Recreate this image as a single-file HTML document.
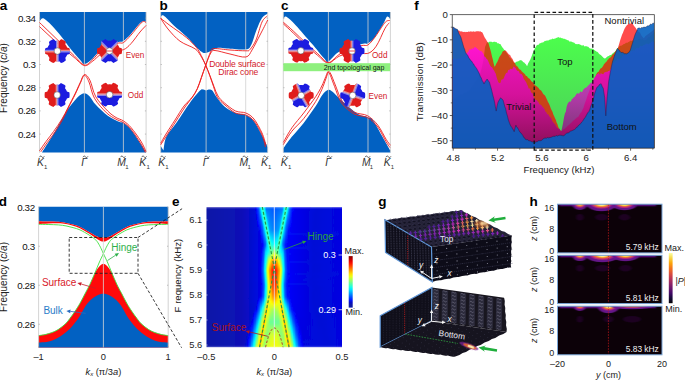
<!DOCTYPE html><html><head><meta charset="utf-8"><style>html,body{margin:0;padding:0;background:#fff;width:685px;height:380px;overflow:hidden}svg{display:block}</style></head><body><svg width="685" height="380" viewBox="0 0 685 380">
<rect width="685" height="380" fill="#fff"/>
<defs><filter id="gsoft" x="-0.15" y="-0.15" width="1.3" height="1.3"><feGaussianBlur stdDeviation="0.5"/></filter></defs>
<path d="M39.50,12.00 L39.50,21.50 C40.10,20.97 41.05,17.65 43.10,18.30 C45.15,18.95 48.77,22.38 51.80,25.40 C54.83,28.42 58.15,32.47 61.30,36.40 C64.45,40.33 67.55,45.05 70.70,49.00 C73.85,52.95 77.92,57.60 80.20,60.10 C82.48,62.60 82.32,64.28 84.40,64.00 C86.48,63.72 89.87,60.93 92.70,58.40 C95.53,55.87 98.52,51.12 101.40,48.80 C104.28,46.48 107.12,45.65 110.00,44.50 C112.88,43.35 116.47,42.48 118.70,41.90 C120.93,41.32 121.37,42.32 123.40,41.00 C125.43,39.68 128.20,36.90 130.90,34.00 C133.60,31.10 137.43,25.77 139.60,23.60 C141.77,21.43 142.82,21.23 143.90,21.00 C144.98,20.77 145.73,22.00 146.10,22.20 L146.10,22.20 L146.10,12.00 Z" fill="#0261c2"/>
<path d="M39.50,152.60 L42.00,152.60 C44.17,149.10 51.00,138.37 55.00,131.60 C59.00,124.83 62.92,116.93 66.00,112.00 C69.08,107.07 71.25,104.73 73.50,102.00 C75.75,99.27 77.68,97.07 79.50,95.60 C81.32,94.13 82.73,93.10 84.40,93.20 C86.07,93.30 87.60,94.27 89.50,96.20 C91.40,98.13 92.77,101.55 95.80,104.80 C98.83,108.05 103.75,112.83 107.70,115.70 C111.65,118.57 116.88,120.82 119.50,122.00 C122.12,123.18 121.43,121.48 123.40,122.80 C125.37,124.12 128.40,126.37 131.30,129.90 C134.20,133.43 138.33,140.27 140.80,144.00 C143.27,147.73 145.22,150.92 146.10,152.30 L146.10,152.30 L146.10,152.60 Z" fill="#0261c2"/>
<line x1="84.40" y1="12.00" x2="84.40" y2="152.60" stroke="#d0d0d0" stroke-width="0.8"/>
<line x1="123.40" y1="12.00" x2="123.40" y2="152.60" stroke="#d0d0d0" stroke-width="0.8"/>
<line x1="39.50" y1="12.00" x2="39.50" y2="152.60" stroke="#c8c8c8" stroke-width="0.8"/>
<line x1="146.10" y1="12.00" x2="146.10" y2="152.60" stroke="#c8c8c8" stroke-width="0.8"/>
<line x1="39.50" y1="18.10" x2="40.70" y2="18.10" stroke="#999" stroke-width="0.6"/>
<line x1="144.90" y1="18.10" x2="146.10" y2="18.10" stroke="#999" stroke-width="0.6"/>
<line x1="39.50" y1="41.30" x2="40.70" y2="41.30" stroke="#999" stroke-width="0.6"/>
<line x1="144.90" y1="41.30" x2="146.10" y2="41.30" stroke="#999" stroke-width="0.6"/>
<line x1="39.50" y1="64.50" x2="40.70" y2="64.50" stroke="#999" stroke-width="0.6"/>
<line x1="144.90" y1="64.50" x2="146.10" y2="64.50" stroke="#999" stroke-width="0.6"/>
<line x1="39.50" y1="87.70" x2="40.70" y2="87.70" stroke="#999" stroke-width="0.6"/>
<line x1="144.90" y1="87.70" x2="146.10" y2="87.70" stroke="#999" stroke-width="0.6"/>
<line x1="39.50" y1="110.90" x2="40.70" y2="110.90" stroke="#999" stroke-width="0.6"/>
<line x1="144.90" y1="110.90" x2="146.10" y2="110.90" stroke="#999" stroke-width="0.6"/>
<line x1="39.50" y1="134.10" x2="40.70" y2="134.10" stroke="#999" stroke-width="0.6"/>
<line x1="144.90" y1="134.10" x2="146.10" y2="134.10" stroke="#999" stroke-width="0.6"/>
<path d="M39.50,22.50 C41.25,24.18 46.25,28.98 50.00,32.60 C53.75,36.22 58.00,40.38 62.00,44.20 C66.00,48.02 70.27,52.03 74.00,55.50 C77.73,58.97 81.28,64.33 84.40,65.00 C87.52,65.67 89.87,62.00 92.70,59.50 C95.53,57.00 98.52,52.33 101.40,50.00 C104.28,47.67 107.12,46.67 110.00,45.50 C112.88,44.33 116.47,43.48 118.70,43.00 C120.93,42.52 121.37,43.90 123.40,42.60 C125.43,41.30 128.20,38.20 130.90,35.20 C133.60,32.20 137.50,26.90 139.60,24.60 C141.70,22.30 142.42,21.70 143.50,21.40 C144.58,21.10 145.67,22.57 146.10,22.80" fill="none" stroke="#ee1c1c" stroke-width="0.90"/>
<path d="M39.50,26.60 C41.25,28.23 46.25,32.95 50.00,36.40 C53.75,39.85 58.00,43.82 62.00,47.30 C66.00,50.78 70.27,54.25 74.00,57.30 C77.73,60.35 81.28,64.95 84.40,65.60 C87.52,66.25 89.87,63.13 92.70,61.20 C95.53,59.27 98.02,55.70 101.40,54.00 C104.78,52.30 109.33,51.72 113.00,51.00 C116.67,50.28 120.40,50.93 123.40,49.70 C126.40,48.47 128.23,46.55 131.00,43.60 C133.77,40.65 137.48,35.03 140.00,32.00 C142.52,28.97 145.08,26.50 146.10,25.40" fill="none" stroke="#ee1c1c" stroke-width="0.90"/>
<path d="M39.50,150.80 C40.58,149.25 43.67,144.70 46.00,141.50 C48.33,138.30 50.83,135.35 53.50,131.60 C56.17,127.85 59.58,123.02 62.00,119.00 C64.42,114.98 65.82,111.73 68.00,107.50 C70.18,103.27 73.10,97.68 75.10,93.60 C77.10,89.52 78.45,86.17 80.00,83.00 C81.55,79.83 82.75,75.07 84.40,74.60 C86.05,74.13 88.00,76.50 89.90,80.20 C91.80,83.90 92.83,91.67 95.80,96.80 C98.77,101.93 104.33,107.55 107.70,111.00 C111.07,114.45 113.38,115.85 116.00,117.50 C118.62,119.15 120.90,119.23 123.40,120.90 C125.90,122.57 128.10,124.15 131.00,127.50 C133.90,130.85 138.28,136.98 140.80,141.00 C143.32,145.02 145.22,149.83 146.10,151.60" fill="none" stroke="#ee1c1c" stroke-width="0.90"/>
<path d="M40.80,151.80 C41.87,150.27 44.93,145.75 47.20,142.60 C49.47,139.45 51.85,136.70 54.40,132.90 C56.95,129.10 60.18,123.95 62.50,119.80 C64.82,115.65 66.17,112.28 68.30,108.00 C70.43,103.72 73.32,98.20 75.30,94.10 C77.28,90.00 78.68,86.52 80.20,83.40 C81.72,80.28 82.93,75.63 84.40,75.40 C85.87,75.17 87.32,78.18 89.00,82.00 C90.68,85.82 91.58,93.17 94.50,98.30 C97.42,103.43 102.92,109.32 106.50,112.80 C110.08,116.28 113.18,117.57 116.00,119.20 C118.82,120.83 120.90,120.92 123.40,122.60 C125.90,124.28 128.18,125.93 131.00,129.30 C133.82,132.67 137.92,138.95 140.30,142.80 C142.68,146.65 144.47,150.80 145.30,152.40" fill="none" stroke="#ee1c1c" stroke-width="0.90"/>
<path d="M160.70,12.00 L160.70,17.50 C161.17,17.18 161.32,14.28 163.50,15.60 C165.68,16.92 169.98,21.93 173.80,25.40 C177.62,28.87 182.45,32.58 186.40,36.40 C190.35,40.22 194.87,45.67 197.50,48.30 C200.13,50.93 200.77,51.42 202.20,52.20 C203.63,52.98 204.52,53.27 206.10,53.00 C207.68,52.73 209.72,51.47 211.70,50.60 C213.68,49.73 215.45,48.15 218.00,47.80 C220.55,47.45 222.37,48.23 227.00,48.50 C231.63,48.77 241.75,50.03 245.80,49.40 C249.85,48.77 249.52,47.93 251.30,44.70 C253.08,41.47 254.72,34.45 256.50,30.00 C258.28,25.55 260.13,20.75 262.00,18.00 C263.87,15.25 266.75,14.25 267.70,13.50 L267.70,12.00 Z" fill="#0261c2"/>
<path d="M160.70,152.60 L160.70,146.00 L163.50,150.50 C163.98,148.22 164.15,141.55 166.40,136.80 C168.65,132.05 173.13,127.60 177.00,122.00 C180.87,116.40 185.77,108.45 189.60,103.20 C193.43,97.95 197.68,92.78 200.00,90.50 C202.32,88.22 202.48,89.50 203.50,89.50 C204.52,89.50 205.23,90.50 206.10,90.50 C206.97,90.50 207.67,89.50 208.70,89.50 C209.73,89.50 211.00,89.25 212.30,90.50 C213.60,91.75 214.47,94.32 216.50,97.00 C218.53,99.68 221.33,103.93 224.50,106.60 C227.67,109.27 231.95,111.62 235.50,113.00 C239.05,114.38 242.72,113.50 245.80,114.90 C248.88,116.30 251.40,118.17 254.00,121.40 C256.60,124.63 259.12,130.00 261.40,134.30 C263.68,138.60 266.65,145.05 267.70,147.20 L267.70,152.60 Z" fill="#0261c2"/>
<line x1="206.10" y1="12.00" x2="206.10" y2="152.60" stroke="#d0d0d0" stroke-width="0.8"/>
<line x1="245.70" y1="12.00" x2="245.70" y2="152.60" stroke="#d0d0d0" stroke-width="0.8"/>
<line x1="160.70" y1="12.00" x2="160.70" y2="152.60" stroke="#c8c8c8" stroke-width="0.8"/>
<line x1="267.70" y1="12.00" x2="267.70" y2="152.60" stroke="#c8c8c8" stroke-width="0.8"/>
<line x1="160.70" y1="18.10" x2="161.90" y2="18.10" stroke="#999" stroke-width="0.6"/>
<line x1="266.50" y1="18.10" x2="267.70" y2="18.10" stroke="#999" stroke-width="0.6"/>
<line x1="160.70" y1="41.30" x2="161.90" y2="41.30" stroke="#999" stroke-width="0.6"/>
<line x1="266.50" y1="41.30" x2="267.70" y2="41.30" stroke="#999" stroke-width="0.6"/>
<line x1="160.70" y1="64.50" x2="161.90" y2="64.50" stroke="#999" stroke-width="0.6"/>
<line x1="266.50" y1="64.50" x2="267.70" y2="64.50" stroke="#999" stroke-width="0.6"/>
<line x1="160.70" y1="87.70" x2="161.90" y2="87.70" stroke="#999" stroke-width="0.6"/>
<line x1="266.50" y1="87.70" x2="267.70" y2="87.70" stroke="#999" stroke-width="0.6"/>
<line x1="160.70" y1="110.90" x2="161.90" y2="110.90" stroke="#999" stroke-width="0.6"/>
<line x1="266.50" y1="110.90" x2="267.70" y2="110.90" stroke="#999" stroke-width="0.6"/>
<line x1="160.70" y1="134.10" x2="161.90" y2="134.10" stroke="#999" stroke-width="0.6"/>
<line x1="266.50" y1="134.10" x2="267.70" y2="134.10" stroke="#999" stroke-width="0.6"/>
<path d="M160.70,18.30 C162.25,19.50 165.72,22.30 170.00,25.50 C174.28,28.70 181.98,33.83 186.40,37.50 C190.82,41.17 194.03,44.50 196.50,47.50 C198.97,50.50 199.67,52.55 201.20,55.50 C202.73,58.45 204.23,61.82 205.70,65.20 C207.17,68.58 208.62,72.25 210.00,75.80 C211.38,79.35 212.67,83.13 214.00,86.50 C215.33,89.87 216.25,93.25 218.00,96.00 C219.75,98.75 221.58,100.50 224.50,103.00 C227.42,105.50 231.95,109.33 235.50,111.00 C239.05,112.67 242.72,111.67 245.80,113.00 C248.88,114.33 251.30,115.67 254.00,119.00 C256.70,122.33 260.00,128.67 262.00,133.00 C264.00,137.33 265.33,143.00 266.00,145.00" fill="none" stroke="#ee1c1c" stroke-width="0.90"/>
<path d="M160.70,18.30 C161.92,20.08 164.78,25.18 168.00,29.00 C171.22,32.82 175.50,37.90 180.00,41.20 C184.50,44.50 191.58,46.42 195.00,48.80 C198.42,51.18 198.72,52.77 200.50,55.50 C202.28,58.23 204.15,61.82 205.70,65.20 C207.25,68.58 208.48,72.20 209.80,75.80 C211.12,79.40 212.32,83.18 213.60,86.80 C214.88,90.42 215.60,94.47 217.50,97.50 C219.40,100.53 222.00,102.42 225.00,105.00 C228.00,107.58 232.03,111.33 235.50,113.00 C238.97,114.67 242.72,113.67 245.80,115.00 C248.88,116.33 251.30,117.67 254.00,121.00 C256.70,124.33 260.08,130.67 262.00,135.00 C263.92,139.33 264.92,145.00 265.50,147.00" fill="none" stroke="#ee1c1c" stroke-width="0.90"/>
<path d="M267.20,16.00 C266.33,17.00 263.87,18.00 262.00,22.00 C260.13,26.00 258.00,35.42 256.00,40.00 C254.00,44.58 251.70,47.70 250.00,49.50 C248.30,51.30 249.13,50.72 245.80,50.80 C242.47,50.88 235.30,50.37 230.00,50.00 C224.70,49.63 217.25,48.27 214.00,48.60 C210.75,48.93 211.88,49.23 210.50,52.00 C209.12,54.77 207.20,60.95 205.70,65.20 C204.20,69.45 202.87,73.62 201.50,77.50 C200.13,81.38 199.00,85.25 197.50,88.50 C196.00,91.75 194.75,94.08 192.50,97.00 C190.25,99.92 186.92,102.17 184.00,106.00 C181.08,109.83 178.00,115.33 175.00,120.00 C172.00,124.67 168.38,130.13 166.00,134.00 C163.62,137.87 161.58,141.67 160.70,143.20" fill="none" stroke="#ee1c1c" stroke-width="0.90"/>
<path d="M267.70,20.00 C266.42,22.50 262.62,30.00 260.00,35.00 C257.38,40.00 254.37,46.33 252.00,50.00 C249.63,53.67 249.47,56.33 245.80,57.00 C242.13,57.67 235.13,55.08 230.00,54.00 C224.87,52.92 218.20,50.67 215.00,50.50 C211.80,50.33 212.35,50.55 210.80,53.00 C209.25,55.45 207.28,61.12 205.70,65.20 C204.12,69.28 202.72,73.57 201.30,77.50 C199.88,81.43 198.75,85.47 197.20,88.80 C195.65,92.13 194.03,94.47 192.00,97.50 C189.97,100.53 187.67,103.08 185.00,107.00 C182.33,110.92 179.00,116.33 176.00,121.00 C173.00,125.67 169.55,131.03 167.00,135.00 C164.45,138.97 161.75,143.17 160.70,144.80" fill="none" stroke="#ee1c1c" stroke-width="0.90"/>
<path d="M283.30,12.00 L283.30,19.00 C283.82,18.62 284.30,15.63 286.40,16.70 C288.50,17.77 291.68,20.93 295.90,25.40 C300.12,29.87 306.97,37.98 311.70,43.50 C316.43,49.02 321.55,55.47 324.30,58.50 C327.05,61.53 325.87,62.73 328.20,61.70 C330.53,60.67 334.37,54.75 338.30,52.30 C342.23,49.85 347.47,48.45 351.80,47.00 C356.13,45.55 361.63,44.20 364.30,43.60 C366.97,43.00 366.07,44.42 367.80,43.40 C369.53,42.38 372.10,40.80 374.70,37.50 C377.30,34.20 381.37,27.07 383.40,23.60 C385.43,20.13 385.82,17.57 386.90,16.70 C387.98,15.83 389.40,18.12 389.90,18.40 L390.40,18.40 L390.40,12.00 Z" fill="#0261c2"/>
<path d="M283.30,152.60 L283.30,148.50 C284.68,146.60 288.20,141.37 291.60,137.10 C295.00,132.83 299.70,128.03 303.70,122.90 C307.70,117.77 312.50,110.95 315.60,106.30 C318.70,101.65 320.20,97.75 322.30,95.00 C324.40,92.25 326.43,90.30 328.20,89.80 C329.97,89.30 330.93,90.45 332.90,92.00 C334.87,93.55 337.23,96.53 340.00,99.10 C342.77,101.67 346.35,104.83 349.50,107.40 C352.65,109.97 355.90,112.92 358.90,114.50 C361.90,116.08 365.13,115.92 367.50,116.90 C369.87,117.88 370.58,117.05 373.10,120.40 C375.62,123.75 379.80,132.07 382.60,137.00 C385.40,141.93 388.68,147.83 389.90,150.00 L390.40,150.00 L390.40,152.60 Z" fill="#0261c2"/>
<line x1="328.40" y1="12.00" x2="328.40" y2="152.60" stroke="#d0d0d0" stroke-width="0.8"/>
<line x1="368.00" y1="12.00" x2="368.00" y2="152.60" stroke="#d0d0d0" stroke-width="0.8"/>
<line x1="283.30" y1="12.00" x2="283.30" y2="152.60" stroke="#c8c8c8" stroke-width="0.8"/>
<line x1="390.40" y1="12.00" x2="390.40" y2="152.60" stroke="#c8c8c8" stroke-width="0.8"/>
<line x1="283.30" y1="18.10" x2="284.50" y2="18.10" stroke="#999" stroke-width="0.6"/>
<line x1="389.20" y1="18.10" x2="390.40" y2="18.10" stroke="#999" stroke-width="0.6"/>
<line x1="283.30" y1="41.30" x2="284.50" y2="41.30" stroke="#999" stroke-width="0.6"/>
<line x1="389.20" y1="41.30" x2="390.40" y2="41.30" stroke="#999" stroke-width="0.6"/>
<line x1="283.30" y1="64.50" x2="284.50" y2="64.50" stroke="#999" stroke-width="0.6"/>
<line x1="389.20" y1="64.50" x2="390.40" y2="64.50" stroke="#999" stroke-width="0.6"/>
<line x1="283.30" y1="87.70" x2="284.50" y2="87.70" stroke="#999" stroke-width="0.6"/>
<line x1="389.20" y1="87.70" x2="390.40" y2="87.70" stroke="#999" stroke-width="0.6"/>
<line x1="283.30" y1="110.90" x2="284.50" y2="110.90" stroke="#999" stroke-width="0.6"/>
<line x1="389.20" y1="110.90" x2="390.40" y2="110.90" stroke="#999" stroke-width="0.6"/>
<line x1="283.30" y1="134.10" x2="284.50" y2="134.10" stroke="#999" stroke-width="0.6"/>
<line x1="389.20" y1="134.10" x2="390.40" y2="134.10" stroke="#999" stroke-width="0.6"/>
<path d="M283.30,22.20 C285.05,23.75 290.05,28.03 293.80,31.50 C297.55,34.97 301.80,39.28 305.80,43.00 C309.80,46.72 314.07,50.55 317.80,53.80 C321.53,57.05 324.87,62.22 328.20,62.50 C331.53,62.78 334.53,57.75 337.80,55.50 C341.07,53.25 343.80,50.67 347.80,49.00 C351.80,47.33 358.47,46.17 361.80,45.50 C365.13,44.83 365.65,46.33 367.80,45.00 C369.95,43.67 372.10,40.92 374.70,37.50 C377.30,34.08 381.38,27.25 383.40,24.50 C385.42,21.75 385.72,21.67 386.80,21.00 C387.88,20.33 389.38,20.58 389.90,20.50" fill="none" stroke="#ee1c1c" stroke-width="0.90"/>
<path d="M283.30,23.80 C285.05,25.42 290.05,29.97 293.80,33.50 C297.55,37.03 301.80,41.33 305.80,45.00 C309.80,48.67 314.07,52.50 317.80,55.50 C321.53,58.50 324.55,62.92 328.20,63.00 C331.85,63.08 335.27,57.83 339.70,56.00 C344.13,54.17 350.17,52.42 354.80,52.00 C359.43,51.58 363.93,54.47 367.50,53.50 C371.07,52.53 373.32,50.32 376.20,46.20 C379.08,42.08 382.63,32.70 384.80,28.80 C386.97,24.90 388.47,23.80 389.20,22.80" fill="none" stroke="#ee1c1c" stroke-width="0.90"/>
<path d="M283.30,142.40 C284.73,139.97 288.50,132.70 291.90,127.80 C295.30,122.90 299.75,118.17 303.70,113.00 C307.65,107.83 312.58,101.30 315.60,96.80 C318.62,92.30 320.10,89.38 321.80,86.00 C323.50,82.62 324.73,78.95 325.80,76.50 C326.87,74.05 327.37,71.72 328.20,71.30 C329.03,70.88 329.62,71.72 330.80,74.00 C331.98,76.28 333.37,80.42 335.30,85.00 C337.23,89.58 339.25,96.98 342.40,101.50 C345.55,106.02 350.02,109.73 354.20,112.10 C358.38,114.47 363.57,113.53 367.50,115.70 C371.43,117.87 374.70,121.17 377.80,125.10 C380.90,129.03 384.00,135.93 386.10,139.30 C388.20,142.67 389.68,144.30 390.40,145.30" fill="none" stroke="#ee1c1c" stroke-width="0.90"/>
<path d="M283.30,144.60 C284.73,142.37 288.50,135.53 291.90,131.20 C295.30,126.87 299.75,123.53 303.70,118.60 C307.65,113.67 312.58,106.45 315.60,101.60 C318.62,96.75 320.10,93.27 321.80,89.50 C323.50,85.73 324.73,81.82 325.80,79.00 C326.87,76.18 327.43,73.18 328.20,72.60 C328.97,72.02 329.33,73.17 330.40,75.50 C331.47,77.83 332.73,82.02 334.60,86.60 C336.47,91.18 338.33,98.43 341.60,103.00 C344.87,107.57 349.88,111.57 354.20,114.00 C358.52,116.43 363.57,115.43 367.50,117.60 C371.43,119.77 374.75,123.07 377.80,127.00 C380.85,130.93 383.78,137.78 385.80,141.20 C387.82,144.62 389.22,146.45 389.90,147.50" fill="none" stroke="#ee1c1c" stroke-width="0.90"/>
<rect x="283.30" y="63.2" width="106.8" height="8.0" fill="#8ef07e"/>
<text x="354.0" y="69.7" font-family="Liberation Sans, sans-serif" font-size="7.0" fill="#111" text-anchor="middle">2nd topological gap</text>
<clipPath id="g574_511"><path d="M69.90,51.10 L69.89,51.65 L69.85,52.19 L69.79,52.73 L69.71,53.27 L69.60,53.81 L68.73,54.14 L67.82,54.38 L67.15,54.65 L66.99,55.07 L66.80,55.48 L66.60,55.89 L66.39,56.29 L66.15,56.67 L65.90,57.05 L65.63,57.42 L65.35,57.77 L65.45,58.48 L65.69,59.39 L65.84,60.32 L65.43,60.68 L65.01,61.02 L64.57,61.34 L64.12,61.64 L63.65,61.93 L63.17,62.19 L62.68,62.43 L62.18,62.65 L61.68,62.85 L61.16,63.02 L60.44,62.43 L59.76,61.76 L59.20,61.32 L58.75,61.39 L58.30,61.44 L57.85,61.47 L57.40,61.48 L56.95,61.47 L56.50,61.44 L56.05,61.39 L55.60,61.32 L55.04,61.76 L54.36,62.43 L53.64,63.02 L53.12,62.85 L52.62,62.65 L52.12,62.43 L51.63,62.19 L51.15,61.93 L50.68,61.64 L50.23,61.34 L49.79,61.02 L49.37,60.68 L48.96,60.32 L49.11,59.39 L49.35,58.48 L49.45,57.77 L49.17,57.42 L48.90,57.05 L48.65,56.67 L48.41,56.29 L48.20,55.89 L48.00,55.48 L47.81,55.07 L47.65,54.65 L46.98,54.38 L46.07,54.14 L45.20,53.81 L45.09,53.27 L45.01,52.73 L44.95,52.19 L44.91,51.65 L44.90,51.10 L44.91,50.55 L44.95,50.01 L45.01,49.47 L45.09,48.93 L45.20,48.39 L46.07,48.06 L46.98,47.82 L47.65,47.55 L47.81,47.13 L48.00,46.72 L48.20,46.31 L48.41,45.91 L48.65,45.53 L48.90,45.15 L49.17,44.78 L49.45,44.43 L49.35,43.72 L49.11,42.81 L48.96,41.88 L49.37,41.52 L49.79,41.18 L50.23,40.86 L50.68,40.56 L51.15,40.27 L51.63,40.01 L52.12,39.77 L52.62,39.55 L53.12,39.35 L53.64,39.18 L54.36,39.77 L55.04,40.44 L55.60,40.88 L56.05,40.81 L56.50,40.76 L56.95,40.73 L57.40,40.73 L57.85,40.73 L58.30,40.76 L58.75,40.81 L59.20,40.88 L59.76,40.44 L60.44,39.77 L61.16,39.18 L61.68,39.35 L62.18,39.55 L62.68,39.77 L63.17,40.01 L63.65,40.27 L64.12,40.56 L64.57,40.86 L65.01,41.18 L65.43,41.52 L65.84,41.88 L65.69,42.81 L65.45,43.72 L65.35,44.43 L65.63,44.78 L65.90,45.15 L66.15,45.53 L66.39,45.91 L66.60,46.31 L66.80,46.72 L66.99,47.13 L67.15,47.55 L67.82,47.82 L68.73,48.06 L69.60,48.39 L69.71,48.93 L69.79,49.47 L69.85,50.01 L69.89,50.55 Z"/></clipPath>
<g filter="url(#gsoft)"><g clip-path="url(#g574_511)">
<path d="M57.40,51.10 L37.40,51.10 A20.00,20.00 0 0 1 57.40,31.10 Z" fill="#1c1ce0"/>
<path d="M57.40,51.10 L57.40,31.10 A20.00,20.00 0 0 1 77.40,51.10 Z" fill="#e01e1e"/>
<path d="M57.40,51.10 L57.40,71.10 A20.00,20.00 0 0 1 37.40,51.10 Z" fill="#e01e1e"/>
<path d="M57.40,51.10 L77.40,51.10 A20.00,20.00 0 0 1 57.40,71.10 Z" fill="#1c1ce0"/>
<line x1="57.40" y1="51.10" x2="73.65" y2="51.10" stroke="#f4eef4" stroke-width="2.8" stroke-opacity="0.5"/>
<line x1="57.40" y1="51.10" x2="57.40" y2="67.35" stroke="#f4eef4" stroke-width="2.8" stroke-opacity="0.5"/>
<line x1="57.40" y1="51.10" x2="41.15" y2="51.10" stroke="#f4eef4" stroke-width="2.8" stroke-opacity="0.5"/>
<line x1="57.40" y1="51.10" x2="57.40" y2="34.85" stroke="#f4eef4" stroke-width="2.8" stroke-opacity="0.5"/>
</g></g>
<circle cx="57.40" cy="51.10" r="3.25" fill="#fff" stroke="#444" stroke-width="0.5"/>
<clipPath id="g1095_510"><path d="M122.00,51.00 L121.99,51.55 L121.95,52.09 L121.89,52.63 L121.81,53.17 L121.70,53.71 L120.83,54.04 L119.92,54.28 L119.25,54.55 L119.09,54.97 L118.90,55.38 L118.70,55.79 L118.49,56.19 L118.25,56.57 L118.00,56.95 L117.73,57.32 L117.45,57.67 L117.55,58.38 L117.79,59.29 L117.94,60.22 L117.53,60.58 L117.11,60.92 L116.67,61.24 L116.22,61.54 L115.75,61.83 L115.27,62.09 L114.78,62.33 L114.28,62.55 L113.78,62.75 L113.26,62.92 L112.54,62.33 L111.86,61.66 L111.30,61.22 L110.85,61.29 L110.40,61.34 L109.95,61.37 L109.50,61.38 L109.05,61.37 L108.60,61.34 L108.15,61.29 L107.70,61.22 L107.14,61.66 L106.46,62.33 L105.74,62.92 L105.22,62.75 L104.72,62.55 L104.22,62.33 L103.73,62.09 L103.25,61.83 L102.78,61.54 L102.33,61.24 L101.89,60.92 L101.47,60.58 L101.06,60.22 L101.21,59.29 L101.45,58.38 L101.55,57.67 L101.27,57.32 L101.00,56.95 L100.75,56.57 L100.51,56.19 L100.30,55.79 L100.10,55.38 L99.91,54.97 L99.75,54.55 L99.08,54.28 L98.17,54.04 L97.30,53.71 L97.19,53.17 L97.11,52.63 L97.05,52.09 L97.01,51.55 L97.00,51.00 L97.01,50.45 L97.05,49.91 L97.11,49.37 L97.19,48.83 L97.30,48.29 L98.17,47.96 L99.08,47.72 L99.75,47.45 L99.91,47.03 L100.10,46.62 L100.30,46.21 L100.51,45.81 L100.75,45.43 L101.00,45.05 L101.27,44.68 L101.55,44.33 L101.45,43.62 L101.21,42.71 L101.06,41.78 L101.47,41.42 L101.89,41.08 L102.33,40.76 L102.78,40.46 L103.25,40.17 L103.73,39.91 L104.22,39.67 L104.72,39.45 L105.22,39.25 L105.74,39.08 L106.46,39.67 L107.14,40.34 L107.70,40.78 L108.15,40.71 L108.60,40.66 L109.05,40.63 L109.50,40.62 L109.95,40.63 L110.40,40.66 L110.85,40.71 L111.30,40.78 L111.86,40.34 L112.54,39.67 L113.26,39.08 L113.78,39.25 L114.28,39.45 L114.78,39.67 L115.27,39.91 L115.75,40.17 L116.22,40.46 L116.67,40.76 L117.11,41.08 L117.53,41.42 L117.94,41.78 L117.79,42.71 L117.55,43.62 L117.45,44.33 L117.73,44.68 L118.00,45.05 L118.25,45.43 L118.49,45.81 L118.70,46.21 L118.90,46.62 L119.09,47.03 L119.25,47.45 L119.92,47.72 L120.83,47.96 L121.70,48.29 L121.81,48.83 L121.89,49.37 L121.95,49.91 L121.99,50.45 Z"/></clipPath>
<g filter="url(#gsoft)"><g clip-path="url(#g1095_510)">
<path d="M109.50,51.00 L123.64,36.86 A20.00,20.00 0 0 1 123.64,65.14 Z" fill="#e01e1e"/>
<path d="M109.50,51.00 L95.36,65.14 A20.00,20.00 0 0 1 95.36,36.86 Z" fill="#e01e1e"/>
<path d="M109.50,51.00 L123.64,65.14 A20.00,20.00 0 0 1 95.36,65.14 Z" fill="#1c1ce0"/>
<path d="M109.50,51.00 L95.36,36.86 A20.00,20.00 0 0 1 123.64,36.86 Z" fill="#1c1ce0"/>
<line x1="109.50" y1="51.00" x2="120.99" y2="62.49" stroke="#f4eef4" stroke-width="2.8" stroke-opacity="0.5"/>
<line x1="109.50" y1="51.00" x2="98.01" y2="62.49" stroke="#f4eef4" stroke-width="2.8" stroke-opacity="0.5"/>
<line x1="109.50" y1="51.00" x2="98.01" y2="39.51" stroke="#f4eef4" stroke-width="2.8" stroke-opacity="0.5"/>
<line x1="109.50" y1="51.00" x2="120.99" y2="39.51" stroke="#f4eef4" stroke-width="2.8" stroke-opacity="0.5"/>
</g></g>
<circle cx="109.50" cy="51.00" r="3.25" fill="#fff" stroke="#444" stroke-width="0.5"/>
<line x1="106.50" y1="51.00" x2="112.50" y2="51.00" stroke="#e02020" stroke-width="0.8"/>
<clipPath id="g571_950"><path d="M69.60,95.00 L69.59,95.55 L69.55,96.09 L69.49,96.63 L69.41,97.17 L69.30,97.71 L68.43,98.04 L67.52,98.28 L66.85,98.55 L66.69,98.97 L66.50,99.38 L66.30,99.79 L66.09,100.19 L65.85,100.57 L65.60,100.95 L65.33,101.32 L65.05,101.67 L65.15,102.38 L65.39,103.29 L65.54,104.22 L65.13,104.58 L64.71,104.92 L64.27,105.24 L63.82,105.54 L63.35,105.83 L62.87,106.09 L62.38,106.33 L61.88,106.55 L61.38,106.75 L60.86,106.92 L60.14,106.33 L59.46,105.66 L58.90,105.22 L58.45,105.29 L58.00,105.34 L57.55,105.37 L57.10,105.38 L56.65,105.37 L56.20,105.34 L55.75,105.29 L55.30,105.22 L54.74,105.66 L54.06,106.33 L53.34,106.92 L52.82,106.75 L52.32,106.55 L51.82,106.33 L51.33,106.09 L50.85,105.83 L50.38,105.54 L49.93,105.24 L49.49,104.92 L49.07,104.58 L48.66,104.22 L48.81,103.29 L49.05,102.38 L49.15,101.67 L48.87,101.32 L48.60,100.95 L48.35,100.57 L48.11,100.19 L47.90,99.79 L47.70,99.38 L47.51,98.97 L47.35,98.55 L46.68,98.28 L45.77,98.04 L44.90,97.71 L44.79,97.17 L44.71,96.63 L44.65,96.09 L44.61,95.55 L44.60,95.00 L44.61,94.45 L44.65,93.91 L44.71,93.37 L44.79,92.83 L44.90,92.29 L45.77,91.96 L46.68,91.72 L47.35,91.45 L47.51,91.03 L47.70,90.62 L47.90,90.21 L48.11,89.81 L48.35,89.43 L48.60,89.05 L48.87,88.68 L49.15,88.33 L49.05,87.62 L48.81,86.71 L48.66,85.78 L49.07,85.42 L49.49,85.08 L49.93,84.76 L50.38,84.46 L50.85,84.17 L51.33,83.91 L51.82,83.67 L52.32,83.45 L52.82,83.25 L53.34,83.08 L54.06,83.67 L54.74,84.34 L55.30,84.78 L55.75,84.71 L56.20,84.66 L56.65,84.63 L57.10,84.62 L57.55,84.63 L58.00,84.66 L58.45,84.71 L58.90,84.78 L59.46,84.34 L60.14,83.67 L60.86,83.08 L61.38,83.25 L61.88,83.45 L62.38,83.67 L62.87,83.91 L63.35,84.17 L63.82,84.46 L64.27,84.76 L64.71,85.08 L65.13,85.42 L65.54,85.78 L65.39,86.71 L65.15,87.62 L65.05,88.33 L65.33,88.68 L65.60,89.05 L65.85,89.43 L66.09,89.81 L66.30,90.21 L66.50,90.62 L66.69,91.03 L66.85,91.45 L67.52,91.72 L68.43,91.96 L69.30,92.29 L69.41,92.83 L69.49,93.37 L69.55,93.91 L69.59,94.45 Z"/></clipPath>
<g filter="url(#gsoft)"><g clip-path="url(#g571_950)">
<path d="M57.10,95.00 L57.10,115.00 A20.00,20.00 0 0 1 57.10,75.00 Z" fill="#e01e1e"/>
<path d="M57.10,95.00 L57.10,75.00 A20.00,20.00 0 0 1 57.10,115.00 Z" fill="#1c1ce0"/>
<line x1="57.10" y1="95.00" x2="57.10" y2="111.25" stroke="#f4eef4" stroke-width="2.8" stroke-opacity="0.5"/>
<line x1="57.10" y1="95.00" x2="57.10" y2="78.75" stroke="#f4eef4" stroke-width="2.8" stroke-opacity="0.5"/>
</g></g>
<circle cx="57.10" cy="95.00" r="3.25" fill="#fff" stroke="#444" stroke-width="0.5"/>
<clipPath id="g1096_947"><path d="M122.10,94.70 L122.09,95.25 L122.05,95.79 L121.99,96.33 L121.91,96.87 L121.80,97.41 L120.93,97.74 L120.02,97.98 L119.35,98.25 L119.19,98.67 L119.00,99.08 L118.80,99.49 L118.59,99.89 L118.35,100.27 L118.10,100.65 L117.83,101.02 L117.55,101.37 L117.65,102.08 L117.89,102.99 L118.04,103.92 L117.63,104.28 L117.21,104.62 L116.77,104.94 L116.32,105.24 L115.85,105.53 L115.37,105.79 L114.88,106.03 L114.38,106.25 L113.88,106.45 L113.36,106.62 L112.64,106.03 L111.96,105.36 L111.40,104.92 L110.95,104.99 L110.50,105.04 L110.05,105.07 L109.60,105.08 L109.15,105.07 L108.70,105.04 L108.25,104.99 L107.80,104.92 L107.24,105.36 L106.56,106.03 L105.84,106.62 L105.32,106.45 L104.82,106.25 L104.32,106.03 L103.83,105.79 L103.35,105.53 L102.88,105.24 L102.43,104.94 L101.99,104.62 L101.57,104.28 L101.16,103.92 L101.31,102.99 L101.55,102.08 L101.65,101.37 L101.37,101.02 L101.10,100.65 L100.85,100.27 L100.61,99.89 L100.40,99.49 L100.20,99.08 L100.01,98.67 L99.85,98.25 L99.18,97.98 L98.27,97.74 L97.40,97.41 L97.29,96.87 L97.21,96.33 L97.15,95.79 L97.11,95.25 L97.10,94.70 L97.11,94.15 L97.15,93.61 L97.21,93.07 L97.29,92.53 L97.40,91.99 L98.27,91.66 L99.18,91.42 L99.85,91.15 L100.01,90.73 L100.20,90.32 L100.40,89.91 L100.61,89.51 L100.85,89.13 L101.10,88.75 L101.37,88.38 L101.65,88.03 L101.55,87.32 L101.31,86.41 L101.16,85.48 L101.57,85.12 L101.99,84.78 L102.43,84.46 L102.88,84.16 L103.35,83.87 L103.83,83.61 L104.32,83.37 L104.82,83.15 L105.32,82.95 L105.84,82.78 L106.56,83.37 L107.24,84.04 L107.80,84.48 L108.25,84.41 L108.70,84.36 L109.15,84.33 L109.60,84.33 L110.05,84.33 L110.50,84.36 L110.95,84.41 L111.40,84.48 L111.96,84.04 L112.64,83.37 L113.36,82.78 L113.88,82.95 L114.38,83.15 L114.88,83.37 L115.37,83.61 L115.85,83.87 L116.32,84.16 L116.77,84.46 L117.21,84.78 L117.63,85.12 L118.04,85.48 L117.89,86.41 L117.65,87.32 L117.55,88.03 L117.83,88.38 L118.10,88.75 L118.35,89.13 L118.59,89.51 L118.80,89.91 L119.00,90.32 L119.19,90.73 L119.35,91.15 L120.02,91.42 L120.93,91.66 L121.80,91.99 L121.91,92.53 L121.99,93.07 L122.05,93.61 L122.09,94.15 Z"/></clipPath>
<g filter="url(#gsoft)"><g clip-path="url(#g1096_947)">
<path d="M109.60,94.70 L89.60,94.70 A20.00,20.00 0 0 1 129.60,94.70 Z" fill="#e01e1e"/>
<path d="M109.60,94.70 L129.60,94.70 A20.00,20.00 0 0 1 89.60,94.70 Z" fill="#1c1ce0"/>
<line x1="109.60" y1="94.70" x2="125.85" y2="94.70" stroke="#f4eef4" stroke-width="2.8" stroke-opacity="0.5"/>
<line x1="109.60" y1="94.70" x2="93.35" y2="94.70" stroke="#f4eef4" stroke-width="2.8" stroke-opacity="0.5"/>
</g></g>
<circle cx="109.60" cy="94.70" r="3.25" fill="#fff" stroke="#444" stroke-width="0.5"/>
<clipPath id="g3008_508"><path d="M313.30,50.80 L313.29,51.35 L313.25,51.89 L313.19,52.43 L313.11,52.97 L313.00,53.51 L312.13,53.84 L311.22,54.08 L310.55,54.35 L310.39,54.77 L310.20,55.18 L310.00,55.59 L309.79,55.99 L309.55,56.37 L309.30,56.75 L309.03,57.12 L308.75,57.47 L308.85,58.18 L309.09,59.09 L309.24,60.02 L308.83,60.38 L308.41,60.72 L307.97,61.04 L307.52,61.34 L307.05,61.63 L306.57,61.89 L306.08,62.13 L305.58,62.35 L305.08,62.55 L304.56,62.72 L303.84,62.13 L303.16,61.46 L302.60,61.02 L302.15,61.09 L301.70,61.14 L301.25,61.17 L300.80,61.17 L300.35,61.17 L299.90,61.14 L299.45,61.09 L299.00,61.02 L298.44,61.46 L297.76,62.13 L297.04,62.72 L296.52,62.55 L296.02,62.35 L295.52,62.13 L295.03,61.89 L294.55,61.63 L294.08,61.34 L293.63,61.04 L293.19,60.72 L292.77,60.38 L292.36,60.02 L292.51,59.09 L292.75,58.18 L292.85,57.47 L292.57,57.12 L292.30,56.75 L292.05,56.37 L291.81,55.99 L291.60,55.59 L291.40,55.18 L291.21,54.77 L291.05,54.35 L290.38,54.08 L289.47,53.84 L288.60,53.51 L288.49,52.97 L288.41,52.43 L288.35,51.89 L288.31,51.35 L288.30,50.80 L288.31,50.25 L288.35,49.71 L288.41,49.17 L288.49,48.63 L288.60,48.09 L289.47,47.76 L290.38,47.52 L291.05,47.25 L291.21,46.83 L291.40,46.42 L291.60,46.01 L291.81,45.61 L292.05,45.23 L292.30,44.85 L292.57,44.48 L292.85,44.13 L292.75,43.42 L292.51,42.51 L292.36,41.58 L292.77,41.22 L293.19,40.88 L293.63,40.56 L294.08,40.26 L294.55,39.97 L295.03,39.71 L295.52,39.47 L296.02,39.25 L296.52,39.05 L297.04,38.88 L297.76,39.47 L298.44,40.14 L299.00,40.58 L299.45,40.51 L299.90,40.46 L300.35,40.43 L300.80,40.42 L301.25,40.43 L301.70,40.46 L302.15,40.51 L302.60,40.58 L303.16,40.14 L303.84,39.47 L304.56,38.88 L305.08,39.05 L305.58,39.25 L306.08,39.47 L306.57,39.71 L307.05,39.97 L307.52,40.26 L307.97,40.56 L308.41,40.88 L308.83,41.22 L309.24,41.58 L309.09,42.51 L308.85,43.42 L308.75,44.13 L309.03,44.48 L309.30,44.85 L309.55,45.23 L309.79,45.61 L310.00,46.01 L310.20,46.42 L310.39,46.83 L310.55,47.25 L311.22,47.52 L312.13,47.76 L313.00,48.09 L313.11,48.63 L313.19,49.17 L313.25,49.71 L313.29,50.25 Z"/></clipPath>
<g filter="url(#gsoft)"><g clip-path="url(#g3008_508)">
<path d="M300.80,50.80 L280.80,50.80 A20.00,20.00 0 0 1 320.80,50.80 Z" fill="#1c1ce0"/>
<path d="M300.80,50.80 L320.80,50.80 A20.00,20.00 0 0 1 280.80,50.80 Z" fill="#e01e1e"/>
<line x1="300.80" y1="50.80" x2="317.05" y2="50.80" stroke="#f4eef4" stroke-width="2.8" stroke-opacity="0.5"/>
<line x1="300.80" y1="50.80" x2="284.55" y2="50.80" stroke="#f4eef4" stroke-width="2.8" stroke-opacity="0.5"/>
</g></g>
<circle cx="300.80" cy="50.80" r="3.25" fill="#fff" stroke="#444" stroke-width="0.5"/>
<clipPath id="g3520_510"><path d="M364.50,51.00 L364.49,51.55 L364.45,52.09 L364.39,52.63 L364.31,53.17 L364.20,53.71 L363.33,54.04 L362.42,54.28 L361.75,54.55 L361.59,54.97 L361.40,55.38 L361.20,55.79 L360.99,56.19 L360.75,56.57 L360.50,56.95 L360.23,57.32 L359.95,57.67 L360.05,58.38 L360.29,59.29 L360.44,60.22 L360.03,60.58 L359.61,60.92 L359.17,61.24 L358.72,61.54 L358.25,61.83 L357.77,62.09 L357.28,62.33 L356.78,62.55 L356.28,62.75 L355.76,62.92 L355.04,62.33 L354.36,61.66 L353.80,61.22 L353.35,61.29 L352.90,61.34 L352.45,61.37 L352.00,61.38 L351.55,61.37 L351.10,61.34 L350.65,61.29 L350.20,61.22 L349.64,61.66 L348.96,62.33 L348.24,62.92 L347.72,62.75 L347.22,62.55 L346.72,62.33 L346.23,62.09 L345.75,61.83 L345.28,61.54 L344.83,61.24 L344.39,60.92 L343.97,60.58 L343.56,60.22 L343.71,59.29 L343.95,58.38 L344.05,57.67 L343.77,57.32 L343.50,56.95 L343.25,56.57 L343.01,56.19 L342.80,55.79 L342.60,55.38 L342.41,54.97 L342.25,54.55 L341.58,54.28 L340.67,54.04 L339.80,53.71 L339.69,53.17 L339.61,52.63 L339.55,52.09 L339.51,51.55 L339.50,51.00 L339.51,50.45 L339.55,49.91 L339.61,49.37 L339.69,48.83 L339.80,48.29 L340.67,47.96 L341.58,47.72 L342.25,47.45 L342.41,47.03 L342.60,46.62 L342.80,46.21 L343.01,45.81 L343.25,45.43 L343.50,45.05 L343.77,44.68 L344.05,44.33 L343.95,43.62 L343.71,42.71 L343.56,41.78 L343.97,41.42 L344.39,41.08 L344.83,40.76 L345.28,40.46 L345.75,40.17 L346.23,39.91 L346.72,39.67 L347.22,39.45 L347.72,39.25 L348.24,39.08 L348.96,39.67 L349.64,40.34 L350.20,40.78 L350.65,40.71 L351.10,40.66 L351.55,40.63 L352.00,40.62 L352.45,40.63 L352.90,40.66 L353.35,40.71 L353.80,40.78 L354.36,40.34 L355.04,39.67 L355.76,39.08 L356.28,39.25 L356.78,39.45 L357.28,39.67 L357.77,39.91 L358.25,40.17 L358.72,40.46 L359.17,40.76 L359.61,41.08 L360.03,41.42 L360.44,41.78 L360.29,42.71 L360.05,43.62 L359.95,44.33 L360.23,44.68 L360.50,45.05 L360.75,45.43 L360.99,45.81 L361.20,46.21 L361.40,46.62 L361.59,47.03 L361.75,47.45 L362.42,47.72 L363.33,47.96 L364.20,48.29 L364.31,48.83 L364.39,49.37 L364.45,49.91 L364.49,50.45 Z"/></clipPath>
<g filter="url(#gsoft)"><g clip-path="url(#g3520_510)">
<path d="M352.00,51.00 L352.00,71.00 A20.00,20.00 0 0 1 352.00,31.00 Z" fill="#e01e1e"/>
<path d="M352.00,51.00 L352.00,31.00 A20.00,20.00 0 0 1 352.00,71.00 Z" fill="#1c1ce0"/>
<line x1="352.00" y1="51.00" x2="352.00" y2="67.25" stroke="#f4eef4" stroke-width="2.8" stroke-opacity="0.5"/>
<line x1="352.00" y1="51.00" x2="352.00" y2="34.75" stroke="#f4eef4" stroke-width="2.8" stroke-opacity="0.5"/>
</g></g>
<circle cx="352.00" cy="51.00" r="3.25" fill="#fff" stroke="#444" stroke-width="0.5"/>
<line x1="349.00" y1="51.00" x2="355.00" y2="51.00" stroke="#e02020" stroke-width="0.8"/>
<clipPath id="g3012_954"><path d="M313.70,95.40 L313.69,95.95 L313.65,96.49 L313.59,97.03 L313.51,97.57 L313.40,98.11 L312.53,98.44 L311.62,98.68 L310.95,98.95 L310.79,99.37 L310.60,99.78 L310.40,100.19 L310.19,100.59 L309.95,100.97 L309.70,101.35 L309.43,101.72 L309.15,102.07 L309.25,102.78 L309.49,103.69 L309.64,104.62 L309.23,104.98 L308.81,105.32 L308.37,105.64 L307.92,105.94 L307.45,106.23 L306.97,106.49 L306.48,106.73 L305.98,106.95 L305.48,107.15 L304.96,107.32 L304.24,106.73 L303.56,106.06 L303.00,105.62 L302.55,105.69 L302.10,105.74 L301.65,105.77 L301.20,105.78 L300.75,105.77 L300.30,105.74 L299.85,105.69 L299.40,105.62 L298.84,106.06 L298.16,106.73 L297.44,107.32 L296.92,107.15 L296.42,106.95 L295.92,106.73 L295.43,106.49 L294.95,106.23 L294.48,105.94 L294.03,105.64 L293.59,105.32 L293.17,104.98 L292.76,104.62 L292.91,103.69 L293.15,102.78 L293.25,102.07 L292.97,101.72 L292.70,101.35 L292.45,100.97 L292.21,100.59 L292.00,100.19 L291.80,99.78 L291.61,99.37 L291.45,98.95 L290.78,98.68 L289.87,98.44 L289.00,98.11 L288.89,97.57 L288.81,97.03 L288.75,96.49 L288.71,95.95 L288.70,95.40 L288.71,94.85 L288.75,94.31 L288.81,93.77 L288.89,93.23 L289.00,92.69 L289.87,92.36 L290.78,92.12 L291.45,91.85 L291.61,91.43 L291.80,91.02 L292.00,90.61 L292.21,90.21 L292.45,89.83 L292.70,89.45 L292.97,89.08 L293.25,88.73 L293.15,88.02 L292.91,87.11 L292.76,86.18 L293.17,85.82 L293.59,85.48 L294.03,85.16 L294.48,84.86 L294.95,84.57 L295.43,84.31 L295.92,84.07 L296.42,83.85 L296.92,83.65 L297.44,83.48 L298.16,84.07 L298.84,84.74 L299.40,85.18 L299.85,85.11 L300.30,85.06 L300.75,85.03 L301.20,85.03 L301.65,85.03 L302.10,85.06 L302.55,85.11 L303.00,85.18 L303.56,84.74 L304.24,84.07 L304.96,83.48 L305.48,83.65 L305.98,83.85 L306.48,84.07 L306.97,84.31 L307.45,84.57 L307.92,84.86 L308.37,85.16 L308.81,85.48 L309.23,85.82 L309.64,86.18 L309.49,87.11 L309.25,88.02 L309.15,88.73 L309.43,89.08 L309.70,89.45 L309.95,89.83 L310.19,90.21 L310.40,90.61 L310.60,91.02 L310.79,91.43 L310.95,91.85 L311.62,92.12 L312.53,92.36 L313.40,92.69 L313.51,93.23 L313.59,93.77 L313.65,94.31 L313.69,94.85 Z"/></clipPath>
<g filter="url(#gsoft)"><g clip-path="url(#g3012_954)">
<path d="M301.20,95.40 L283.88,105.40 A20.00,20.00 0 0 1 294.36,76.61 Z" fill="#e01e1e"/>
<path d="M301.20,95.40 L294.36,76.61 A20.00,20.00 0 0 1 318.52,85.40 Z" fill="#1c1ce0"/>
<path d="M301.20,95.40 L318.52,85.40 A20.00,20.00 0 0 1 311.20,112.72 Z" fill="#e01e1e"/>
<path d="M301.20,95.40 L311.20,112.72 A20.00,20.00 0 0 1 283.88,105.40 Z" fill="#1c1ce0"/>
<line x1="301.20" y1="95.40" x2="309.32" y2="109.47" stroke="#f4eef4" stroke-width="2.8" stroke-opacity="0.5"/>
<line x1="301.20" y1="95.40" x2="287.13" y2="103.53" stroke="#f4eef4" stroke-width="2.8" stroke-opacity="0.5"/>
<line x1="301.20" y1="95.40" x2="295.64" y2="80.13" stroke="#f4eef4" stroke-width="2.8" stroke-opacity="0.5"/>
<line x1="301.20" y1="95.40" x2="315.27" y2="87.28" stroke="#f4eef4" stroke-width="2.8" stroke-opacity="0.5"/>
</g></g>
<circle cx="301.20" cy="95.40" r="3.25" fill="#fff" stroke="#444" stroke-width="0.5"/>
<clipPath id="g3527_954"><path d="M365.20,95.40 L365.19,95.95 L365.15,96.49 L365.09,97.03 L365.01,97.57 L364.90,98.11 L364.03,98.44 L363.12,98.68 L362.45,98.95 L362.29,99.37 L362.10,99.78 L361.90,100.19 L361.69,100.59 L361.45,100.97 L361.20,101.35 L360.93,101.72 L360.65,102.07 L360.75,102.78 L360.99,103.69 L361.14,104.62 L360.73,104.98 L360.31,105.32 L359.87,105.64 L359.42,105.94 L358.95,106.23 L358.47,106.49 L357.98,106.73 L357.48,106.95 L356.98,107.15 L356.46,107.32 L355.74,106.73 L355.06,106.06 L354.50,105.62 L354.05,105.69 L353.60,105.74 L353.15,105.77 L352.70,105.78 L352.25,105.77 L351.80,105.74 L351.35,105.69 L350.90,105.62 L350.34,106.06 L349.66,106.73 L348.94,107.32 L348.42,107.15 L347.92,106.95 L347.42,106.73 L346.93,106.49 L346.45,106.23 L345.98,105.94 L345.53,105.64 L345.09,105.32 L344.67,104.98 L344.26,104.62 L344.41,103.69 L344.65,102.78 L344.75,102.07 L344.47,101.72 L344.20,101.35 L343.95,100.97 L343.71,100.59 L343.50,100.19 L343.30,99.78 L343.11,99.37 L342.95,98.95 L342.28,98.68 L341.37,98.44 L340.50,98.11 L340.39,97.57 L340.31,97.03 L340.25,96.49 L340.21,95.95 L340.20,95.40 L340.21,94.85 L340.25,94.31 L340.31,93.77 L340.39,93.23 L340.50,92.69 L341.37,92.36 L342.28,92.12 L342.95,91.85 L343.11,91.43 L343.30,91.02 L343.50,90.61 L343.71,90.21 L343.95,89.83 L344.20,89.45 L344.47,89.08 L344.75,88.73 L344.65,88.02 L344.41,87.11 L344.26,86.18 L344.67,85.82 L345.09,85.48 L345.53,85.16 L345.98,84.86 L346.45,84.57 L346.93,84.31 L347.42,84.07 L347.92,83.85 L348.42,83.65 L348.94,83.48 L349.66,84.07 L350.34,84.74 L350.90,85.18 L351.35,85.11 L351.80,85.06 L352.25,85.03 L352.70,85.03 L353.15,85.03 L353.60,85.06 L354.05,85.11 L354.50,85.18 L355.06,84.74 L355.74,84.07 L356.46,83.48 L356.98,83.65 L357.48,83.85 L357.98,84.07 L358.47,84.31 L358.95,84.57 L359.42,84.86 L359.87,85.16 L360.31,85.48 L360.73,85.82 L361.14,86.18 L360.99,87.11 L360.75,88.02 L360.65,88.73 L360.93,89.08 L361.20,89.45 L361.45,89.83 L361.69,90.21 L361.90,90.61 L362.10,91.02 L362.29,91.43 L362.45,91.85 L363.12,92.12 L364.03,92.36 L364.90,92.69 L365.01,93.23 L365.09,93.77 L365.15,94.31 L365.19,94.85 Z"/></clipPath>
<g filter="url(#gsoft)"><g clip-path="url(#g3527_954)">
<path d="M352.70,95.40 L333.91,88.56 A20.00,20.00 0 0 1 359.54,76.61 Z" fill="#e01e1e"/>
<path d="M352.70,95.40 L359.54,76.61 A20.00,20.00 0 0 1 371.49,102.24 Z" fill="#1c1ce0"/>
<path d="M352.70,95.40 L371.49,102.24 A20.00,20.00 0 0 1 345.86,114.19 Z" fill="#e01e1e"/>
<path d="M352.70,95.40 L345.86,114.19 A20.00,20.00 0 0 1 333.91,88.56 Z" fill="#1c1ce0"/>
<line x1="352.70" y1="95.40" x2="367.97" y2="100.96" stroke="#f4eef4" stroke-width="2.8" stroke-opacity="0.5"/>
<line x1="352.70" y1="95.40" x2="347.14" y2="110.67" stroke="#f4eef4" stroke-width="2.8" stroke-opacity="0.5"/>
<line x1="352.70" y1="95.40" x2="337.43" y2="89.84" stroke="#f4eef4" stroke-width="2.8" stroke-opacity="0.5"/>
<line x1="352.70" y1="95.40" x2="358.26" y2="80.13" stroke="#f4eef4" stroke-width="2.8" stroke-opacity="0.5"/>
</g></g>
<circle cx="352.70" cy="95.40" r="3.25" fill="#fff" stroke="#444" stroke-width="0.5"/>
<text x="125.70" y="57.60" font-family="Liberation Sans, sans-serif" font-size="8.20" fill="#d3202a" text-anchor="start" >Even</text>
<text x="127.80" y="98.00" font-family="Liberation Sans, sans-serif" font-size="8.20" fill="#d3202a" text-anchor="start" >Odd</text>
<text x="372.00" y="57.60" font-family="Liberation Sans, sans-serif" font-size="8.20" fill="#d3202a" text-anchor="start" >Odd</text>
<text x="368.60" y="99.10" font-family="Liberation Sans, sans-serif" font-size="8.20" fill="#d3202a" text-anchor="start" >Even</text>
<text x="237.20" y="66.80" font-family="Liberation Sans, sans-serif" font-size="8.60" fill="#d3202a" text-anchor="middle" letter-spacing="-0.12">Double surface</text>
<text x="238.30" y="74.60" font-family="Liberation Sans, sans-serif" font-size="8.60" fill="#d3202a" text-anchor="middle" letter-spacing="-0.12">Dirac cone</text>
<text x="35.60" y="21.60" font-family="Liberation Sans, sans-serif" font-size="9.80" fill="#111" text-anchor="end" letter-spacing="-0.35">0.34</text>
<text x="35.60" y="44.80" font-family="Liberation Sans, sans-serif" font-size="9.80" fill="#111" text-anchor="end" letter-spacing="-0.35">0.32</text>
<text x="35.60" y="68.00" font-family="Liberation Sans, sans-serif" font-size="9.80" fill="#111" text-anchor="end" letter-spacing="-0.35">0.3</text>
<text x="35.60" y="91.20" font-family="Liberation Sans, sans-serif" font-size="9.80" fill="#111" text-anchor="end" letter-spacing="-0.35">0.28</text>
<text x="35.60" y="114.40" font-family="Liberation Sans, sans-serif" font-size="9.80" fill="#111" text-anchor="end" letter-spacing="-0.35">0.26</text>
<text x="35.60" y="137.60" font-family="Liberation Sans, sans-serif" font-size="9.80" fill="#111" text-anchor="end" letter-spacing="-0.35">0.24</text>
<text transform="translate(7.3,78.1) rotate(-90)" font-family="Liberation Sans, sans-serif" font-size="10" fill="#222" text-anchor="middle">Frequency (<tspan font-style="italic">c</tspan>/<tspan font-style="italic">a</tspan>)</text>
<text x="40.50" y="165.60" font-family="Liberation Sans, sans-serif" font-size="10.3" font-style="italic" fill="#333" text-anchor="middle">K</text>
<path d="M39.30,157.20 c0.8,-1.4 1.7,-1.4 2.5,-0.4 s1.7,1.0 2.5,-0.4" fill="none" stroke="#333" stroke-width="0.8"/>
<text x="44.10" y="168.80" font-family="Liberation Sans, sans-serif" font-size="6" fill="#333">1</text>
<text x="84.10" y="165.60" font-family="Liberation Sans, sans-serif" font-size="10.3" font-style="italic" fill="#333" text-anchor="middle">Γ</text>
<path d="M82.90,157.20 c0.8,-1.4 1.7,-1.4 2.5,-0.4 s1.7,1.0 2.5,-0.4" fill="none" stroke="#333" stroke-width="0.8"/>
<text x="121.60" y="165.60" font-family="Liberation Sans, sans-serif" font-size="10.3" font-style="italic" fill="#333" text-anchor="middle">M</text>
<path d="M120.40,157.20 c0.8,-1.4 1.7,-1.4 2.5,-0.4 s1.7,1.0 2.5,-0.4" fill="none" stroke="#333" stroke-width="0.8"/>
<text x="125.20" y="168.80" font-family="Liberation Sans, sans-serif" font-size="6" fill="#333">1</text>
<text x="142.80" y="165.60" font-family="Liberation Sans, sans-serif" font-size="10.3" font-style="italic" fill="#333" text-anchor="middle">K</text>
<path d="M141.60,157.20 c0.8,-1.4 1.7,-1.4 2.5,-0.4 s1.7,1.0 2.5,-0.4" fill="none" stroke="#333" stroke-width="0.8"/>
<text x="146.40" y="168.80" font-family="Liberation Sans, sans-serif" font-size="6" fill="#333">1</text>
<text x="161.70" y="165.60" font-family="Liberation Sans, sans-serif" font-size="10.3" font-style="italic" fill="#333" text-anchor="middle">K</text>
<path d="M160.50,157.20 c0.8,-1.4 1.7,-1.4 2.5,-0.4 s1.7,1.0 2.5,-0.4" fill="none" stroke="#333" stroke-width="0.8"/>
<text x="165.30" y="168.80" font-family="Liberation Sans, sans-serif" font-size="6" fill="#333">1</text>
<text x="205.80" y="165.60" font-family="Liberation Sans, sans-serif" font-size="10.3" font-style="italic" fill="#333" text-anchor="middle">Γ</text>
<path d="M204.60,157.20 c0.8,-1.4 1.7,-1.4 2.5,-0.4 s1.7,1.0 2.5,-0.4" fill="none" stroke="#333" stroke-width="0.8"/>
<text x="243.90" y="165.60" font-family="Liberation Sans, sans-serif" font-size="10.3" font-style="italic" fill="#333" text-anchor="middle">M</text>
<path d="M242.70,157.20 c0.8,-1.4 1.7,-1.4 2.5,-0.4 s1.7,1.0 2.5,-0.4" fill="none" stroke="#333" stroke-width="0.8"/>
<text x="247.50" y="168.80" font-family="Liberation Sans, sans-serif" font-size="6" fill="#333">1</text>
<text x="264.40" y="165.60" font-family="Liberation Sans, sans-serif" font-size="10.3" font-style="italic" fill="#333" text-anchor="middle">K</text>
<path d="M263.20,157.20 c0.8,-1.4 1.7,-1.4 2.5,-0.4 s1.7,1.0 2.5,-0.4" fill="none" stroke="#333" stroke-width="0.8"/>
<text x="268.00" y="168.80" font-family="Liberation Sans, sans-serif" font-size="6" fill="#333">1</text>
<text x="284.30" y="165.60" font-family="Liberation Sans, sans-serif" font-size="10.3" font-style="italic" fill="#333" text-anchor="middle">K</text>
<path d="M283.10,157.20 c0.8,-1.4 1.7,-1.4 2.5,-0.4 s1.7,1.0 2.5,-0.4" fill="none" stroke="#333" stroke-width="0.8"/>
<text x="287.90" y="168.80" font-family="Liberation Sans, sans-serif" font-size="6" fill="#333">1</text>
<text x="328.10" y="165.60" font-family="Liberation Sans, sans-serif" font-size="10.3" font-style="italic" fill="#333" text-anchor="middle">Γ</text>
<path d="M326.90,157.20 c0.8,-1.4 1.7,-1.4 2.5,-0.4 s1.7,1.0 2.5,-0.4" fill="none" stroke="#333" stroke-width="0.8"/>
<text x="366.20" y="165.60" font-family="Liberation Sans, sans-serif" font-size="10.3" font-style="italic" fill="#333" text-anchor="middle">M</text>
<path d="M365.00,157.20 c0.8,-1.4 1.7,-1.4 2.5,-0.4 s1.7,1.0 2.5,-0.4" fill="none" stroke="#333" stroke-width="0.8"/>
<text x="369.80" y="168.80" font-family="Liberation Sans, sans-serif" font-size="6" fill="#333">1</text>
<text x="387.10" y="165.60" font-family="Liberation Sans, sans-serif" font-size="10.3" font-style="italic" fill="#333" text-anchor="middle">K</text>
<path d="M385.90,157.20 c0.8,-1.4 1.7,-1.4 2.5,-0.4 s1.7,1.0 2.5,-0.4" fill="none" stroke="#333" stroke-width="0.8"/>
<text x="390.70" y="168.80" font-family="Liberation Sans, sans-serif" font-size="6" fill="#333">1</text>
<text x="-0.20" y="9.70" font-family="Liberation Sans, sans-serif" font-size="13.5" font-weight="bold" fill="#000">a</text>
<text x="159.60" y="9.70" font-family="Liberation Sans, sans-serif" font-size="13.5" font-weight="bold" fill="#000">b</text>
<text x="281.00" y="9.70" font-family="Liberation Sans, sans-serif" font-size="13.5" font-weight="bold" fill="#000">c</text>
<text x="414.20" y="9.70" font-family="Liberation Sans, sans-serif" font-size="13.5" font-weight="bold" fill="#000">f</text>
<text x="-1.20" y="206.40" font-family="Liberation Sans, sans-serif" font-size="13.5" font-weight="bold" fill="#000">d</text>
<text x="172.00" y="206.20" font-family="Liberation Sans, sans-serif" font-size="13.5" font-weight="bold" fill="#000">e</text>
<text x="378.20" y="206.40" font-family="Liberation Sans, sans-serif" font-size="13.5" font-weight="bold" fill="#000">g</text>
<text x="529.40" y="206.20" font-family="Liberation Sans, sans-serif" font-size="13.5" font-weight="bold" fill="#000">h</text>
<path d="M38.60,206.80 L38.60,221.20 C40.20,221.25 44.90,221.40 48.20,221.50 C51.50,221.60 55.43,221.57 58.40,221.80 C61.37,222.03 63.57,222.43 66.00,222.90 C68.43,223.37 70.67,223.92 73.00,224.60 C75.33,225.28 77.32,225.78 80.00,227.00 C82.68,228.22 86.23,230.32 89.10,231.90 C91.97,233.48 95.25,235.58 97.20,236.50 C99.15,237.42 99.77,237.22 100.80,237.40 C101.83,237.58 102.53,237.60 103.40,237.60 C104.27,237.60 104.97,237.58 106.00,237.40 C107.03,237.22 107.65,237.42 109.60,236.50 C111.55,235.58 114.83,233.48 117.70,231.90 C120.57,230.32 124.12,228.22 126.80,227.00 C129.48,225.78 131.47,225.28 133.80,224.60 C136.13,223.92 138.37,223.37 140.80,222.90 C143.23,222.43 145.43,222.03 148.40,221.80 C151.37,221.57 155.30,221.60 158.60,221.50 C161.90,221.40 166.60,221.25 168.20,221.20 L168.20,206.80 Z" fill="#0261c2"/>
<path d="M38.60,221.20 C40.20,221.25 44.90,221.40 48.20,221.50 C51.50,221.60 55.43,221.57 58.40,221.80 C61.37,222.03 63.57,222.43 66.00,222.90 C68.43,223.37 70.67,223.92 73.00,224.60 C75.33,225.28 77.32,225.78 80.00,227.00 C82.68,228.22 86.23,230.32 89.10,231.90 C91.97,233.48 95.25,235.58 97.20,236.50 C99.15,237.42 99.77,237.22 100.80,237.40 C101.83,237.58 102.53,237.60 103.40,237.60 C104.27,237.60 104.97,237.58 106.00,237.40 C107.03,237.22 107.65,237.42 109.60,236.50 C111.55,235.58 114.83,233.48 117.70,231.90 C120.57,230.32 124.12,228.22 126.80,227.00 C129.48,225.78 131.47,225.28 133.80,224.60 C136.13,223.92 138.37,223.37 140.80,222.90 C143.23,222.43 145.43,222.03 148.40,221.80 C151.37,221.57 155.30,221.60 158.60,221.50 C161.90,221.40 166.60,221.25 168.20,221.20 L168.20,224.10 C166.60,224.00 161.90,223.65 158.60,223.50 C155.30,223.35 151.37,223.12 148.40,223.20 C145.43,223.28 143.23,223.58 140.80,224.00 C138.37,224.42 136.13,225.00 133.80,225.70 C131.47,226.40 129.48,226.88 126.80,228.20 C124.12,229.52 120.57,231.78 117.70,233.60 C114.83,235.42 111.50,237.88 109.60,239.10 C107.70,240.32 107.33,240.48 106.30,240.90 C105.27,241.32 104.37,241.60 103.40,241.60 C102.43,241.60 101.53,241.32 100.50,240.90 C99.47,240.48 99.10,240.32 97.20,239.10 C95.30,237.88 91.97,235.42 89.10,233.60 C86.23,231.78 82.68,229.52 80.00,228.20 C77.32,226.88 75.33,226.40 73.00,225.70 C70.67,225.00 68.43,224.42 66.00,224.00 C63.57,223.58 61.37,223.28 58.40,223.20 C55.43,223.12 51.50,223.35 48.20,223.50 C44.90,223.65 40.20,224.00 38.60,224.10 Z" fill="#ff0a0a"/>
<path d="M38.60,347.50 L38.60,335.60 C39.67,335.43 42.80,335.10 45.00,334.60 C47.20,334.10 49.62,333.43 51.80,332.60 C53.98,331.77 55.82,331.07 58.10,329.60 C60.38,328.13 63.52,325.68 65.50,323.80 C67.48,321.92 68.42,320.38 70.00,318.30 C71.58,316.22 73.33,313.80 75.00,311.30 C76.67,308.80 78.20,306.47 80.00,303.30 C81.80,300.13 84.13,295.48 85.80,292.30 C87.47,289.12 88.47,287.42 90.00,284.20 C91.53,280.98 93.42,275.98 95.00,273.00 C96.58,270.02 98.10,267.83 99.50,266.30 C100.90,264.77 102.10,263.80 103.40,263.80 C104.70,263.80 105.90,264.77 107.30,266.30 C108.70,267.83 110.22,270.02 111.80,273.00 C113.38,275.98 115.27,280.98 116.80,284.20 C118.33,287.42 119.33,289.12 121.00,292.30 C122.67,295.48 125.00,300.13 126.80,303.30 C128.60,306.47 130.13,308.80 131.80,311.30 C133.47,313.80 135.22,316.22 136.80,318.30 C138.38,320.38 139.32,321.92 141.30,323.80 C143.28,325.68 146.42,328.13 148.70,329.60 C150.98,331.07 152.82,331.77 155.00,332.60 C157.18,333.43 159.60,334.10 161.80,334.60 C164.00,335.10 167.13,335.43 168.20,335.60 L168.20,347.50 Z" fill="#ff0a0a"/>
<path d="M38.60,347.50 L38.60,342.60 C39.92,342.52 44.10,342.48 46.50,342.10 C48.90,341.72 51.08,341.02 53.00,340.30 C54.92,339.58 56.33,338.77 58.00,337.80 C59.67,336.83 61.40,335.67 63.00,334.50 C64.60,333.33 65.97,332.32 67.60,330.80 C69.23,329.28 71.03,327.43 72.80,325.40 C74.57,323.37 76.63,320.87 78.20,318.60 C79.77,316.33 80.90,314.03 82.20,311.80 C83.50,309.57 84.50,307.27 86.00,305.20 C87.50,303.13 89.37,301.03 91.20,299.40 C93.03,297.77 94.97,296.33 97.00,295.40 C99.03,294.47 101.27,293.80 103.40,293.80 C105.53,293.80 107.77,294.47 109.80,295.40 C111.83,296.33 113.77,297.77 115.60,299.40 C117.43,301.03 119.30,303.13 120.80,305.20 C122.30,307.27 123.30,309.57 124.60,311.80 C125.90,314.03 127.03,316.33 128.60,318.60 C130.17,320.87 132.23,323.37 134.00,325.40 C135.77,327.43 137.57,329.28 139.20,330.80 C140.83,332.32 142.20,333.33 143.80,334.50 C145.40,335.67 147.13,336.83 148.80,337.80 C150.47,338.77 151.88,339.58 153.80,340.30 C155.72,341.02 157.90,341.72 160.30,342.10 C162.70,342.48 166.88,342.52 168.20,342.60 L168.20,347.50 Z" fill="#0261c2"/>
<path d="M38.60,224.30 C40.20,224.33 44.90,224.40 48.20,224.50 C51.50,224.60 55.43,224.67 58.40,224.90 C61.37,225.13 63.57,225.45 66.00,225.90 C68.43,226.35 70.67,226.93 73.00,227.60 C75.33,228.27 77.32,228.67 80.00,229.90 C82.68,231.13 86.68,233.50 89.10,235.00 C91.52,236.50 93.15,237.80 94.50,238.90 C95.85,240.00 96.20,240.20 97.20,241.60 C98.20,243.00 99.47,245.30 100.50,247.30 C101.53,249.30 102.18,250.98 103.40,253.60 C104.62,256.22 106.40,259.80 107.80,263.00 C109.20,266.20 110.30,269.27 111.80,272.80 C113.30,276.33 115.27,280.95 116.80,284.20 C118.33,287.45 119.33,289.12 121.00,292.30 C122.67,295.48 125.00,300.13 126.80,303.30 C128.60,306.47 130.13,308.80 131.80,311.30 C133.47,313.80 135.22,316.22 136.80,318.30 C138.38,320.38 139.32,321.92 141.30,323.80 C143.28,325.68 146.42,328.13 148.70,329.60 C150.98,331.07 152.82,331.77 155.00,332.60 C157.18,333.43 159.60,334.10 161.80,334.60 C164.00,335.10 167.13,335.43 168.20,335.60" fill="none" stroke="#3ce03c" stroke-width="0.9"/>
<path d="M168.20,224.30 C166.60,224.33 161.90,224.40 158.60,224.50 C155.30,224.60 151.37,224.67 148.40,224.90 C145.43,225.13 143.23,225.45 140.80,225.90 C138.37,226.35 136.13,226.93 133.80,227.60 C131.47,228.27 129.48,228.67 126.80,229.90 C124.12,231.13 120.12,233.50 117.70,235.00 C115.28,236.50 113.65,237.80 112.30,238.90 C110.95,240.00 110.60,240.20 109.60,241.60 C108.60,243.00 107.33,245.30 106.30,247.30 C105.27,249.30 104.62,250.98 103.40,253.60 C102.18,256.22 100.40,259.80 99.00,263.00 C97.60,266.20 96.50,269.27 95.00,272.80 C93.50,276.33 91.53,280.95 90.00,284.20 C88.47,287.45 87.47,289.12 85.80,292.30 C84.13,295.48 81.80,300.13 80.00,303.30 C78.20,306.47 76.67,308.80 75.00,311.30 C73.33,313.80 71.58,316.22 70.00,318.30 C68.42,320.38 67.48,321.92 65.50,323.80 C63.52,325.68 60.38,328.13 58.10,329.60 C55.82,331.07 53.98,331.77 51.80,332.60 C49.62,333.43 47.20,334.10 45.00,334.60 C42.80,335.10 39.67,335.43 38.60,335.60" fill="none" stroke="#3ce03c" stroke-width="0.9"/>
<line x1="103.40" y1="206.80" x2="103.40" y2="347.50" stroke="#d8d8d8" stroke-width="0.8"/>
<line x1="38.60" y1="206.80" x2="38.60" y2="347.50" stroke="#c8c8c8" stroke-width="0.8"/>
<line x1="168.20" y1="206.80" x2="168.20" y2="347.50" stroke="#c8c8c8" stroke-width="0.8"/>
<line x1="38.60" y1="207.25" x2="39.80" y2="207.25" stroke="#999" stroke-width="0.6"/>
<line x1="167.00" y1="207.25" x2="168.20" y2="207.25" stroke="#999" stroke-width="0.6"/>
<text x="34.80" y="210.75" font-family="Liberation Sans, sans-serif" font-size="9.80" fill="#111" text-anchor="end" letter-spacing="-0.35">0.32</text>
<line x1="38.60" y1="246.25" x2="39.80" y2="246.25" stroke="#999" stroke-width="0.6"/>
<line x1="167.00" y1="246.25" x2="168.20" y2="246.25" stroke="#999" stroke-width="0.6"/>
<text x="34.80" y="249.75" font-family="Liberation Sans, sans-serif" font-size="9.80" fill="#111" text-anchor="end" letter-spacing="-0.35">0.3</text>
<line x1="38.60" y1="285.25" x2="39.80" y2="285.25" stroke="#999" stroke-width="0.6"/>
<line x1="167.00" y1="285.25" x2="168.20" y2="285.25" stroke="#999" stroke-width="0.6"/>
<text x="34.80" y="288.75" font-family="Liberation Sans, sans-serif" font-size="9.80" fill="#111" text-anchor="end" letter-spacing="-0.35">0.28</text>
<line x1="38.60" y1="324.25" x2="39.80" y2="324.25" stroke="#999" stroke-width="0.6"/>
<line x1="167.00" y1="324.25" x2="168.20" y2="324.25" stroke="#999" stroke-width="0.6"/>
<text x="34.80" y="327.75" font-family="Liberation Sans, sans-serif" font-size="9.80" fill="#111" text-anchor="end" letter-spacing="-0.35">0.26</text>
<line x1="38.60" y1="347.50" x2="38.60" y2="346.30" stroke="#999" stroke-width="0.6"/>
<text x="38.60" y="359.50" font-family="Liberation Sans, sans-serif" font-size="9.30" fill="#222" text-anchor="middle" >–1</text>
<line x1="103.40" y1="347.50" x2="103.40" y2="346.30" stroke="#999" stroke-width="0.6"/>
<text x="103.40" y="359.50" font-family="Liberation Sans, sans-serif" font-size="9.30" fill="#222" text-anchor="middle" >0</text>
<line x1="168.20" y1="347.50" x2="168.20" y2="346.30" stroke="#999" stroke-width="0.6"/>
<text x="168.20" y="359.50" font-family="Liberation Sans, sans-serif" font-size="9.30" fill="#222" text-anchor="middle" >1</text>
<text x="103.4" y="374.5" font-family="Liberation Sans, sans-serif" font-size="9.3" fill="#222" text-anchor="middle"><tspan font-style="italic">k</tspan><tspan font-style="italic" font-size="6" dy="1.8">x</tspan><tspan dy="-1.8"> (π/3</tspan><tspan font-style="italic">a</tspan>)</text>
<text transform="translate(7.3,277) rotate(-90)" font-family="Liberation Sans, sans-serif" font-size="10" fill="#222" text-anchor="middle">Frequency (<tspan font-style="italic">c</tspan>/<tspan font-style="italic">a</tspan>)</text>
<rect x="69.2" y="237.5" width="68.8" height="35.8" fill="none" stroke="#222" stroke-width="0.9" stroke-dasharray="3,2"/>
<line x1="138" y1="237.5" x2="182.1" y2="208.7" stroke="#222" stroke-width="0.9" stroke-dasharray="3,2"/>
<line x1="138" y1="273.3" x2="181.6" y2="347.7" stroke="#222" stroke-width="0.9" stroke-dasharray="3,2"/>
<text x="111.30" y="250.50" font-family="Liberation Sans, sans-serif" font-size="10.00" fill="#2db04a" text-anchor="start" >Hinge</text>
<line x1="107.50" y1="260.50" x2="115.65" y2="255.19" stroke="#2db04a" stroke-width="0.80"/>
<path d="M119.00,253.00 L116.63,256.69 L114.67,253.68 Z" fill="#2db04a"/>
<text x="41.90" y="285.80" font-family="Liberation Sans, sans-serif" font-size="10.00" fill="#d8202a" text-anchor="start" >Surface</text>
<line x1="95.90" y1="288.40" x2="81.23" y2="284.04" stroke="#c81e28" stroke-width="0.80"/>
<path d="M77.40,282.90 L81.75,282.31 L80.72,285.77 Z" fill="#c81e28"/>
<text x="43.40" y="313.70" font-family="Liberation Sans, sans-serif" font-size="10.00" fill="#2a7cc8" text-anchor="start" >Bulk</text>
<line x1="85.70" y1="313.30" x2="70.37" y2="311.39" stroke="#2a6cc0" stroke-width="0.80"/>
<path d="M66.40,310.90 L70.59,309.61 L70.15,313.18 Z" fill="#2a6cc0"/>
<defs><linearGradient id="h0" gradientUnits="objectBoundingBox" x1="0" y1="0" x2="1" y2="0"><stop offset="0.0000" stop-color="#0d18a7"/><stop offset="0.2616" stop-color="#0910b7"/><stop offset="0.3537" stop-color="#0408d7"/><stop offset="0.3648" stop-color="#0204ec"/><stop offset="0.3685" stop-color="#0103fc"/><stop offset="0.3795" stop-color="#0041ff"/><stop offset="0.3832" stop-color="#004aff"/><stop offset="0.3869" stop-color="#0061ff"/><stop offset="0.4016" stop-color="#00feff"/><stop offset="0.4090" stop-color="#2effd1"/><stop offset="0.4164" stop-color="#37ffc8"/><stop offset="0.4237" stop-color="#15ffea"/><stop offset="0.4274" stop-color="#00f7ff"/><stop offset="0.4385" stop-color="#0082ff"/><stop offset="0.4422" stop-color="#006aff"/><stop offset="0.5085" stop-color="#0055ff"/><stop offset="0.5601" stop-color="#006fff"/><stop offset="0.5637" stop-color="#0082ff"/><stop offset="0.5748" stop-color="#00f7ff"/><stop offset="0.5822" stop-color="#2bffd4"/><stop offset="0.5895" stop-color="#38ffc7"/><stop offset="0.5969" stop-color="#1bffe4"/><stop offset="0.6006" stop-color="#00feff"/><stop offset="0.6153" stop-color="#0062ff"/><stop offset="0.6264" stop-color="#0038ff"/><stop offset="0.6338" stop-color="#000fff"/><stop offset="0.6448" stop-color="#0103fb"/><stop offset="0.6595" stop-color="#0204ec"/><stop offset="0.8143" stop-color="#0508d6"/><stop offset="0.9985" stop-color="#0306e2"/></linearGradient><linearGradient id="h1" gradientUnits="objectBoundingBox" x1="0" y1="0" x2="1" y2="0"><stop offset="0.0000" stop-color="#0d18a7"/><stop offset="0.2616" stop-color="#0910b7"/><stop offset="0.3537" stop-color="#0509d3"/><stop offset="0.3648" stop-color="#0305e5"/><stop offset="0.3685" stop-color="#0102f5"/><stop offset="0.3758" stop-color="#0027ff"/><stop offset="0.3869" stop-color="#0051ff"/><stop offset="0.3979" stop-color="#00bcff"/><stop offset="0.4053" stop-color="#06fff9"/><stop offset="0.4127" stop-color="#32ffcd"/><stop offset="0.4200" stop-color="#36ffc9"/><stop offset="0.4274" stop-color="#10ffef"/><stop offset="0.4311" stop-color="#00f0ff"/><stop offset="0.4422" stop-color="#0078ff"/><stop offset="0.5011" stop-color="#0058ff"/><stop offset="0.5601" stop-color="#007aff"/><stop offset="0.5711" stop-color="#00f0ff"/><stop offset="0.5748" stop-color="#10ffef"/><stop offset="0.5822" stop-color="#36ffc9"/><stop offset="0.5895" stop-color="#32ffcd"/><stop offset="0.5969" stop-color="#06fff9"/><stop offset="0.6043" stop-color="#00bcff"/><stop offset="0.6153" stop-color="#0059ff"/><stop offset="0.6264" stop-color="#0032ff"/><stop offset="0.6338" stop-color="#000bff"/><stop offset="0.6595" stop-color="#0204ec"/><stop offset="0.8143" stop-color="#0508d6"/><stop offset="0.9985" stop-color="#0306e2"/></linearGradient><linearGradient id="h2" gradientUnits="objectBoundingBox" x1="0" y1="0" x2="1" y2="0"><stop offset="0.0000" stop-color="#0d18a7"/><stop offset="0.2616" stop-color="#0910b7"/><stop offset="0.3574" stop-color="#0508d5"/><stop offset="0.3648" stop-color="#0407de"/><stop offset="0.3721" stop-color="#000cff"/><stop offset="0.3795" stop-color="#0032ff"/><stop offset="0.3869" stop-color="#0048ff"/><stop offset="0.3979" stop-color="#009cff"/><stop offset="0.4053" stop-color="#00ebff"/><stop offset="0.4090" stop-color="#0dfff2"/><stop offset="0.4164" stop-color="#35ffca"/><stop offset="0.4237" stop-color="#35ffca"/><stop offset="0.4311" stop-color="#0bfff4"/><stop offset="0.4348" stop-color="#00e9ff"/><stop offset="0.4422" stop-color="#0099ff"/><stop offset="0.4458" stop-color="#0083ff"/><stop offset="0.4937" stop-color="#005cff"/><stop offset="0.5380" stop-color="#0071ff"/><stop offset="0.5564" stop-color="#0087ff"/><stop offset="0.5601" stop-color="#0099ff"/><stop offset="0.5674" stop-color="#00e9ff"/><stop offset="0.5711" stop-color="#0bfff4"/><stop offset="0.5785" stop-color="#35ffca"/><stop offset="0.5859" stop-color="#35ffca"/><stop offset="0.5932" stop-color="#0dfff2"/><stop offset="0.5969" stop-color="#00ebff"/><stop offset="0.6043" stop-color="#009cff"/><stop offset="0.6153" stop-color="#0051ff"/><stop offset="0.6264" stop-color="#002bff"/><stop offset="0.6338" stop-color="#0007ff"/><stop offset="0.6559" stop-color="#0204ed"/><stop offset="0.8106" stop-color="#0508d6"/><stop offset="0.9985" stop-color="#0306e2"/></linearGradient><linearGradient id="h3" gradientUnits="objectBoundingBox" x1="0" y1="0" x2="1" y2="0"><stop offset="0.0000" stop-color="#0d18a7"/><stop offset="0.2616" stop-color="#0910b7"/><stop offset="0.3648" stop-color="#0408d7"/><stop offset="0.3721" stop-color="#0006ff"/><stop offset="0.3795" stop-color="#002aff"/><stop offset="0.3869" stop-color="#003fff"/><stop offset="0.3943" stop-color="#0071ff"/><stop offset="0.3979" stop-color="#007fff"/><stop offset="0.4090" stop-color="#00f3ff"/><stop offset="0.4164" stop-color="#2affd5"/><stop offset="0.4237" stop-color="#3bffc4"/><stop offset="0.4311" stop-color="#20ffdf"/><stop offset="0.4348" stop-color="#05fffa"/><stop offset="0.4422" stop-color="#00b9ff"/><stop offset="0.4458" stop-color="#008fff"/><stop offset="0.4753" stop-color="#006cff"/><stop offset="0.5085" stop-color="#0061ff"/><stop offset="0.5416" stop-color="#007eff"/><stop offset="0.5564" stop-color="#0093ff"/><stop offset="0.5674" stop-color="#05fffa"/><stop offset="0.5748" stop-color="#33ffcc"/><stop offset="0.5822" stop-color="#38ffc7"/><stop offset="0.5895" stop-color="#13ffec"/><stop offset="0.5932" stop-color="#00f3ff"/><stop offset="0.6006" stop-color="#00a4ff"/><stop offset="0.6043" stop-color="#0086ff"/><stop offset="0.6116" stop-color="#0061ff"/><stop offset="0.6153" stop-color="#0048ff"/><stop offset="0.6264" stop-color="#0024ff"/><stop offset="0.6338" stop-color="#0004fd"/><stop offset="0.6411" stop-color="#0203f1"/><stop offset="0.7996" stop-color="#0408d6"/><stop offset="0.9985" stop-color="#0306e2"/></linearGradient><linearGradient id="h4" gradientUnits="objectBoundingBox" x1="0" y1="0" x2="1" y2="0"><stop offset="0.0000" stop-color="#0d18a7"/><stop offset="0.2616" stop-color="#0910b7"/><stop offset="0.3685" stop-color="#0407dd"/><stop offset="0.3721" stop-color="#0103fa"/><stop offset="0.3869" stop-color="#0036ff"/><stop offset="0.3943" stop-color="#0063ff"/><stop offset="0.4016" stop-color="#0082ff"/><stop offset="0.4127" stop-color="#00faff"/><stop offset="0.4200" stop-color="#2fffd0"/><stop offset="0.4274" stop-color="#3bffc4"/><stop offset="0.4348" stop-color="#1cffe3"/><stop offset="0.4385" stop-color="#00fdff"/><stop offset="0.4458" stop-color="#00b0ff"/><stop offset="0.4495" stop-color="#0099ff"/><stop offset="0.4716" stop-color="#0073ff"/><stop offset="0.5048" stop-color="#0063ff"/><stop offset="0.5380" stop-color="#007eff"/><stop offset="0.5527" stop-color="#009cff"/><stop offset="0.5564" stop-color="#00b0ff"/><stop offset="0.5637" stop-color="#00fdff"/><stop offset="0.5711" stop-color="#30ffcf"/><stop offset="0.5785" stop-color="#3affc5"/><stop offset="0.5859" stop-color="#19ffe6"/><stop offset="0.5895" stop-color="#00faff"/><stop offset="0.6006" stop-color="#0082ff"/><stop offset="0.6080" stop-color="#006bff"/><stop offset="0.6153" stop-color="#003fff"/><stop offset="0.6301" stop-color="#000dff"/><stop offset="0.6374" stop-color="#0203f2"/><stop offset="0.7996" stop-color="#0408d6"/><stop offset="0.9985" stop-color="#0306e2"/></linearGradient><linearGradient id="h5" gradientUnits="objectBoundingBox" x1="0" y1="0" x2="1" y2="0"><stop offset="0.0000" stop-color="#0d18a7"/><stop offset="0.2616" stop-color="#0910b7"/><stop offset="0.3685" stop-color="#0408d8"/><stop offset="0.3721" stop-color="#0203f0"/><stop offset="0.3758" stop-color="#000cff"/><stop offset="0.3869" stop-color="#002dff"/><stop offset="0.3979" stop-color="#0061ff"/><stop offset="0.4016" stop-color="#006aff"/><stop offset="0.4164" stop-color="#03fffc"/><stop offset="0.4237" stop-color="#33ffcc"/><stop offset="0.4311" stop-color="#3affc5"/><stop offset="0.4385" stop-color="#16ffe9"/><stop offset="0.4422" stop-color="#00f6ff"/><stop offset="0.4495" stop-color="#00a7ff"/><stop offset="0.4716" stop-color="#0078ff"/><stop offset="0.5048" stop-color="#0066ff"/><stop offset="0.5380" stop-color="#0085ff"/><stop offset="0.5527" stop-color="#00a8ff"/><stop offset="0.5601" stop-color="#00f6ff"/><stop offset="0.5674" stop-color="#2dffd2"/><stop offset="0.5748" stop-color="#3cffc3"/><stop offset="0.5822" stop-color="#1fffe0"/><stop offset="0.5859" stop-color="#03fffc"/><stop offset="0.5969" stop-color="#008bff"/><stop offset="0.6006" stop-color="#0072ff"/><stop offset="0.6116" stop-color="#004aff"/><stop offset="0.6190" stop-color="#002cff"/><stop offset="0.6301" stop-color="#0008ff"/><stop offset="0.6374" stop-color="#0203f2"/><stop offset="0.7996" stop-color="#0408d6"/><stop offset="0.9985" stop-color="#0306e2"/></linearGradient><linearGradient id="h6" gradientUnits="objectBoundingBox" x1="0" y1="0" x2="1" y2="0"><stop offset="0.0000" stop-color="#0d18a7"/><stop offset="0.2616" stop-color="#0910b7"/><stop offset="0.3685" stop-color="#0408d8"/><stop offset="0.3721" stop-color="#0305e5"/><stop offset="0.3758" stop-color="#0005ff"/><stop offset="0.3906" stop-color="#0035ff"/><stop offset="0.4053" stop-color="#006bff"/><stop offset="0.4164" stop-color="#00e6ff"/><stop offset="0.4200" stop-color="#0afff5"/><stop offset="0.4274" stop-color="#37ffc8"/><stop offset="0.4348" stop-color="#39ffc6"/><stop offset="0.4422" stop-color="#11ffee"/><stop offset="0.4458" stop-color="#00efff"/><stop offset="0.4532" stop-color="#00a8ff"/><stop offset="0.4679" stop-color="#0081ff"/><stop offset="0.5048" stop-color="#006aff"/><stop offset="0.5380" stop-color="#008bff"/><stop offset="0.5490" stop-color="#00abff"/><stop offset="0.5564" stop-color="#00efff"/><stop offset="0.5601" stop-color="#11ffee"/><stop offset="0.5674" stop-color="#39ffc6"/><stop offset="0.5748" stop-color="#37ffc8"/><stop offset="0.5822" stop-color="#0afff5"/><stop offset="0.5859" stop-color="#00e6ff"/><stop offset="0.5969" stop-color="#0072ff"/><stop offset="0.6190" stop-color="#0024ff"/><stop offset="0.6301" stop-color="#0004fc"/><stop offset="0.6448" stop-color="#0203f0"/><stop offset="0.8032" stop-color="#0408d6"/><stop offset="0.9985" stop-color="#0306e2"/></linearGradient><linearGradient id="h7" gradientUnits="objectBoundingBox" x1="0" y1="0" x2="1" y2="0"><stop offset="0.0000" stop-color="#0d18a7"/><stop offset="0.2616" stop-color="#0910b7"/><stop offset="0.3721" stop-color="#0407db"/><stop offset="0.3758" stop-color="#0102f5"/><stop offset="0.3832" stop-color="#0012ff"/><stop offset="0.4053" stop-color="#005fff"/><stop offset="0.4090" stop-color="#0071ff"/><stop offset="0.4200" stop-color="#00eeff"/><stop offset="0.4237" stop-color="#11ffee"/><stop offset="0.4311" stop-color="#3affc5"/><stop offset="0.4385" stop-color="#38ffc7"/><stop offset="0.4458" stop-color="#0bfff4"/><stop offset="0.4495" stop-color="#00e7ff"/><stop offset="0.4532" stop-color="#00bfff"/><stop offset="0.4606" stop-color="#009aff"/><stop offset="0.4716" stop-color="#0083ff"/><stop offset="0.5048" stop-color="#006eff"/><stop offset="0.5380" stop-color="#0091ff"/><stop offset="0.5490" stop-color="#00bfff"/><stop offset="0.5527" stop-color="#00e7ff"/><stop offset="0.5564" stop-color="#0bfff4"/><stop offset="0.5637" stop-color="#38ffc7"/><stop offset="0.5711" stop-color="#3affc5"/><stop offset="0.5785" stop-color="#11ffee"/><stop offset="0.5822" stop-color="#00eeff"/><stop offset="0.5932" stop-color="#0073ff"/><stop offset="0.6190" stop-color="#001cff"/><stop offset="0.6264" stop-color="#000aff"/><stop offset="0.6338" stop-color="#0103f3"/><stop offset="0.7959" stop-color="#0408d6"/><stop offset="0.9985" stop-color="#0306e2"/></linearGradient><linearGradient id="h8" gradientUnits="objectBoundingBox" x1="0" y1="0" x2="1" y2="0"><stop offset="0.0000" stop-color="#0d18a7"/><stop offset="0.2616" stop-color="#0910b7"/><stop offset="0.3721" stop-color="#0407da"/><stop offset="0.3795" stop-color="#0103fb"/><stop offset="0.4016" stop-color="#0042ff"/><stop offset="0.4127" stop-color="#007aff"/><stop offset="0.4237" stop-color="#00f6ff"/><stop offset="0.4311" stop-color="#2fffd0"/><stop offset="0.4385" stop-color="#3fffc0"/><stop offset="0.4458" stop-color="#22ffdd"/><stop offset="0.4495" stop-color="#04fffb"/><stop offset="0.4569" stop-color="#00b5ff"/><stop offset="0.4679" stop-color="#008cff"/><stop offset="0.5011" stop-color="#0070ff"/><stop offset="0.5380" stop-color="#0098ff"/><stop offset="0.5453" stop-color="#00b5ff"/><stop offset="0.5527" stop-color="#04fffb"/><stop offset="0.5601" stop-color="#36ffc9"/><stop offset="0.5674" stop-color="#3dffc2"/><stop offset="0.5748" stop-color="#18ffe7"/><stop offset="0.5785" stop-color="#00f6ff"/><stop offset="0.5895" stop-color="#007aff"/><stop offset="0.6080" stop-color="#0032ff"/><stop offset="0.6264" stop-color="#0004fd"/><stop offset="0.6411" stop-color="#0203f1"/><stop offset="0.7996" stop-color="#0408d6"/><stop offset="0.9985" stop-color="#0306e2"/></linearGradient><linearGradient id="h9" gradientUnits="objectBoundingBox" x1="0" y1="0" x2="1" y2="0"><stop offset="0.0000" stop-color="#0d18a7"/><stop offset="0.2616" stop-color="#0910b7"/><stop offset="0.3758" stop-color="#0407dc"/><stop offset="0.3832" stop-color="#0103fb"/><stop offset="0.3979" stop-color="#0024ff"/><stop offset="0.4090" stop-color="#0059ff"/><stop offset="0.4127" stop-color="#0061ff"/><stop offset="0.4200" stop-color="#00aeff"/><stop offset="0.4274" stop-color="#00feff"/><stop offset="0.4348" stop-color="#34ffcb"/><stop offset="0.4422" stop-color="#3fffc0"/><stop offset="0.4495" stop-color="#1dffe2"/><stop offset="0.4532" stop-color="#00fcff"/><stop offset="0.4606" stop-color="#00acff"/><stop offset="0.4679" stop-color="#0091ff"/><stop offset="0.5011" stop-color="#0074ff"/><stop offset="0.5343" stop-color="#0093ff"/><stop offset="0.5416" stop-color="#00acff"/><stop offset="0.5490" stop-color="#00fcff"/><stop offset="0.5564" stop-color="#33ffcc"/><stop offset="0.5637" stop-color="#3fffc0"/><stop offset="0.5711" stop-color="#1effe1"/><stop offset="0.5748" stop-color="#00feff"/><stop offset="0.5859" stop-color="#0082ff"/><stop offset="0.5895" stop-color="#0067ff"/><stop offset="0.5969" stop-color="#0050ff"/><stop offset="0.6080" stop-color="#0024ff"/><stop offset="0.6227" stop-color="#0006ff"/><stop offset="0.6338" stop-color="#0103f3"/><stop offset="0.7959" stop-color="#0408d6"/><stop offset="0.9985" stop-color="#0306e2"/></linearGradient><linearGradient id="h10" gradientUnits="objectBoundingBox" x1="0" y1="0" x2="1" y2="0"><stop offset="0.0000" stop-color="#0d18a7"/><stop offset="0.2616" stop-color="#0910b7"/><stop offset="0.3795" stop-color="#0407dd"/><stop offset="0.3906" stop-color="#0007ff"/><stop offset="0.3979" stop-color="#0015ff"/><stop offset="0.4090" stop-color="#0050ff"/><stop offset="0.4164" stop-color="#0066ff"/><stop offset="0.4274" stop-color="#00e1ff"/><stop offset="0.4311" stop-color="#07fff8"/><stop offset="0.4385" stop-color="#38ffc7"/><stop offset="0.4458" stop-color="#3effc1"/><stop offset="0.4532" stop-color="#17ffe8"/><stop offset="0.4569" stop-color="#00f5ff"/><stop offset="0.4643" stop-color="#00a2ff"/><stop offset="0.4790" stop-color="#008eff"/><stop offset="0.5011" stop-color="#0077ff"/><stop offset="0.5343" stop-color="#0099ff"/><stop offset="0.5380" stop-color="#00a4ff"/><stop offset="0.5453" stop-color="#00f5ff"/><stop offset="0.5527" stop-color="#30ffcf"/><stop offset="0.5601" stop-color="#41ffbe"/><stop offset="0.5674" stop-color="#24ffdb"/><stop offset="0.5711" stop-color="#07fff8"/><stop offset="0.5785" stop-color="#00b7ff"/><stop offset="0.5859" stop-color="#006dff"/><stop offset="0.5969" stop-color="#0045ff"/><stop offset="0.6043" stop-color="#001eff"/><stop offset="0.6190" stop-color="#0005ff"/><stop offset="0.6338" stop-color="#0103f3"/><stop offset="0.7959" stop-color="#0408d6"/><stop offset="0.9985" stop-color="#0306e2"/></linearGradient><linearGradient id="h11" gradientUnits="objectBoundingBox" x1="0" y1="0" x2="1" y2="0"><stop offset="0.0000" stop-color="#0d18a7"/><stop offset="0.2616" stop-color="#0910b7"/><stop offset="0.3832" stop-color="#0407df"/><stop offset="0.3979" stop-color="#0006ff"/><stop offset="0.4090" stop-color="#0046ff"/><stop offset="0.4164" stop-color="#005fff"/><stop offset="0.4274" stop-color="#00c0ff"/><stop offset="0.4311" stop-color="#00e9ff"/><stop offset="0.4348" stop-color="#0efff1"/><stop offset="0.4422" stop-color="#3cffc3"/><stop offset="0.4495" stop-color="#3dffc2"/><stop offset="0.4569" stop-color="#11ffee"/><stop offset="0.4606" stop-color="#00edff"/><stop offset="0.4679" stop-color="#009cff"/><stop offset="0.5011" stop-color="#007bff"/><stop offset="0.5343" stop-color="#009eff"/><stop offset="0.5416" stop-color="#00edff"/><stop offset="0.5453" stop-color="#11ffee"/><stop offset="0.5527" stop-color="#3dffc2"/><stop offset="0.5601" stop-color="#3cffc3"/><stop offset="0.5674" stop-color="#0efff1"/><stop offset="0.5711" stop-color="#00e9ff"/><stop offset="0.5748" stop-color="#00c0ff"/><stop offset="0.5822" stop-color="#0087ff"/><stop offset="0.5859" stop-color="#0065ff"/><stop offset="0.5969" stop-color="#003aff"/><stop offset="0.6043" stop-color="#000fff"/><stop offset="0.6264" stop-color="#0102f5"/><stop offset="0.7922" stop-color="#0408d6"/><stop offset="0.9985" stop-color="#0306e2"/></linearGradient><linearGradient id="h12" gradientUnits="objectBoundingBox" x1="0" y1="0" x2="1" y2="0"><stop offset="0.0000" stop-color="#0d18a7"/><stop offset="0.2616" stop-color="#0910b7"/><stop offset="0.3906" stop-color="#0305e5"/><stop offset="0.3943" stop-color="#0204e9"/><stop offset="0.3979" stop-color="#0103fa"/><stop offset="0.4090" stop-color="#003cff"/><stop offset="0.4164" stop-color="#0052ff"/><stop offset="0.4237" stop-color="#0092ff"/><stop offset="0.4274" stop-color="#00a3ff"/><stop offset="0.4348" stop-color="#00f3ff"/><stop offset="0.4422" stop-color="#31ffce"/><stop offset="0.4495" stop-color="#45ffba"/><stop offset="0.4569" stop-color="#29ffd6"/><stop offset="0.4606" stop-color="#0cfff3"/><stop offset="0.4643" stop-color="#00e6ff"/><stop offset="0.4679" stop-color="#00bcff"/><stop offset="0.4716" stop-color="#00acff"/><stop offset="0.5011" stop-color="#008dff"/><stop offset="0.5306" stop-color="#00adff"/><stop offset="0.5343" stop-color="#00bcff"/><stop offset="0.5380" stop-color="#00e6ff"/><stop offset="0.5416" stop-color="#0cfff3"/><stop offset="0.5490" stop-color="#3dffc2"/><stop offset="0.5564" stop-color="#41ffbe"/><stop offset="0.5637" stop-color="#17ffe8"/><stop offset="0.5674" stop-color="#00f3ff"/><stop offset="0.5748" stop-color="#00a8ff"/><stop offset="0.5785" stop-color="#0097ff"/><stop offset="0.5859" stop-color="#0059ff"/><stop offset="0.5969" stop-color="#0032ff"/><stop offset="0.6043" stop-color="#000bff"/><stop offset="0.6338" stop-color="#0103f3"/><stop offset="0.7959" stop-color="#0408d6"/><stop offset="0.9985" stop-color="#0306e2"/></linearGradient><linearGradient id="h13" gradientUnits="objectBoundingBox" x1="0" y1="0" x2="1" y2="0"><stop offset="0.0000" stop-color="#0d18a7"/><stop offset="0.2616" stop-color="#0910b7"/><stop offset="0.3943" stop-color="#0306e3"/><stop offset="0.3979" stop-color="#0203f2"/><stop offset="0.4016" stop-color="#000eff"/><stop offset="0.4090" stop-color="#0032ff"/><stop offset="0.4164" stop-color="#0045ff"/><stop offset="0.4237" stop-color="#0080ff"/><stop offset="0.4311" stop-color="#00a8ff"/><stop offset="0.4385" stop-color="#00fdff"/><stop offset="0.4458" stop-color="#38ffc7"/><stop offset="0.4532" stop-color="#47ffb8"/><stop offset="0.4606" stop-color="#26ffd9"/><stop offset="0.4643" stop-color="#07fff8"/><stop offset="0.4716" stop-color="#00bcff"/><stop offset="0.5048" stop-color="#00a1ff"/><stop offset="0.5306" stop-color="#00bcff"/><stop offset="0.5380" stop-color="#07fff8"/><stop offset="0.5453" stop-color="#3cffc3"/><stop offset="0.5490" stop-color="#47ffb8"/><stop offset="0.5564" stop-color="#38ffc7"/><stop offset="0.5637" stop-color="#00fdff"/><stop offset="0.5711" stop-color="#00a8ff"/><stop offset="0.5785" stop-color="#0085ff"/><stop offset="0.5859" stop-color="#004cff"/><stop offset="0.5969" stop-color="#002aff"/><stop offset="0.6043" stop-color="#0007ff"/><stop offset="0.7553" stop-color="#0408d9"/><stop offset="0.9690" stop-color="#0407de"/><stop offset="0.9985" stop-color="#0306e2"/></linearGradient><linearGradient id="h14" gradientUnits="objectBoundingBox" x1="0" y1="0" x2="1" y2="0"><stop offset="0.0000" stop-color="#0d18a7"/><stop offset="0.2616" stop-color="#0910b7"/><stop offset="0.3943" stop-color="#0306e3"/><stop offset="0.3979" stop-color="#0205e8"/><stop offset="0.4016" stop-color="#0007ff"/><stop offset="0.4127" stop-color="#002eff"/><stop offset="0.4164" stop-color="#0038ff"/><stop offset="0.4274" stop-color="#0081ff"/><stop offset="0.4311" stop-color="#008dff"/><stop offset="0.4422" stop-color="#07fff8"/><stop offset="0.4495" stop-color="#3effc1"/><stop offset="0.4569" stop-color="#48ffb7"/><stop offset="0.4643" stop-color="#22ffdd"/><stop offset="0.4679" stop-color="#01fffe"/><stop offset="0.4716" stop-color="#00d7ff"/><stop offset="0.4974" stop-color="#00b4ff"/><stop offset="0.5122" stop-color="#00b8ff"/><stop offset="0.5306" stop-color="#00d7ff"/><stop offset="0.5343" stop-color="#01fffe"/><stop offset="0.5416" stop-color="#3bffc4"/><stop offset="0.5490" stop-color="#49ffb6"/><stop offset="0.5564" stop-color="#28ffd7"/><stop offset="0.5601" stop-color="#07fff8"/><stop offset="0.5711" stop-color="#0092ff"/><stop offset="0.5785" stop-color="#0073ff"/><stop offset="0.5859" stop-color="#003fff"/><stop offset="0.5969" stop-color="#0021ff"/><stop offset="0.6043" stop-color="#0103fb"/><stop offset="0.7811" stop-color="#0408d7"/><stop offset="0.9985" stop-color="#0306e2"/></linearGradient><linearGradient id="h15" gradientUnits="objectBoundingBox" x1="0" y1="0" x2="1" y2="0"><stop offset="0.0000" stop-color="#0d18a7"/><stop offset="0.2616" stop-color="#0910b7"/><stop offset="0.3979" stop-color="#0305e5"/><stop offset="0.4016" stop-color="#0103fa"/><stop offset="0.4164" stop-color="#002bff"/><stop offset="0.4274" stop-color="#0070ff"/><stop offset="0.4348" stop-color="#008fff"/><stop offset="0.4422" stop-color="#00e9ff"/><stop offset="0.4458" stop-color="#11ffee"/><stop offset="0.4532" stop-color="#44ffbb"/><stop offset="0.4569" stop-color="#4dffb2"/><stop offset="0.4643" stop-color="#39ffc6"/><stop offset="0.4716" stop-color="#00f9ff"/><stop offset="0.4753" stop-color="#00e2ff"/><stop offset="0.5011" stop-color="#00c1ff"/><stop offset="0.5269" stop-color="#00e2ff"/><stop offset="0.5306" stop-color="#00f9ff"/><stop offset="0.5380" stop-color="#39ffc6"/><stop offset="0.5453" stop-color="#4dffb2"/><stop offset="0.5527" stop-color="#30ffcf"/><stop offset="0.5564" stop-color="#11ffee"/><stop offset="0.5601" stop-color="#00e9ff"/><stop offset="0.5674" stop-color="#008fff"/><stop offset="0.5785" stop-color="#0061ff"/><stop offset="0.5859" stop-color="#0032ff"/><stop offset="0.5969" stop-color="#0019ff"/><stop offset="0.6043" stop-color="#0103fa"/><stop offset="0.7885" stop-color="#0408d6"/><stop offset="0.9985" stop-color="#0306e2"/></linearGradient><linearGradient id="h16" gradientUnits="objectBoundingBox" x1="0" y1="0" x2="1" y2="0"><stop offset="0.0000" stop-color="#0d18a7"/><stop offset="0.2616" stop-color="#0910b7"/><stop offset="0.3979" stop-color="#0305e5"/><stop offset="0.4053" stop-color="#0008ff"/><stop offset="0.4164" stop-color="#001eff"/><stop offset="0.4311" stop-color="#006eff"/><stop offset="0.4348" stop-color="#0079ff"/><stop offset="0.4385" stop-color="#009aff"/><stop offset="0.4458" stop-color="#00f3ff"/><stop offset="0.4532" stop-color="#37ffc8"/><stop offset="0.4569" stop-color="#4affb5"/><stop offset="0.4606" stop-color="#50ffaf"/><stop offset="0.4679" stop-color="#37ffc8"/><stop offset="0.4753" stop-color="#00f6ff"/><stop offset="0.5011" stop-color="#00d4ff"/><stop offset="0.5269" stop-color="#00f6ff"/><stop offset="0.5343" stop-color="#37ffc8"/><stop offset="0.5416" stop-color="#50ffaf"/><stop offset="0.5453" stop-color="#4affb5"/><stop offset="0.5527" stop-color="#1affe5"/><stop offset="0.5564" stop-color="#00f3ff"/><stop offset="0.5637" stop-color="#009aff"/><stop offset="0.5674" stop-color="#007eff"/><stop offset="0.5785" stop-color="#004fff"/><stop offset="0.5859" stop-color="#0026ff"/><stop offset="0.6043" stop-color="#0103fa"/><stop offset="0.7885" stop-color="#0408d6"/><stop offset="0.9985" stop-color="#0306e2"/></linearGradient><linearGradient id="h17" gradientUnits="objectBoundingBox" x1="0" y1="0" x2="1" y2="0"><stop offset="0.0000" stop-color="#0d18a7"/><stop offset="0.2616" stop-color="#0910b7"/><stop offset="0.4016" stop-color="#0305e6"/><stop offset="0.4090" stop-color="#0008ff"/><stop offset="0.4164" stop-color="#0011ff"/><stop offset="0.4311" stop-color="#005fff"/><stop offset="0.4385" stop-color="#007eff"/><stop offset="0.4495" stop-color="#00faff"/><stop offset="0.4569" stop-color="#3effc1"/><stop offset="0.4606" stop-color="#4fffb0"/><stop offset="0.4643" stop-color="#52ffad"/><stop offset="0.4716" stop-color="#32ffcd"/><stop offset="0.4753" stop-color="#11ffee"/><stop offset="0.4827" stop-color="#00feff"/><stop offset="0.5011" stop-color="#00e8ff"/><stop offset="0.5232" stop-color="#05fffa"/><stop offset="0.5269" stop-color="#11ffee"/><stop offset="0.5343" stop-color="#48ffb7"/><stop offset="0.5380" stop-color="#52ffad"/><stop offset="0.5416" stop-color="#4fffb0"/><stop offset="0.5490" stop-color="#21ffde"/><stop offset="0.5527" stop-color="#00faff"/><stop offset="0.5637" stop-color="#0082ff"/><stop offset="0.5785" stop-color="#003dff"/><stop offset="0.5859" stop-color="#0019ff"/><stop offset="0.6043" stop-color="#0103fa"/><stop offset="0.7885" stop-color="#0408d6"/><stop offset="0.9985" stop-color="#0306e2"/></linearGradient><linearGradient id="h18" gradientUnits="objectBoundingBox" x1="0" y1="0" x2="1" y2="0"><stop offset="0.0000" stop-color="#0d18a7"/><stop offset="0.2616" stop-color="#0910b7"/><stop offset="0.4053" stop-color="#0305e8"/><stop offset="0.4164" stop-color="#0005fe"/><stop offset="0.4237" stop-color="#0024ff"/><stop offset="0.4311" stop-color="#004fff"/><stop offset="0.4348" stop-color="#0058ff"/><stop offset="0.4385" stop-color="#006eff"/><stop offset="0.4458" stop-color="#00c8ff"/><stop offset="0.4495" stop-color="#00dcff"/><stop offset="0.4532" stop-color="#02fffd"/><stop offset="0.4606" stop-color="#44ffbb"/><stop offset="0.4643" stop-color="#53ffac"/><stop offset="0.4679" stop-color="#54ffab"/><stop offset="0.4790" stop-color="#19ffe6"/><stop offset="0.4974" stop-color="#00fcff"/><stop offset="0.5122" stop-color="#06fff9"/><stop offset="0.5232" stop-color="#19ffe6"/><stop offset="0.5343" stop-color="#54ffab"/><stop offset="0.5380" stop-color="#53ffac"/><stop offset="0.5416" stop-color="#44ffbb"/><stop offset="0.5490" stop-color="#02fffd"/><stop offset="0.5527" stop-color="#00dcff"/><stop offset="0.5564" stop-color="#00c8ff"/><stop offset="0.5637" stop-color="#0073ff"/><stop offset="0.5674" stop-color="#005dff"/><stop offset="0.5748" stop-color="#0042ff"/><stop offset="0.5822" stop-color="#0016ff"/><stop offset="0.5969" stop-color="#0103fb"/><stop offset="0.7922" stop-color="#0408d6"/><stop offset="0.9985" stop-color="#0306e2"/></linearGradient><linearGradient id="h19" gradientUnits="objectBoundingBox" x1="0" y1="0" x2="1" y2="0"><stop offset="0.0000" stop-color="#0d18a7"/><stop offset="0.2616" stop-color="#0910b7"/><stop offset="0.4053" stop-color="#0305e8"/><stop offset="0.4164" stop-color="#0006ff"/><stop offset="0.4237" stop-color="#0022ff"/><stop offset="0.4311" stop-color="#0053ff"/><stop offset="0.4385" stop-color="#0077ff"/><stop offset="0.4458" stop-color="#00caff"/><stop offset="0.4532" stop-color="#00e8ff"/><stop offset="0.4569" stop-color="#0bfff4"/><stop offset="0.4643" stop-color="#4dffb2"/><stop offset="0.4679" stop-color="#5affa5"/><stop offset="0.4716" stop-color="#57ffa8"/><stop offset="0.4790" stop-color="#2affd5"/><stop offset="0.5011" stop-color="#1effe1"/><stop offset="0.5232" stop-color="#2affd5"/><stop offset="0.5306" stop-color="#57ffa8"/><stop offset="0.5343" stop-color="#5affa5"/><stop offset="0.5380" stop-color="#4dffb2"/><stop offset="0.5453" stop-color="#0bfff4"/><stop offset="0.5490" stop-color="#00e8ff"/><stop offset="0.5564" stop-color="#00caff"/><stop offset="0.5637" stop-color="#007bff"/><stop offset="0.5822" stop-color="#0017ff"/><stop offset="0.5969" stop-color="#0103fb"/><stop offset="0.7922" stop-color="#0408d6"/><stop offset="0.9985" stop-color="#0306e2"/></linearGradient><linearGradient id="h20" gradientUnits="objectBoundingBox" x1="0" y1="0" x2="1" y2="0"><stop offset="0.0000" stop-color="#0d18a7"/><stop offset="0.2616" stop-color="#0910b7"/><stop offset="0.4053" stop-color="#0305e8"/><stop offset="0.4127" stop-color="#0009ff"/><stop offset="0.4237" stop-color="#0031ff"/><stop offset="0.4458" stop-color="#00d4ff"/><stop offset="0.4569" stop-color="#03fffc"/><stop offset="0.4606" stop-color="#17ffe8"/><stop offset="0.4643" stop-color="#3effc1"/><stop offset="0.4679" stop-color="#58ffa7"/><stop offset="0.4716" stop-color="#63ff9c"/><stop offset="0.4753" stop-color="#5dffa2"/><stop offset="0.4827" stop-color="#3bffc4"/><stop offset="0.4937" stop-color="#43ffbc"/><stop offset="0.5011" stop-color="#4fffb0"/><stop offset="0.5158" stop-color="#3affc5"/><stop offset="0.5232" stop-color="#47ffb8"/><stop offset="0.5269" stop-color="#5dffa2"/><stop offset="0.5306" stop-color="#63ff9c"/><stop offset="0.5343" stop-color="#58ffa7"/><stop offset="0.5380" stop-color="#3effc1"/><stop offset="0.5416" stop-color="#17ffe8"/><stop offset="0.5453" stop-color="#03fffc"/><stop offset="0.5564" stop-color="#00d4ff"/><stop offset="0.5637" stop-color="#009dff"/><stop offset="0.5785" stop-color="#0038ff"/><stop offset="0.5932" stop-color="#0007ff"/><stop offset="0.7775" stop-color="#0408d7"/><stop offset="0.9985" stop-color="#0306e2"/></linearGradient><linearGradient id="h21" gradientUnits="objectBoundingBox" x1="0" y1="0" x2="1" y2="0"><stop offset="0.0000" stop-color="#0d18a7"/><stop offset="0.2616" stop-color="#0910b7"/><stop offset="0.4016" stop-color="#0305e7"/><stop offset="0.4090" stop-color="#0103fb"/><stop offset="0.4237" stop-color="#0040ff"/><stop offset="0.4274" stop-color="#0057ff"/><stop offset="0.4348" stop-color="#00a5ff"/><stop offset="0.4495" stop-color="#00edff"/><stop offset="0.4569" stop-color="#08fff7"/><stop offset="0.4643" stop-color="#24ffdb"/><stop offset="0.4679" stop-color="#4bffb4"/><stop offset="0.4716" stop-color="#64ff9b"/><stop offset="0.4753" stop-color="#6bff94"/><stop offset="0.4827" stop-color="#50ffaf"/><stop offset="0.4901" stop-color="#59ffa6"/><stop offset="0.5011" stop-color="#81ff7e"/><stop offset="0.5158" stop-color="#53ffac"/><stop offset="0.5195" stop-color="#50ffaf"/><stop offset="0.5269" stop-color="#6bff94"/><stop offset="0.5306" stop-color="#64ff9b"/><stop offset="0.5343" stop-color="#4bffb4"/><stop offset="0.5380" stop-color="#24ffdb"/><stop offset="0.5490" stop-color="#00f8ff"/><stop offset="0.5674" stop-color="#00a9ff"/><stop offset="0.5748" stop-color="#005dff"/><stop offset="0.5932" stop-color="#000bff"/><stop offset="0.6264" stop-color="#0102f5"/><stop offset="0.7922" stop-color="#0408d6"/><stop offset="0.9985" stop-color="#0306e2"/></linearGradient><linearGradient id="h22" gradientUnits="objectBoundingBox" x1="0" y1="0" x2="1" y2="0"><stop offset="0.0000" stop-color="#0d18a7"/><stop offset="0.2616" stop-color="#0910b7"/><stop offset="0.3943" stop-color="#0306e3"/><stop offset="0.4090" stop-color="#0006ff"/><stop offset="0.4200" stop-color="#0047ff"/><stop offset="0.4237" stop-color="#004fff"/><stop offset="0.4274" stop-color="#0066ff"/><stop offset="0.4348" stop-color="#00c5ff"/><stop offset="0.4385" stop-color="#00dbff"/><stop offset="0.4532" stop-color="#01fffe"/><stop offset="0.4643" stop-color="#1affe5"/><stop offset="0.4679" stop-color="#30ffcf"/><stop offset="0.4716" stop-color="#58ffa7"/><stop offset="0.4753" stop-color="#6eff91"/><stop offset="0.4790" stop-color="#72ff8d"/><stop offset="0.4827" stop-color="#65ff9a"/><stop offset="0.4901" stop-color="#76ff89"/><stop offset="0.4974" stop-color="#a7ff58"/><stop offset="0.5011" stop-color="#b3ff4c"/><stop offset="0.5085" stop-color="#8fff70"/><stop offset="0.5122" stop-color="#76ff89"/><stop offset="0.5195" stop-color="#65ff9a"/><stop offset="0.5232" stop-color="#72ff8d"/><stop offset="0.5269" stop-color="#6eff91"/><stop offset="0.5306" stop-color="#58ffa7"/><stop offset="0.5343" stop-color="#30ffcf"/><stop offset="0.5380" stop-color="#1affe5"/><stop offset="0.5490" stop-color="#01fffe"/><stop offset="0.5637" stop-color="#00dbff"/><stop offset="0.5674" stop-color="#00c5ff"/><stop offset="0.5748" stop-color="#006bff"/><stop offset="0.5785" stop-color="#0055ff"/><stop offset="0.5859" stop-color="#003aff"/><stop offset="0.5932" stop-color="#000fff"/><stop offset="0.6153" stop-color="#0102f8"/><stop offset="0.7885" stop-color="#0408d6"/><stop offset="0.9985" stop-color="#0306e2"/></linearGradient><linearGradient id="h23" gradientUnits="objectBoundingBox" x1="0" y1="0" x2="1" y2="0"><stop offset="0.0000" stop-color="#0d18a7"/><stop offset="0.2616" stop-color="#0910b7"/><stop offset="0.3943" stop-color="#0306e3"/><stop offset="0.4053" stop-color="#0102f8"/><stop offset="0.4127" stop-color="#0020ff"/><stop offset="0.4237" stop-color="#0056ff"/><stop offset="0.4274" stop-color="#0074ff"/><stop offset="0.4348" stop-color="#00d0ff"/><stop offset="0.4458" stop-color="#00fbff"/><stop offset="0.4606" stop-color="#42ffbd"/><stop offset="0.4679" stop-color="#4fffb0"/><stop offset="0.4827" stop-color="#9aff65"/><stop offset="0.4901" stop-color="#acff53"/><stop offset="0.4974" stop-color="#d9ff26"/><stop offset="0.5011" stop-color="#e3ff1c"/><stop offset="0.5085" stop-color="#c3ff3c"/><stop offset="0.5158" stop-color="#a0ff5f"/><stop offset="0.5232" stop-color="#8cff73"/><stop offset="0.5343" stop-color="#4fffb0"/><stop offset="0.5453" stop-color="#36ffc9"/><stop offset="0.5564" stop-color="#00fbff"/><stop offset="0.5674" stop-color="#00d0ff"/><stop offset="0.5748" stop-color="#007aff"/><stop offset="0.5785" stop-color="#005cff"/><stop offset="0.5895" stop-color="#0028ff"/><stop offset="0.5969" stop-color="#0009ff"/><stop offset="0.6522" stop-color="#0204ee"/><stop offset="0.8069" stop-color="#0408d6"/><stop offset="0.9985" stop-color="#0306e2"/></linearGradient><linearGradient id="h24" gradientUnits="objectBoundingBox" x1="0" y1="0" x2="1" y2="0"><stop offset="0.0000" stop-color="#0d18a7"/><stop offset="0.2616" stop-color="#0910b7"/><stop offset="0.3943" stop-color="#0306e3"/><stop offset="0.4053" stop-color="#0103fb"/><stop offset="0.4127" stop-color="#0026ff"/><stop offset="0.4237" stop-color="#005cff"/><stop offset="0.4348" stop-color="#00daff"/><stop offset="0.4422" stop-color="#00f9ff"/><stop offset="0.4495" stop-color="#2bffd4"/><stop offset="0.4606" stop-color="#6fff90"/><stop offset="0.4679" stop-color="#7eff81"/><stop offset="0.4790" stop-color="#c1ff3e"/><stop offset="0.4901" stop-color="#e1ff1e"/><stop offset="0.4937" stop-color="#f7ff08"/><stop offset="0.5011" stop-color="#ffeb00"/><stop offset="0.5085" stop-color="#f7ff08"/><stop offset="0.5158" stop-color="#d4ff2b"/><stop offset="0.5232" stop-color="#c1ff3e"/><stop offset="0.5343" stop-color="#7eff81"/><stop offset="0.5416" stop-color="#6fff90"/><stop offset="0.5527" stop-color="#2bffd4"/><stop offset="0.5601" stop-color="#00f9ff"/><stop offset="0.5674" stop-color="#00daff"/><stop offset="0.5785" stop-color="#0062ff"/><stop offset="0.5895" stop-color="#002eff"/><stop offset="0.5969" stop-color="#000bff"/><stop offset="0.6264" stop-color="#0102f5"/><stop offset="0.7922" stop-color="#0408d6"/><stop offset="0.9985" stop-color="#0306e2"/></linearGradient><linearGradient id="h25" gradientUnits="objectBoundingBox" x1="0" y1="0" x2="1" y2="0"><stop offset="0.0000" stop-color="#0d18a7"/><stop offset="0.2616" stop-color="#0910b7"/><stop offset="0.3943" stop-color="#0305e5"/><stop offset="0.4053" stop-color="#0004fd"/><stop offset="0.4164" stop-color="#0042ff"/><stop offset="0.4237" stop-color="#0062ff"/><stop offset="0.4311" stop-color="#00c6ff"/><stop offset="0.4348" stop-color="#00e5ff"/><stop offset="0.4422" stop-color="#07fff8"/><stop offset="0.4569" stop-color="#86ff79"/><stop offset="0.4606" stop-color="#9bff64"/><stop offset="0.4679" stop-color="#adff52"/><stop offset="0.4790" stop-color="#f7ff08"/><stop offset="0.4901" stop-color="#ffe700"/><stop offset="0.4974" stop-color="#ffc200"/><stop offset="0.5011" stop-color="#ffba00"/><stop offset="0.5085" stop-color="#ffd300"/><stop offset="0.5158" stop-color="#fff500"/><stop offset="0.5232" stop-color="#f7ff08"/><stop offset="0.5343" stop-color="#adff52"/><stop offset="0.5416" stop-color="#9bff64"/><stop offset="0.5490" stop-color="#68ff97"/><stop offset="0.5601" stop-color="#07fff8"/><stop offset="0.5674" stop-color="#00e5ff"/><stop offset="0.5711" stop-color="#00c6ff"/><stop offset="0.5785" stop-color="#0068ff"/><stop offset="0.5969" stop-color="#000dff"/><stop offset="0.6190" stop-color="#0102f7"/><stop offset="0.7885" stop-color="#0408d6"/><stop offset="0.9985" stop-color="#0306e2"/></linearGradient><linearGradient id="h26" gradientUnits="objectBoundingBox" x1="0" y1="0" x2="1" y2="0"><stop offset="0.0000" stop-color="#0d18a7"/><stop offset="0.2616" stop-color="#0910b7"/><stop offset="0.3906" stop-color="#0306e2"/><stop offset="0.4053" stop-color="#0006ff"/><stop offset="0.4164" stop-color="#0047ff"/><stop offset="0.4200" stop-color="#004fff"/><stop offset="0.4237" stop-color="#0069ff"/><stop offset="0.4311" stop-color="#00d6ff"/><stop offset="0.4348" stop-color="#00f0ff"/><stop offset="0.4385" stop-color="#00f9ff"/><stop offset="0.4422" stop-color="#14ffeb"/><stop offset="0.4569" stop-color="#aeff51"/><stop offset="0.4606" stop-color="#c7ff38"/><stop offset="0.4679" stop-color="#dcff23"/><stop offset="0.4716" stop-color="#f5ff0a"/><stop offset="0.4790" stop-color="#ffd200"/><stop offset="0.4901" stop-color="#ffb100"/><stop offset="0.4974" stop-color="#ff9000"/><stop offset="0.5048" stop-color="#ff9000"/><stop offset="0.5158" stop-color="#ffc100"/><stop offset="0.5232" stop-color="#ffd200"/><stop offset="0.5306" stop-color="#f5ff0a"/><stop offset="0.5343" stop-color="#dcff23"/><stop offset="0.5416" stop-color="#c7ff38"/><stop offset="0.5490" stop-color="#8aff75"/><stop offset="0.5601" stop-color="#14ffeb"/><stop offset="0.5637" stop-color="#00f9ff"/><stop offset="0.5674" stop-color="#00f0ff"/><stop offset="0.5711" stop-color="#00d6ff"/><stop offset="0.5785" stop-color="#006eff"/><stop offset="0.5822" stop-color="#0056ff"/><stop offset="0.5895" stop-color="#003aff"/><stop offset="0.5969" stop-color="#000fff"/><stop offset="0.6190" stop-color="#0102f7"/><stop offset="0.7885" stop-color="#0408d6"/><stop offset="0.9985" stop-color="#0306e2"/></linearGradient><linearGradient id="h27" gradientUnits="objectBoundingBox" x1="0" y1="0" x2="1" y2="0"><stop offset="0.0000" stop-color="#0d18a7"/><stop offset="0.2616" stop-color="#0910b7"/><stop offset="0.3906" stop-color="#0306e2"/><stop offset="0.4016" stop-color="#0102f6"/><stop offset="0.4053" stop-color="#000aff"/><stop offset="0.4164" stop-color="#0048ff"/><stop offset="0.4200" stop-color="#0054ff"/><stop offset="0.4237" stop-color="#0074ff"/><stop offset="0.4311" stop-color="#00dbff"/><stop offset="0.4348" stop-color="#00f4ff"/><stop offset="0.4385" stop-color="#06fff9"/><stop offset="0.4458" stop-color="#51ffae"/><stop offset="0.4569" stop-color="#c1ff3e"/><stop offset="0.4606" stop-color="#deff21"/><stop offset="0.4679" stop-color="#faff05"/><stop offset="0.4753" stop-color="#ffd000"/><stop offset="0.4827" stop-color="#ffa800"/><stop offset="0.5011" stop-color="#ff6d00"/><stop offset="0.5232" stop-color="#ffb600"/><stop offset="0.5306" stop-color="#ffed00"/><stop offset="0.5343" stop-color="#faff05"/><stop offset="0.5416" stop-color="#deff21"/><stop offset="0.5527" stop-color="#7cff83"/><stop offset="0.5601" stop-color="#27ffd8"/><stop offset="0.5637" stop-color="#06fff9"/><stop offset="0.5674" stop-color="#00f4ff"/><stop offset="0.5711" stop-color="#00dbff"/><stop offset="0.5785" stop-color="#0079ff"/><stop offset="0.5822" stop-color="#005bff"/><stop offset="0.5932" stop-color="#0027ff"/><stop offset="0.6006" stop-color="#0008ff"/><stop offset="0.7627" stop-color="#0408d8"/><stop offset="0.9875" stop-color="#0306e0"/><stop offset="0.9985" stop-color="#0306e2"/></linearGradient><linearGradient id="h28" gradientUnits="objectBoundingBox" x1="0" y1="0" x2="1" y2="0"><stop offset="0.0000" stop-color="#0d18a7"/><stop offset="0.2616" stop-color="#0910b7"/><stop offset="0.3906" stop-color="#0306e2"/><stop offset="0.4016" stop-color="#0102f9"/><stop offset="0.4090" stop-color="#0024ff"/><stop offset="0.4200" stop-color="#0059ff"/><stop offset="0.4237" stop-color="#007fff"/><stop offset="0.4311" stop-color="#00e0ff"/><stop offset="0.4348" stop-color="#00f8ff"/><stop offset="0.4385" stop-color="#12ffed"/><stop offset="0.4495" stop-color="#96ff69"/><stop offset="0.4606" stop-color="#f4ff0b"/><stop offset="0.4679" stop-color="#ffe500"/><stop offset="0.4790" stop-color="#ff9a00"/><stop offset="0.4974" stop-color="#ff5700"/><stop offset="0.5048" stop-color="#ff5700"/><stop offset="0.5232" stop-color="#ff9a00"/><stop offset="0.5343" stop-color="#ffe500"/><stop offset="0.5416" stop-color="#f4ff0b"/><stop offset="0.5527" stop-color="#96ff69"/><stop offset="0.5637" stop-color="#12ffed"/><stop offset="0.5674" stop-color="#00f8ff"/><stop offset="0.5711" stop-color="#00e0ff"/><stop offset="0.5785" stop-color="#0084ff"/><stop offset="0.5822" stop-color="#0060ff"/><stop offset="0.5932" stop-color="#002cff"/><stop offset="0.6006" stop-color="#000aff"/><stop offset="0.6374" stop-color="#0203f2"/><stop offset="0.7996" stop-color="#0408d6"/><stop offset="0.9985" stop-color="#0306e2"/></linearGradient><linearGradient id="h29" gradientUnits="objectBoundingBox" x1="0" y1="0" x2="1" y2="0"><stop offset="0.0000" stop-color="#0d18a7"/><stop offset="0.2616" stop-color="#0910b7"/><stop offset="0.3906" stop-color="#0306e4"/><stop offset="0.4016" stop-color="#0103fc"/><stop offset="0.4200" stop-color="#005eff"/><stop offset="0.4274" stop-color="#00c0ff"/><stop offset="0.4311" stop-color="#00e5ff"/><stop offset="0.4348" stop-color="#00fbff"/><stop offset="0.4385" stop-color="#1effe1"/><stop offset="0.4495" stop-color="#b1ff4e"/><stop offset="0.4569" stop-color="#e7ff18"/><stop offset="0.4606" stop-color="#fff400"/><stop offset="0.4643" stop-color="#ffd600"/><stop offset="0.4716" stop-color="#ffb600"/><stop offset="0.4827" stop-color="#ff6b00"/><stop offset="0.4937" stop-color="#ff4900"/><stop offset="0.5011" stop-color="#ff3400"/><stop offset="0.5085" stop-color="#ff4900"/><stop offset="0.5195" stop-color="#ff6b00"/><stop offset="0.5343" stop-color="#ffc700"/><stop offset="0.5380" stop-color="#ffd600"/><stop offset="0.5416" stop-color="#fff400"/><stop offset="0.5490" stop-color="#cdff32"/><stop offset="0.5527" stop-color="#b1ff4e"/><stop offset="0.5637" stop-color="#1effe1"/><stop offset="0.5674" stop-color="#00fbff"/><stop offset="0.5711" stop-color="#00e5ff"/><stop offset="0.5822" stop-color="#0065ff"/><stop offset="0.6006" stop-color="#000cff"/><stop offset="0.6264" stop-color="#0102f5"/><stop offset="0.7922" stop-color="#0408d6"/><stop offset="0.9985" stop-color="#0306e2"/></linearGradient><linearGradient id="h30" gradientUnits="objectBoundingBox" x1="0" y1="0" x2="1" y2="0"><stop offset="0.0000" stop-color="#0d18a7"/><stop offset="0.2616" stop-color="#0910b7"/><stop offset="0.3869" stop-color="#0306e0"/><stop offset="0.4016" stop-color="#0004fe"/><stop offset="0.4127" stop-color="#0043ff"/><stop offset="0.4200" stop-color="#0063ff"/><stop offset="0.4274" stop-color="#00cbff"/><stop offset="0.4348" stop-color="#00ffff"/><stop offset="0.4385" stop-color="#2affd5"/><stop offset="0.4495" stop-color="#ccff33"/><stop offset="0.4569" stop-color="#faff05"/><stop offset="0.4643" stop-color="#ffba00"/><stop offset="0.4716" stop-color="#ff9b00"/><stop offset="0.4827" stop-color="#ff4d00"/><stop offset="0.5011" stop-color="#ff1700"/><stop offset="0.5195" stop-color="#ff4d00"/><stop offset="0.5306" stop-color="#ff9b00"/><stop offset="0.5380" stop-color="#ffba00"/><stop offset="0.5453" stop-color="#faff05"/><stop offset="0.5527" stop-color="#ccff33"/><stop offset="0.5637" stop-color="#2affd5"/><stop offset="0.5674" stop-color="#00ffff"/><stop offset="0.5748" stop-color="#00cbff"/><stop offset="0.5822" stop-color="#0069ff"/><stop offset="0.6006" stop-color="#000dff"/><stop offset="0.6264" stop-color="#0102f5"/><stop offset="0.7922" stop-color="#0408d6"/><stop offset="0.9985" stop-color="#0306e2"/></linearGradient><linearGradient id="h31" gradientUnits="objectBoundingBox" x1="0" y1="0" x2="1" y2="0"><stop offset="0.0000" stop-color="#0d18a7"/><stop offset="0.2616" stop-color="#0910b7"/><stop offset="0.3869" stop-color="#0306e0"/><stop offset="0.4016" stop-color="#0006ff"/><stop offset="0.4127" stop-color="#0047ff"/><stop offset="0.4164" stop-color="#004fff"/><stop offset="0.4200" stop-color="#0069ff"/><stop offset="0.4274" stop-color="#00d6ff"/><stop offset="0.4348" stop-color="#04fffb"/><stop offset="0.4385" stop-color="#35ffca"/><stop offset="0.4458" stop-color="#b5ff4a"/><stop offset="0.4495" stop-color="#e6ff19"/><stop offset="0.4532" stop-color="#faff05"/><stop offset="0.4569" stop-color="#fff100"/><stop offset="0.4643" stop-color="#ff9d00"/><stop offset="0.4716" stop-color="#ff7f00"/><stop offset="0.4827" stop-color="#ff2e00"/><stop offset="0.4974" stop-color="#ff0100"/><stop offset="0.5048" stop-color="#ff0100"/><stop offset="0.5195" stop-color="#ff2e00"/><stop offset="0.5306" stop-color="#ff7f00"/><stop offset="0.5380" stop-color="#ff9d00"/><stop offset="0.5453" stop-color="#fff100"/><stop offset="0.5490" stop-color="#faff05"/><stop offset="0.5527" stop-color="#e6ff19"/><stop offset="0.5564" stop-color="#b5ff4a"/><stop offset="0.5637" stop-color="#35ffca"/><stop offset="0.5674" stop-color="#04fffb"/><stop offset="0.5748" stop-color="#00d6ff"/><stop offset="0.5822" stop-color="#006eff"/><stop offset="0.5859" stop-color="#0056ff"/><stop offset="0.5932" stop-color="#003aff"/><stop offset="0.6006" stop-color="#000fff"/><stop offset="0.6227" stop-color="#0102f6"/><stop offset="0.7922" stop-color="#0408d6"/><stop offset="0.9985" stop-color="#0306e2"/></linearGradient><linearGradient id="h32" gradientUnits="objectBoundingBox" x1="0" y1="0" x2="1" y2="0"><stop offset="0.0000" stop-color="#0d18a7"/><stop offset="0.2616" stop-color="#0910b7"/><stop offset="0.3869" stop-color="#0306e0"/><stop offset="0.4016" stop-color="#0005fe"/><stop offset="0.4127" stop-color="#0041ff"/><stop offset="0.4164" stop-color="#004bff"/><stop offset="0.4200" stop-color="#0064ff"/><stop offset="0.4274" stop-color="#00c7ff"/><stop offset="0.4348" stop-color="#00fdff"/><stop offset="0.4385" stop-color="#2cffd3"/><stop offset="0.4495" stop-color="#d7ff28"/><stop offset="0.4569" stop-color="#fff600"/><stop offset="0.4643" stop-color="#ffa800"/><stop offset="0.4753" stop-color="#ff6d00"/><stop offset="0.4827" stop-color="#ff3600"/><stop offset="0.5011" stop-color="#fe0000"/><stop offset="0.5195" stop-color="#ff3600"/><stop offset="0.5306" stop-color="#ff8500"/><stop offset="0.5380" stop-color="#ffa800"/><stop offset="0.5453" stop-color="#fff600"/><stop offset="0.5527" stop-color="#d7ff28"/><stop offset="0.5637" stop-color="#2cffd3"/><stop offset="0.5674" stop-color="#00fdff"/><stop offset="0.5748" stop-color="#00c7ff"/><stop offset="0.5822" stop-color="#006aff"/><stop offset="0.5859" stop-color="#0052ff"/><stop offset="0.5932" stop-color="#0034ff"/><stop offset="0.6006" stop-color="#000eff"/><stop offset="0.6227" stop-color="#0102f6"/><stop offset="0.7922" stop-color="#0408d6"/><stop offset="0.9985" stop-color="#0306e2"/></linearGradient><linearGradient id="h33" gradientUnits="objectBoundingBox" x1="0" y1="0" x2="1" y2="0"><stop offset="0.0000" stop-color="#0d18a7"/><stop offset="0.2616" stop-color="#0910b7"/><stop offset="0.3906" stop-color="#0306e3"/><stop offset="0.4016" stop-color="#0004fd"/><stop offset="0.4164" stop-color="#0047ff"/><stop offset="0.4200" stop-color="#0060ff"/><stop offset="0.4274" stop-color="#00b8ff"/><stop offset="0.4348" stop-color="#00f7ff"/><stop offset="0.4385" stop-color="#23ffdc"/><stop offset="0.4495" stop-color="#c8ff37"/><stop offset="0.4569" stop-color="#fffb00"/><stop offset="0.4643" stop-color="#ffb400"/><stop offset="0.4790" stop-color="#ff5a00"/><stop offset="0.4827" stop-color="#ff3e00"/><stop offset="0.5011" stop-color="#ff0300"/><stop offset="0.5195" stop-color="#ff3e00"/><stop offset="0.5306" stop-color="#ff8c00"/><stop offset="0.5380" stop-color="#ffb400"/><stop offset="0.5453" stop-color="#fffb00"/><stop offset="0.5527" stop-color="#c8ff37"/><stop offset="0.5637" stop-color="#23ffdc"/><stop offset="0.5674" stop-color="#00f7ff"/><stop offset="0.5785" stop-color="#0090ff"/><stop offset="0.5822" stop-color="#0066ff"/><stop offset="0.5969" stop-color="#001bff"/><stop offset="0.6043" stop-color="#0006ff"/><stop offset="0.7553" stop-color="#0408d9"/><stop offset="0.9690" stop-color="#0407de"/><stop offset="0.9985" stop-color="#0306e2"/></linearGradient><linearGradient id="h34" gradientUnits="objectBoundingBox" x1="0" y1="0" x2="1" y2="0"><stop offset="0.0000" stop-color="#0d18a7"/><stop offset="0.2616" stop-color="#0910b7"/><stop offset="0.3906" stop-color="#0306e2"/><stop offset="0.4016" stop-color="#0103fb"/><stop offset="0.4200" stop-color="#005bff"/><stop offset="0.4348" stop-color="#00f1ff"/><stop offset="0.4385" stop-color="#1affe5"/><stop offset="0.4458" stop-color="#82ff7d"/><stop offset="0.4495" stop-color="#b9ff46"/><stop offset="0.4569" stop-color="#feff01"/><stop offset="0.4679" stop-color="#ffa600"/><stop offset="0.4864" stop-color="#ff3500"/><stop offset="0.4937" stop-color="#ff1f00"/><stop offset="0.5011" stop-color="#ff0700"/><stop offset="0.5195" stop-color="#ff4600"/><stop offset="0.5416" stop-color="#ffdf00"/><stop offset="0.5453" stop-color="#feff01"/><stop offset="0.5527" stop-color="#b9ff46"/><stop offset="0.5601" stop-color="#48ffb7"/><stop offset="0.5637" stop-color="#1affe5"/><stop offset="0.5674" stop-color="#00f1ff"/><stop offset="0.5748" stop-color="#00b0ff"/><stop offset="0.5822" stop-color="#0061ff"/><stop offset="0.6006" stop-color="#000bff"/><stop offset="0.6301" stop-color="#0103f4"/><stop offset="0.7959" stop-color="#0408d6"/><stop offset="0.9985" stop-color="#0306e2"/></linearGradient><linearGradient id="h35" gradientUnits="objectBoundingBox" x1="0" y1="0" x2="1" y2="0"><stop offset="0.0000" stop-color="#0d18a7"/><stop offset="0.2616" stop-color="#0910b7"/><stop offset="0.3906" stop-color="#0306e2"/><stop offset="0.4016" stop-color="#0102f9"/><stop offset="0.4127" stop-color="#002fff"/><stop offset="0.4200" stop-color="#0057ff"/><stop offset="0.4274" stop-color="#009dff"/><stop offset="0.4348" stop-color="#00ebff"/><stop offset="0.4385" stop-color="#11ffee"/><stop offset="0.4422" stop-color="#39ffc6"/><stop offset="0.4495" stop-color="#aaff55"/><stop offset="0.4569" stop-color="#f8ff07"/><stop offset="0.4827" stop-color="#ff4e00"/><stop offset="0.5011" stop-color="#ff0b00"/><stop offset="0.5195" stop-color="#ff4e00"/><stop offset="0.5269" stop-color="#ff8400"/><stop offset="0.5453" stop-color="#f8ff07"/><stop offset="0.5527" stop-color="#aaff55"/><stop offset="0.5601" stop-color="#39ffc6"/><stop offset="0.5637" stop-color="#11ffee"/><stop offset="0.5674" stop-color="#00ebff"/><stop offset="0.5822" stop-color="#005dff"/><stop offset="0.5969" stop-color="#0014ff"/><stop offset="0.6116" stop-color="#0102f9"/><stop offset="0.7811" stop-color="#0408d7"/><stop offset="0.9985" stop-color="#0306e2"/></linearGradient><linearGradient id="h36" gradientUnits="objectBoundingBox" x1="0" y1="0" x2="1" y2="0"><stop offset="0.0000" stop-color="#0d18a7"/><stop offset="0.2616" stop-color="#0910b7"/><stop offset="0.3943" stop-color="#0305e5"/><stop offset="0.4053" stop-color="#0007ff"/><stop offset="0.4200" stop-color="#0052ff"/><stop offset="0.4274" stop-color="#008eff"/><stop offset="0.4348" stop-color="#00e5ff"/><stop offset="0.4385" stop-color="#08fff7"/><stop offset="0.4422" stop-color="#2affd5"/><stop offset="0.4532" stop-color="#ccff33"/><stop offset="0.4569" stop-color="#f3ff0c"/><stop offset="0.4643" stop-color="#ffd700"/><stop offset="0.4716" stop-color="#ff9e00"/><stop offset="0.4790" stop-color="#ff7600"/><stop offset="0.4864" stop-color="#ff4100"/><stop offset="0.4937" stop-color="#ff2a00"/><stop offset="0.5011" stop-color="#ff0f00"/><stop offset="0.5158" stop-color="#ff4100"/><stop offset="0.5269" stop-color="#ff8b00"/><stop offset="0.5343" stop-color="#ffb900"/><stop offset="0.5416" stop-color="#fff000"/><stop offset="0.5453" stop-color="#f3ff0c"/><stop offset="0.5527" stop-color="#9bff64"/><stop offset="0.5601" stop-color="#2affd5"/><stop offset="0.5637" stop-color="#08fff7"/><stop offset="0.5674" stop-color="#00e5ff"/><stop offset="0.5785" stop-color="#0070ff"/><stop offset="0.5932" stop-color="#001dff"/><stop offset="0.6043" stop-color="#0004fe"/><stop offset="0.7664" stop-color="#0408d8"/><stop offset="0.9948" stop-color="#0306e1"/><stop offset="0.9985" stop-color="#0306e2"/></linearGradient><linearGradient id="h37" gradientUnits="objectBoundingBox" x1="0" y1="0" x2="1" y2="0"><stop offset="0.0000" stop-color="#0d18a7"/><stop offset="0.2616" stop-color="#0910b7"/><stop offset="0.3943" stop-color="#0306e3"/><stop offset="0.4053" stop-color="#0004fd"/><stop offset="0.4127" stop-color="#0023ff"/><stop offset="0.4237" stop-color="#0060ff"/><stop offset="0.4274" stop-color="#007fff"/><stop offset="0.4348" stop-color="#00dfff"/><stop offset="0.4385" stop-color="#00fdff"/><stop offset="0.4422" stop-color="#1bffe4"/><stop offset="0.4532" stop-color="#c3ff3c"/><stop offset="0.4569" stop-color="#eeff11"/><stop offset="0.4606" stop-color="#fff800"/><stop offset="0.4679" stop-color="#ffc300"/><stop offset="0.4753" stop-color="#ff9300"/><stop offset="0.4864" stop-color="#ff4700"/><stop offset="0.4937" stop-color="#ff2f00"/><stop offset="0.5011" stop-color="#ff1300"/><stop offset="0.5158" stop-color="#ff4700"/><stop offset="0.5269" stop-color="#ff9300"/><stop offset="0.5343" stop-color="#ffc300"/><stop offset="0.5416" stop-color="#fff800"/><stop offset="0.5453" stop-color="#eeff11"/><stop offset="0.5527" stop-color="#8cff73"/><stop offset="0.5601" stop-color="#1bffe4"/><stop offset="0.5637" stop-color="#00fdff"/><stop offset="0.5711" stop-color="#00b5ff"/><stop offset="0.5748" stop-color="#0084ff"/><stop offset="0.5785" stop-color="#0065ff"/><stop offset="0.5932" stop-color="#0017ff"/><stop offset="0.6080" stop-color="#0102f9"/><stop offset="0.7922" stop-color="#0408d6"/><stop offset="0.9985" stop-color="#0306e2"/></linearGradient><linearGradient id="h38" gradientUnits="objectBoundingBox" x1="0" y1="0" x2="1" y2="0"><stop offset="0.0000" stop-color="#0d18a7"/><stop offset="0.2616" stop-color="#0910b7"/><stop offset="0.3943" stop-color="#0306e3"/><stop offset="0.4053" stop-color="#0102f7"/><stop offset="0.4090" stop-color="#0009ff"/><stop offset="0.4200" stop-color="#0049ff"/><stop offset="0.4237" stop-color="#0055ff"/><stop offset="0.4274" stop-color="#0070ff"/><stop offset="0.4348" stop-color="#00d9ff"/><stop offset="0.4385" stop-color="#00f4ff"/><stop offset="0.4422" stop-color="#0cfff3"/><stop offset="0.4458" stop-color="#3effc1"/><stop offset="0.4532" stop-color="#baff45"/><stop offset="0.4569" stop-color="#e9ff16"/><stop offset="0.4606" stop-color="#feff01"/><stop offset="0.4643" stop-color="#ffee00"/><stop offset="0.4716" stop-color="#ffab00"/><stop offset="0.4790" stop-color="#ff8800"/><stop offset="0.4864" stop-color="#ff4d00"/><stop offset="0.4937" stop-color="#ff3500"/><stop offset="0.5011" stop-color="#ff1700"/><stop offset="0.5122" stop-color="#ff4600"/><stop offset="0.5158" stop-color="#ff4d00"/><stop offset="0.5232" stop-color="#ff8800"/><stop offset="0.5306" stop-color="#ffab00"/><stop offset="0.5380" stop-color="#ffee00"/><stop offset="0.5416" stop-color="#feff01"/><stop offset="0.5453" stop-color="#e9ff16"/><stop offset="0.5490" stop-color="#baff45"/><stop offset="0.5564" stop-color="#3effc1"/><stop offset="0.5601" stop-color="#0cfff3"/><stop offset="0.5637" stop-color="#00f4ff"/><stop offset="0.5674" stop-color="#00d9ff"/><stop offset="0.5748" stop-color="#0075ff"/><stop offset="0.5785" stop-color="#005bff"/><stop offset="0.5895" stop-color="#0025ff"/><stop offset="0.5969" stop-color="#0008ff"/><stop offset="0.7664" stop-color="#0408d8"/><stop offset="0.9948" stop-color="#0306e1"/><stop offset="0.9985" stop-color="#0306e2"/></linearGradient><linearGradient id="h39" gradientUnits="objectBoundingBox" x1="0" y1="0" x2="1" y2="0"><stop offset="0.0000" stop-color="#0d18a7"/><stop offset="0.2616" stop-color="#0910b7"/><stop offset="0.3943" stop-color="#0306e3"/><stop offset="0.4090" stop-color="#0008ff"/><stop offset="0.4200" stop-color="#0048ff"/><stop offset="0.4237" stop-color="#0051ff"/><stop offset="0.4274" stop-color="#006dff"/><stop offset="0.4348" stop-color="#00d8ff"/><stop offset="0.4422" stop-color="#08fff7"/><stop offset="0.4458" stop-color="#39ffc6"/><stop offset="0.4532" stop-color="#b6ff49"/><stop offset="0.4569" stop-color="#e4ff1b"/><stop offset="0.4643" stop-color="#fff600"/><stop offset="0.4716" stop-color="#ffb300"/><stop offset="0.4790" stop-color="#ff9300"/><stop offset="0.4864" stop-color="#ff5700"/><stop offset="0.4937" stop-color="#ff3f00"/><stop offset="0.5011" stop-color="#ff2100"/><stop offset="0.5122" stop-color="#ff5000"/><stop offset="0.5158" stop-color="#ff5700"/><stop offset="0.5232" stop-color="#ff9300"/><stop offset="0.5306" stop-color="#ffb300"/><stop offset="0.5380" stop-color="#fff600"/><stop offset="0.5453" stop-color="#e4ff1b"/><stop offset="0.5490" stop-color="#b6ff49"/><stop offset="0.5564" stop-color="#39ffc6"/><stop offset="0.5601" stop-color="#08fff7"/><stop offset="0.5674" stop-color="#00d8ff"/><stop offset="0.5748" stop-color="#0073ff"/><stop offset="0.5785" stop-color="#0057ff"/><stop offset="0.5859" stop-color="#003bff"/><stop offset="0.5932" stop-color="#0010ff"/><stop offset="0.6080" stop-color="#0102f9"/><stop offset="0.7922" stop-color="#0408d6"/><stop offset="0.9985" stop-color="#0306e2"/></linearGradient><linearGradient id="h40" gradientUnits="objectBoundingBox" x1="0" y1="0" x2="1" y2="0"><stop offset="0.0000" stop-color="#0d18a7"/><stop offset="0.2616" stop-color="#0910b7"/><stop offset="0.3943" stop-color="#0306e3"/><stop offset="0.4053" stop-color="#0102f8"/><stop offset="0.4127" stop-color="#0020ff"/><stop offset="0.4237" stop-color="#0056ff"/><stop offset="0.4274" stop-color="#0077ff"/><stop offset="0.4348" stop-color="#00ddff"/><stop offset="0.4385" stop-color="#00f4ff"/><stop offset="0.4422" stop-color="#0efff1"/><stop offset="0.4495" stop-color="#7eff81"/><stop offset="0.4532" stop-color="#b8ff47"/><stop offset="0.4569" stop-color="#e1ff1e"/><stop offset="0.4643" stop-color="#fffb00"/><stop offset="0.4716" stop-color="#ffbb00"/><stop offset="0.4790" stop-color="#ff9e00"/><stop offset="0.4864" stop-color="#ff6600"/><stop offset="0.4937" stop-color="#ff4e00"/><stop offset="0.5011" stop-color="#ff3000"/><stop offset="0.5158" stop-color="#ff6600"/><stop offset="0.5232" stop-color="#ff9e00"/><stop offset="0.5306" stop-color="#ffbb00"/><stop offset="0.5380" stop-color="#fffb00"/><stop offset="0.5453" stop-color="#e1ff1e"/><stop offset="0.5490" stop-color="#b8ff47"/><stop offset="0.5564" stop-color="#40ffbf"/><stop offset="0.5601" stop-color="#0efff1"/><stop offset="0.5637" stop-color="#00f4ff"/><stop offset="0.5674" stop-color="#00ddff"/><stop offset="0.5711" stop-color="#00b3ff"/><stop offset="0.5748" stop-color="#007cff"/><stop offset="0.5785" stop-color="#005cff"/><stop offset="0.5895" stop-color="#0028ff"/><stop offset="0.5969" stop-color="#0009ff"/><stop offset="0.6522" stop-color="#0204ee"/><stop offset="0.8069" stop-color="#0408d6"/><stop offset="0.9985" stop-color="#0306e2"/></linearGradient><linearGradient id="h41" gradientUnits="objectBoundingBox" x1="0" y1="0" x2="1" y2="0"><stop offset="0.0000" stop-color="#0d18a7"/><stop offset="0.2616" stop-color="#0910b7"/><stop offset="0.3943" stop-color="#0306e4"/><stop offset="0.4053" stop-color="#0102fa"/><stop offset="0.4237" stop-color="#005aff"/><stop offset="0.4274" stop-color="#0080ff"/><stop offset="0.4348" stop-color="#00e1ff"/><stop offset="0.4385" stop-color="#00f7ff"/><stop offset="0.4422" stop-color="#14ffeb"/><stop offset="0.4532" stop-color="#baff45"/><stop offset="0.4569" stop-color="#ddff22"/><stop offset="0.4643" stop-color="#feff01"/><stop offset="0.4716" stop-color="#ffc400"/><stop offset="0.4790" stop-color="#ffaa00"/><stop offset="0.4864" stop-color="#ff7400"/><stop offset="0.5011" stop-color="#ff4000"/><stop offset="0.5158" stop-color="#ff7400"/><stop offset="0.5232" stop-color="#ffaa00"/><stop offset="0.5306" stop-color="#ffc400"/><stop offset="0.5380" stop-color="#feff01"/><stop offset="0.5453" stop-color="#ddff22"/><stop offset="0.5490" stop-color="#baff45"/><stop offset="0.5601" stop-color="#14ffeb"/><stop offset="0.5637" stop-color="#00f7ff"/><stop offset="0.5674" stop-color="#00e1ff"/><stop offset="0.5785" stop-color="#0060ff"/><stop offset="0.5895" stop-color="#002cff"/><stop offset="0.5969" stop-color="#000aff"/><stop offset="0.6338" stop-color="#0103f3"/><stop offset="0.7959" stop-color="#0408d6"/><stop offset="0.9985" stop-color="#0306e2"/></linearGradient><linearGradient id="h42" gradientUnits="objectBoundingBox" x1="0" y1="0" x2="1" y2="0"><stop offset="0.0000" stop-color="#0d18a7"/><stop offset="0.2616" stop-color="#0910b7"/><stop offset="0.3943" stop-color="#0305e5"/><stop offset="0.4053" stop-color="#0103fc"/><stop offset="0.4237" stop-color="#005eff"/><stop offset="0.4311" stop-color="#00bfff"/><stop offset="0.4348" stop-color="#00e5ff"/><stop offset="0.4385" stop-color="#00f9ff"/><stop offset="0.4422" stop-color="#1bffe4"/><stop offset="0.4532" stop-color="#bcff43"/><stop offset="0.4569" stop-color="#daff25"/><stop offset="0.4643" stop-color="#f9ff06"/><stop offset="0.4716" stop-color="#ffcd00"/><stop offset="0.4790" stop-color="#ffb500"/><stop offset="0.4864" stop-color="#ff8300"/><stop offset="0.5011" stop-color="#ff4f00"/><stop offset="0.5158" stop-color="#ff8300"/><stop offset="0.5232" stop-color="#ffb500"/><stop offset="0.5306" stop-color="#ffcd00"/><stop offset="0.5380" stop-color="#f9ff06"/><stop offset="0.5453" stop-color="#daff25"/><stop offset="0.5490" stop-color="#bcff43"/><stop offset="0.5601" stop-color="#1bffe4"/><stop offset="0.5637" stop-color="#00f9ff"/><stop offset="0.5674" stop-color="#00e5ff"/><stop offset="0.5785" stop-color="#0064ff"/><stop offset="0.5969" stop-color="#000bff"/><stop offset="0.6264" stop-color="#0102f5"/><stop offset="0.7922" stop-color="#0408d6"/><stop offset="0.9985" stop-color="#0306e2"/></linearGradient><linearGradient id="h43" gradientUnits="objectBoundingBox" x1="0" y1="0" x2="1" y2="0"><stop offset="0.0000" stop-color="#0d18a7"/><stop offset="0.2616" stop-color="#0910b7"/><stop offset="0.3906" stop-color="#0306e2"/><stop offset="0.4053" stop-color="#0004fd"/><stop offset="0.4164" stop-color="#0042ff"/><stop offset="0.4237" stop-color="#0062ff"/><stop offset="0.4311" stop-color="#00c8ff"/><stop offset="0.4348" stop-color="#00e9ff"/><stop offset="0.4385" stop-color="#00fcff"/><stop offset="0.4422" stop-color="#21ffde"/><stop offset="0.4532" stop-color="#beff41"/><stop offset="0.4606" stop-color="#f3ff0c"/><stop offset="0.4643" stop-color="#ffe900"/><stop offset="0.4679" stop-color="#ffee00"/><stop offset="0.4716" stop-color="#ffd600"/><stop offset="0.4790" stop-color="#ffc100"/><stop offset="0.4864" stop-color="#ff9200"/><stop offset="0.5011" stop-color="#ff5e00"/><stop offset="0.5158" stop-color="#ff9200"/><stop offset="0.5232" stop-color="#ffc100"/><stop offset="0.5306" stop-color="#ffd600"/><stop offset="0.5343" stop-color="#ffee00"/><stop offset="0.5380" stop-color="#ffe900"/><stop offset="0.5416" stop-color="#f3ff0c"/><stop offset="0.5490" stop-color="#beff41"/><stop offset="0.5601" stop-color="#21ffde"/><stop offset="0.5637" stop-color="#00fcff"/><stop offset="0.5674" stop-color="#00e9ff"/><stop offset="0.5711" stop-color="#00c8ff"/><stop offset="0.5785" stop-color="#0068ff"/><stop offset="0.5969" stop-color="#000dff"/><stop offset="0.6264" stop-color="#0102f5"/><stop offset="0.7922" stop-color="#0408d6"/><stop offset="0.9985" stop-color="#0306e2"/></linearGradient><linearGradient id="h44" gradientUnits="objectBoundingBox" x1="0" y1="0" x2="1" y2="0"><stop offset="0.0000" stop-color="#0d18a7"/><stop offset="0.2616" stop-color="#0910b7"/><stop offset="0.3906" stop-color="#0306e2"/><stop offset="0.4053" stop-color="#0005ff"/><stop offset="0.4164" stop-color="#0045ff"/><stop offset="0.4200" stop-color="#004fff"/><stop offset="0.4237" stop-color="#0067ff"/><stop offset="0.4311" stop-color="#00d2ff"/><stop offset="0.4385" stop-color="#00ffff"/><stop offset="0.4422" stop-color="#28ffd7"/><stop offset="0.4495" stop-color="#94ff6b"/><stop offset="0.4569" stop-color="#eaff15"/><stop offset="0.4606" stop-color="#ffe600"/><stop offset="0.4643" stop-color="#ffe300"/><stop offset="0.4679" stop-color="#fff500"/><stop offset="0.4716" stop-color="#ffdf00"/><stop offset="0.4790" stop-color="#ffcc00"/><stop offset="0.4864" stop-color="#ffa000"/><stop offset="0.4937" stop-color="#ff8c00"/><stop offset="0.5011" stop-color="#ff6e00"/><stop offset="0.5158" stop-color="#ffa000"/><stop offset="0.5232" stop-color="#ffcc00"/><stop offset="0.5306" stop-color="#ffdf00"/><stop offset="0.5343" stop-color="#fff500"/><stop offset="0.5380" stop-color="#ffe300"/><stop offset="0.5416" stop-color="#ffe600"/><stop offset="0.5453" stop-color="#eaff15"/><stop offset="0.5527" stop-color="#94ff6b"/><stop offset="0.5601" stop-color="#28ffd7"/><stop offset="0.5637" stop-color="#00ffff"/><stop offset="0.5711" stop-color="#00d2ff"/><stop offset="0.5785" stop-color="#006cff"/><stop offset="0.5822" stop-color="#0055ff"/><stop offset="0.5895" stop-color="#0038ff"/><stop offset="0.5969" stop-color="#000eff"/><stop offset="0.6227" stop-color="#0102f6"/><stop offset="0.7922" stop-color="#0408d6"/><stop offset="0.9985" stop-color="#0306e2"/></linearGradient><linearGradient id="h45" gradientUnits="objectBoundingBox" x1="0" y1="0" x2="1" y2="0"><stop offset="0.0000" stop-color="#0d18a7"/><stop offset="0.2616" stop-color="#0910b7"/><stop offset="0.3869" stop-color="#0306e2"/><stop offset="0.3943" stop-color="#0005fe"/><stop offset="0.4053" stop-color="#0017ff"/><stop offset="0.4164" stop-color="#005aff"/><stop offset="0.4200" stop-color="#0063ff"/><stop offset="0.4237" stop-color="#007bff"/><stop offset="0.4311" stop-color="#00e7ff"/><stop offset="0.4348" stop-color="#02fffd"/><stop offset="0.4385" stop-color="#13ffec"/><stop offset="0.4458" stop-color="#6cff93"/><stop offset="0.4495" stop-color="#9fff60"/><stop offset="0.4532" stop-color="#dfff20"/><stop offset="0.4569" stop-color="#ffe600"/><stop offset="0.4606" stop-color="#ffd700"/><stop offset="0.4643" stop-color="#fff500"/><stop offset="0.4679" stop-color="#fffc00"/><stop offset="0.4753" stop-color="#ffe300"/><stop offset="0.4827" stop-color="#ffc800"/><stop offset="0.4901" stop-color="#ffac00"/><stop offset="0.5011" stop-color="#ff8700"/><stop offset="0.5195" stop-color="#ffc800"/><stop offset="0.5269" stop-color="#ffe300"/><stop offset="0.5343" stop-color="#fffc00"/><stop offset="0.5380" stop-color="#fff500"/><stop offset="0.5416" stop-color="#ffd700"/><stop offset="0.5453" stop-color="#ffe600"/><stop offset="0.5490" stop-color="#dfff20"/><stop offset="0.5527" stop-color="#9fff60"/><stop offset="0.5601" stop-color="#3affc5"/><stop offset="0.5637" stop-color="#13ffec"/><stop offset="0.5674" stop-color="#02fffd"/><stop offset="0.5711" stop-color="#00e7ff"/><stop offset="0.5785" stop-color="#0081ff"/><stop offset="0.5822" stop-color="#0069ff"/><stop offset="0.5895" stop-color="#004cff"/><stop offset="0.5969" stop-color="#001fff"/><stop offset="0.6190" stop-color="#0102f7"/><stop offset="0.7885" stop-color="#0408d6"/><stop offset="0.9985" stop-color="#0306e2"/></linearGradient><linearGradient id="h46" gradientUnits="objectBoundingBox" x1="0" y1="0" x2="1" y2="0"><stop offset="0.0000" stop-color="#0d18a7"/><stop offset="0.2616" stop-color="#0910b7"/><stop offset="0.3795" stop-color="#0306df"/><stop offset="0.3869" stop-color="#0004fe"/><stop offset="0.4053" stop-color="#0038ff"/><stop offset="0.4164" stop-color="#0080ff"/><stop offset="0.4200" stop-color="#008aff"/><stop offset="0.4237" stop-color="#00a1ff"/><stop offset="0.4311" stop-color="#09fff6"/><stop offset="0.4348" stop-color="#26ffd9"/><stop offset="0.4385" stop-color="#36ffc9"/><stop offset="0.4458" stop-color="#84ff7b"/><stop offset="0.4495" stop-color="#d1ff2e"/><stop offset="0.4532" stop-color="#ffe800"/><stop offset="0.4569" stop-color="#ffcd00"/><stop offset="0.4606" stop-color="#ffe100"/><stop offset="0.4643" stop-color="#ebff14"/><stop offset="0.4716" stop-color="#fff700"/><stop offset="0.4827" stop-color="#ffdf00"/><stop offset="0.5011" stop-color="#ffa900"/><stop offset="0.5195" stop-color="#ffdf00"/><stop offset="0.5343" stop-color="#f9ff06"/><stop offset="0.5380" stop-color="#ebff14"/><stop offset="0.5416" stop-color="#ffe100"/><stop offset="0.5453" stop-color="#ffcd00"/><stop offset="0.5490" stop-color="#ffe800"/><stop offset="0.5527" stop-color="#d1ff2e"/><stop offset="0.5564" stop-color="#84ff7b"/><stop offset="0.5637" stop-color="#36ffc9"/><stop offset="0.5674" stop-color="#26ffd9"/><stop offset="0.5711" stop-color="#09fff6"/><stop offset="0.5785" stop-color="#00a6ff"/><stop offset="0.5822" stop-color="#008fff"/><stop offset="0.5859" stop-color="#0086ff"/><stop offset="0.5969" stop-color="#0040ff"/><stop offset="0.6080" stop-color="#0025ff"/><stop offset="0.6190" stop-color="#0008ff"/><stop offset="0.6338" stop-color="#0103f3"/><stop offset="0.7959" stop-color="#0408d6"/><stop offset="0.9985" stop-color="#0306e2"/></linearGradient><linearGradient id="h47" gradientUnits="objectBoundingBox" x1="0" y1="0" x2="1" y2="0"><stop offset="0.0000" stop-color="#0d18a7"/><stop offset="0.2616" stop-color="#0910b7"/><stop offset="0.3758" stop-color="#0407de"/><stop offset="0.3795" stop-color="#0102f8"/><stop offset="0.3906" stop-color="#001eff"/><stop offset="0.3979" stop-color="#0047ff"/><stop offset="0.4053" stop-color="#005aff"/><stop offset="0.4164" stop-color="#00a6ff"/><stop offset="0.4237" stop-color="#00c4ff"/><stop offset="0.4274" stop-color="#00f6ff"/><stop offset="0.4348" stop-color="#49ffb6"/><stop offset="0.4422" stop-color="#75ff8a"/><stop offset="0.4458" stop-color="#c3ff3c"/><stop offset="0.4495" stop-color="#ffed00"/><stop offset="0.4532" stop-color="#ffc600"/><stop offset="0.4569" stop-color="#ffce00"/><stop offset="0.4606" stop-color="#fbff04"/><stop offset="0.4643" stop-color="#eaff15"/><stop offset="0.4790" stop-color="#ffff00"/><stop offset="0.5011" stop-color="#ffcc00"/><stop offset="0.5232" stop-color="#ffff00"/><stop offset="0.5380" stop-color="#eaff15"/><stop offset="0.5416" stop-color="#fbff04"/><stop offset="0.5453" stop-color="#ffce00"/><stop offset="0.5490" stop-color="#ffc600"/><stop offset="0.5527" stop-color="#ffed00"/><stop offset="0.5564" stop-color="#c3ff3c"/><stop offset="0.5601" stop-color="#75ff8a"/><stop offset="0.5711" stop-color="#2affd5"/><stop offset="0.5748" stop-color="#00f6ff"/><stop offset="0.5785" stop-color="#00c4ff"/><stop offset="0.5859" stop-color="#00acff"/><stop offset="0.5969" stop-color="#0061ff"/><stop offset="0.6043" stop-color="#004fff"/><stop offset="0.6153" stop-color="#001dff"/><stop offset="0.6264" stop-color="#0102f6"/><stop offset="0.7885" stop-color="#0408d6"/><stop offset="0.9985" stop-color="#0306e2"/></linearGradient><linearGradient id="h48" gradientUnits="objectBoundingBox" x1="0" y1="0" x2="1" y2="0"><stop offset="0.0000" stop-color="#0d18a7"/><stop offset="0.2616" stop-color="#0910b7"/><stop offset="0.3721" stop-color="#0407da"/><stop offset="0.3758" stop-color="#0203f0"/><stop offset="0.3795" stop-color="#000cff"/><stop offset="0.3906" stop-color="#0030ff"/><stop offset="0.3979" stop-color="#0064ff"/><stop offset="0.4053" stop-color="#007bff"/><stop offset="0.4164" stop-color="#00cbff"/><stop offset="0.4237" stop-color="#00eaff"/><stop offset="0.4274" stop-color="#19ffe6"/><stop offset="0.4311" stop-color="#4cffb3"/><stop offset="0.4348" stop-color="#6cff93"/><stop offset="0.4385" stop-color="#7cff83"/><stop offset="0.4422" stop-color="#b2ff4d"/><stop offset="0.4458" stop-color="#fff500"/><stop offset="0.4495" stop-color="#ffc300"/><stop offset="0.4532" stop-color="#ffbe00"/><stop offset="0.4569" stop-color="#ffe900"/><stop offset="0.4606" stop-color="#ebff14"/><stop offset="0.4827" stop-color="#f1ff0e"/><stop offset="0.4974" stop-color="#fff300"/><stop offset="0.5048" stop-color="#fff300"/><stop offset="0.5195" stop-color="#f1ff0e"/><stop offset="0.5416" stop-color="#ebff14"/><stop offset="0.5453" stop-color="#ffe900"/><stop offset="0.5490" stop-color="#ffbe00"/><stop offset="0.5527" stop-color="#ffc300"/><stop offset="0.5564" stop-color="#fff500"/><stop offset="0.5601" stop-color="#b2ff4d"/><stop offset="0.5637" stop-color="#7cff83"/><stop offset="0.5674" stop-color="#6cff93"/><stop offset="0.5711" stop-color="#4cffb3"/><stop offset="0.5748" stop-color="#19ffe6"/><stop offset="0.5785" stop-color="#00eaff"/><stop offset="0.5895" stop-color="#00b8ff"/><stop offset="0.5969" stop-color="#0082ff"/><stop offset="0.6043" stop-color="#006cff"/><stop offset="0.6116" stop-color="#0039ff"/><stop offset="0.6264" stop-color="#0008ff"/><stop offset="0.6338" stop-color="#0103f3"/><stop offset="0.7959" stop-color="#0408d6"/><stop offset="0.9985" stop-color="#0306e2"/></linearGradient><linearGradient id="h49" gradientUnits="objectBoundingBox" x1="0" y1="0" x2="1" y2="0"><stop offset="0.0000" stop-color="#0d18a7"/><stop offset="0.2616" stop-color="#0910b7"/><stop offset="0.3685" stop-color="#0408d8"/><stop offset="0.3721" stop-color="#0305e4"/><stop offset="0.3758" stop-color="#0006ff"/><stop offset="0.3906" stop-color="#0041ff"/><stop offset="0.3979" stop-color="#0082ff"/><stop offset="0.4053" stop-color="#009cff"/><stop offset="0.4164" stop-color="#00f2ff"/><stop offset="0.4200" stop-color="#00fdff"/><stop offset="0.4237" stop-color="#11ffee"/><stop offset="0.4311" stop-color="#6dff92"/><stop offset="0.4348" stop-color="#8fff70"/><stop offset="0.4385" stop-color="#a0ff5f"/><stop offset="0.4422" stop-color="#feff01"/><stop offset="0.4458" stop-color="#ffc200"/><stop offset="0.4495" stop-color="#ffb200"/><stop offset="0.4532" stop-color="#ffd100"/><stop offset="0.4569" stop-color="#f9ff06"/><stop offset="0.4679" stop-color="#e0ff1f"/><stop offset="0.4901" stop-color="#e1ff1e"/><stop offset="0.5048" stop-color="#eaff15"/><stop offset="0.5232" stop-color="#dbff24"/><stop offset="0.5380" stop-color="#e7ff18"/><stop offset="0.5453" stop-color="#f9ff06"/><stop offset="0.5490" stop-color="#ffd100"/><stop offset="0.5527" stop-color="#ffb200"/><stop offset="0.5564" stop-color="#ffc200"/><stop offset="0.5601" stop-color="#feff01"/><stop offset="0.5637" stop-color="#a0ff5f"/><stop offset="0.5674" stop-color="#8fff70"/><stop offset="0.5711" stop-color="#6dff92"/><stop offset="0.5785" stop-color="#11ffee"/><stop offset="0.5822" stop-color="#00fdff"/><stop offset="0.5859" stop-color="#00f2ff"/><stop offset="0.5932" stop-color="#00b6ff"/><stop offset="0.6043" stop-color="#0089ff"/><stop offset="0.6116" stop-color="#004aff"/><stop offset="0.6301" stop-color="#0103fc"/><stop offset="0.6448" stop-color="#0203f0"/><stop offset="0.8032" stop-color="#0408d6"/><stop offset="0.9985" stop-color="#0306e2"/></linearGradient><linearGradient id="h50" gradientUnits="objectBoundingBox" x1="0" y1="0" x2="1" y2="0"><stop offset="0.0000" stop-color="#0d18a7"/><stop offset="0.2616" stop-color="#0910b7"/><stop offset="0.3574" stop-color="#0509d4"/><stop offset="0.3685" stop-color="#0306e3"/><stop offset="0.3721" stop-color="#0203f3"/><stop offset="0.3795" stop-color="#0025ff"/><stop offset="0.3906" stop-color="#0052ff"/><stop offset="0.3979" stop-color="#00a0ff"/><stop offset="0.4053" stop-color="#00bcff"/><stop offset="0.4127" stop-color="#00fbff"/><stop offset="0.4164" stop-color="#19ffe6"/><stop offset="0.4237" stop-color="#37ffc8"/><stop offset="0.4348" stop-color="#b2ff4d"/><stop offset="0.4385" stop-color="#f1ff0e"/><stop offset="0.4422" stop-color="#ffc500"/><stop offset="0.4458" stop-color="#ffa800"/><stop offset="0.4495" stop-color="#ffbb00"/><stop offset="0.4532" stop-color="#fffb00"/><stop offset="0.4606" stop-color="#f5ff0a"/><stop offset="0.4679" stop-color="#d8ff27"/><stop offset="0.4864" stop-color="#c3ff3c"/><stop offset="0.5085" stop-color="#c6ff39"/><stop offset="0.5232" stop-color="#caff35"/><stop offset="0.5343" stop-color="#d8ff27"/><stop offset="0.5453" stop-color="#fffc00"/><stop offset="0.5490" stop-color="#fffb00"/><stop offset="0.5527" stop-color="#ffbb00"/><stop offset="0.5564" stop-color="#ffa800"/><stop offset="0.5601" stop-color="#ffc500"/><stop offset="0.5637" stop-color="#f1ff0e"/><stop offset="0.5674" stop-color="#b2ff4d"/><stop offset="0.5785" stop-color="#37ffc8"/><stop offset="0.5859" stop-color="#19ffe6"/><stop offset="0.5895" stop-color="#00fbff"/><stop offset="0.5969" stop-color="#00bcff"/><stop offset="0.6043" stop-color="#00a6ff"/><stop offset="0.6116" stop-color="#005aff"/><stop offset="0.6227" stop-color="#002fff"/><stop offset="0.6301" stop-color="#000aff"/><stop offset="0.6522" stop-color="#0204ee"/><stop offset="0.8069" stop-color="#0408d6"/><stop offset="0.9985" stop-color="#0306e2"/></linearGradient><linearGradient id="h51" gradientUnits="objectBoundingBox" x1="0" y1="0" x2="1" y2="0"><stop offset="0.0000" stop-color="#0d18a7"/><stop offset="0.2616" stop-color="#0910b7"/><stop offset="0.3537" stop-color="#0509d3"/><stop offset="0.3721" stop-color="#0005fe"/><stop offset="0.3832" stop-color="#0045ff"/><stop offset="0.3906" stop-color="#0063ff"/><stop offset="0.3979" stop-color="#00bcff"/><stop offset="0.4053" stop-color="#00deff"/><stop offset="0.4090" stop-color="#00fcff"/><stop offset="0.4164" stop-color="#40ffbf"/><stop offset="0.4237" stop-color="#5cffa3"/><stop offset="0.4311" stop-color="#b0ff4f"/><stop offset="0.4348" stop-color="#e2ff1d"/><stop offset="0.4385" stop-color="#ffca00"/><stop offset="0.4422" stop-color="#ffa100"/><stop offset="0.4458" stop-color="#ffa800"/><stop offset="0.4495" stop-color="#ffde00"/><stop offset="0.4532" stop-color="#fff100"/><stop offset="0.4606" stop-color="#faff05"/><stop offset="0.4679" stop-color="#d0ff2f"/><stop offset="0.4864" stop-color="#a8ff57"/><stop offset="0.5195" stop-color="#adff52"/><stop offset="0.5343" stop-color="#d0ff2f"/><stop offset="0.5416" stop-color="#faff05"/><stop offset="0.5490" stop-color="#fff100"/><stop offset="0.5527" stop-color="#ffde00"/><stop offset="0.5564" stop-color="#ffa800"/><stop offset="0.5601" stop-color="#ffa100"/><stop offset="0.5637" stop-color="#ffca00"/><stop offset="0.5674" stop-color="#e2ff1d"/><stop offset="0.5748" stop-color="#82ff7d"/><stop offset="0.5785" stop-color="#5cffa3"/><stop offset="0.5859" stop-color="#40ffbf"/><stop offset="0.5932" stop-color="#00fcff"/><stop offset="0.5969" stop-color="#00deff"/><stop offset="0.6043" stop-color="#00bcff"/><stop offset="0.6116" stop-color="#006bff"/><stop offset="0.6227" stop-color="#003bff"/><stop offset="0.6301" stop-color="#0011ff"/><stop offset="0.6448" stop-color="#0102f9"/><stop offset="0.6559" stop-color="#0204ed"/><stop offset="0.8106" stop-color="#0508d6"/><stop offset="0.9985" stop-color="#0306e2"/></linearGradient><linearGradient id="h52" gradientUnits="objectBoundingBox" x1="0" y1="0" x2="1" y2="0"><stop offset="0.0000" stop-color="#0d18a7"/><stop offset="0.2616" stop-color="#0910b7"/><stop offset="0.3464" stop-color="#050ad0"/><stop offset="0.3611" stop-color="#0005ff"/><stop offset="0.3721" stop-color="#001fff"/><stop offset="0.3832" stop-color="#005fff"/><stop offset="0.3906" stop-color="#0082ff"/><stop offset="0.3979" stop-color="#00d2ff"/><stop offset="0.4053" stop-color="#00fdff"/><stop offset="0.4164" stop-color="#59ffa6"/><stop offset="0.4237" stop-color="#78ff87"/><stop offset="0.4274" stop-color="#9aff65"/><stop offset="0.4311" stop-color="#caff35"/><stop offset="0.4348" stop-color="#ffdb00"/><stop offset="0.4385" stop-color="#ffa600"/><stop offset="0.4422" stop-color="#ffa100"/><stop offset="0.4495" stop-color="#f7ff08"/><stop offset="0.4569" stop-color="#f9ff06"/><stop offset="0.4679" stop-color="#beff41"/><stop offset="0.4864" stop-color="#9cff63"/><stop offset="0.5195" stop-color="#a0ff5f"/><stop offset="0.5343" stop-color="#beff41"/><stop offset="0.5453" stop-color="#f9ff06"/><stop offset="0.5527" stop-color="#f7ff08"/><stop offset="0.5601" stop-color="#ffa100"/><stop offset="0.5637" stop-color="#ffa600"/><stop offset="0.5674" stop-color="#ffdb00"/><stop offset="0.5711" stop-color="#caff35"/><stop offset="0.5748" stop-color="#9aff65"/><stop offset="0.5785" stop-color="#78ff87"/><stop offset="0.5859" stop-color="#59ffa6"/><stop offset="0.5969" stop-color="#00fdff"/><stop offset="0.6043" stop-color="#00d2ff"/><stop offset="0.6116" stop-color="#008aff"/><stop offset="0.6338" stop-color="#001eff"/><stop offset="0.6485" stop-color="#0007ff"/><stop offset="0.6595" stop-color="#0204ec"/><stop offset="0.8143" stop-color="#0508d6"/><stop offset="0.9985" stop-color="#0306e2"/></linearGradient><linearGradient id="h53" gradientUnits="objectBoundingBox" x1="0" y1="0" x2="1" y2="0"><stop offset="0.0000" stop-color="#0d18a7"/><stop offset="0.2616" stop-color="#0910b7"/><stop offset="0.3427" stop-color="#050ace"/><stop offset="0.3500" stop-color="#0204ed"/><stop offset="0.3537" stop-color="#0005ff"/><stop offset="0.3685" stop-color="#0028ff"/><stop offset="0.3906" stop-color="#00a2ff"/><stop offset="0.3979" stop-color="#00e8ff"/><stop offset="0.4016" stop-color="#04fffb"/><stop offset="0.4164" stop-color="#73ff8c"/><stop offset="0.4237" stop-color="#93ff6c"/><stop offset="0.4274" stop-color="#b2ff4d"/><stop offset="0.4311" stop-color="#ffed00"/><stop offset="0.4348" stop-color="#ffae00"/><stop offset="0.4385" stop-color="#ff9c00"/><stop offset="0.4422" stop-color="#ffbb00"/><stop offset="0.4458" stop-color="#faff05"/><stop offset="0.4495" stop-color="#e9ff16"/><stop offset="0.4569" stop-color="#e6ff19"/><stop offset="0.4679" stop-color="#adff52"/><stop offset="0.4864" stop-color="#91ff6e"/><stop offset="0.5195" stop-color="#94ff6b"/><stop offset="0.5343" stop-color="#adff52"/><stop offset="0.5453" stop-color="#e6ff19"/><stop offset="0.5527" stop-color="#e9ff16"/><stop offset="0.5564" stop-color="#faff05"/><stop offset="0.5601" stop-color="#ffbb00"/><stop offset="0.5637" stop-color="#ff9c00"/><stop offset="0.5674" stop-color="#ffae00"/><stop offset="0.5711" stop-color="#ffed00"/><stop offset="0.5748" stop-color="#b2ff4d"/><stop offset="0.5785" stop-color="#93ff6c"/><stop offset="0.5895" stop-color="#5cffa3"/><stop offset="0.6006" stop-color="#04fffb"/><stop offset="0.6043" stop-color="#00e8ff"/><stop offset="0.6116" stop-color="#00a9ff"/><stop offset="0.6338" stop-color="#0033ff"/><stop offset="0.6522" stop-color="#0009ff"/><stop offset="0.6632" stop-color="#0204eb"/><stop offset="0.8254" stop-color="#0508d5"/><stop offset="0.9985" stop-color="#0306e2"/></linearGradient><linearGradient id="h54" gradientUnits="objectBoundingBox" x1="0" y1="0" x2="1" y2="0"><stop offset="0.0000" stop-color="#0d18a7"/><stop offset="0.2616" stop-color="#0910b7"/><stop offset="0.3390" stop-color="#060acd"/><stop offset="0.3464" stop-color="#0305e7"/><stop offset="0.3500" stop-color="#0005ff"/><stop offset="0.3648" stop-color="#002cff"/><stop offset="0.3869" stop-color="#00a8ff"/><stop offset="0.3979" stop-color="#00fdff"/><stop offset="0.4127" stop-color="#79ff86"/><stop offset="0.4237" stop-color="#aeff51"/><stop offset="0.4274" stop-color="#fcff03"/><stop offset="0.4311" stop-color="#ffb900"/><stop offset="0.4348" stop-color="#ff9b00"/><stop offset="0.4385" stop-color="#ffae00"/><stop offset="0.4422" stop-color="#ffed00"/><stop offset="0.4458" stop-color="#daff25"/><stop offset="0.4532" stop-color="#ddff22"/><stop offset="0.4606" stop-color="#c2ff3d"/><stop offset="0.4679" stop-color="#9bff64"/><stop offset="0.4901" stop-color="#85ff7a"/><stop offset="0.5232" stop-color="#8cff73"/><stop offset="0.5343" stop-color="#9bff64"/><stop offset="0.5453" stop-color="#d4ff2b"/><stop offset="0.5527" stop-color="#dcff23"/><stop offset="0.5564" stop-color="#daff25"/><stop offset="0.5601" stop-color="#ffed00"/><stop offset="0.5637" stop-color="#ffae00"/><stop offset="0.5674" stop-color="#ff9b00"/><stop offset="0.5711" stop-color="#ffb900"/><stop offset="0.5748" stop-color="#fcff03"/><stop offset="0.5785" stop-color="#aeff51"/><stop offset="0.5895" stop-color="#79ff86"/><stop offset="0.6043" stop-color="#00fdff"/><stop offset="0.6116" stop-color="#00c1ff"/><stop offset="0.6374" stop-color="#0037ff"/><stop offset="0.6559" stop-color="#0006ff"/><stop offset="0.6632" stop-color="#0204eb"/><stop offset="0.8254" stop-color="#0508d5"/><stop offset="0.9985" stop-color="#0306e2"/></linearGradient><linearGradient id="h55" gradientUnits="objectBoundingBox" x1="0" y1="0" x2="1" y2="0"><stop offset="0.0000" stop-color="#0d18a7"/><stop offset="0.2616" stop-color="#0910b7"/><stop offset="0.3316" stop-color="#050acd"/><stop offset="0.3427" stop-color="#0306df"/><stop offset="0.3464" stop-color="#0102f8"/><stop offset="0.3574" stop-color="#002bff"/><stop offset="0.3648" stop-color="#003cff"/><stop offset="0.3758" stop-color="#0080ff"/><stop offset="0.3832" stop-color="#00abff"/><stop offset="0.3943" stop-color="#00f8ff"/><stop offset="0.3979" stop-color="#14ffeb"/><stop offset="0.4090" stop-color="#7fff80"/><stop offset="0.4200" stop-color="#b6ff49"/><stop offset="0.4237" stop-color="#e6ff19"/><stop offset="0.4274" stop-color="#ffc700"/><stop offset="0.4311" stop-color="#ff9d00"/><stop offset="0.4348" stop-color="#ffa300"/><stop offset="0.4385" stop-color="#ffd800"/><stop offset="0.4422" stop-color="#ddff22"/><stop offset="0.4495" stop-color="#ceff31"/><stop offset="0.4569" stop-color="#c2ff3d"/><stop offset="0.4679" stop-color="#8aff75"/><stop offset="0.4901" stop-color="#79ff86"/><stop offset="0.5269" stop-color="#81ff7e"/><stop offset="0.5343" stop-color="#8aff75"/><stop offset="0.5490" stop-color="#cdff32"/><stop offset="0.5564" stop-color="#d0ff2f"/><stop offset="0.5601" stop-color="#ddff22"/><stop offset="0.5637" stop-color="#ffd800"/><stop offset="0.5674" stop-color="#ffa300"/><stop offset="0.5711" stop-color="#ff9d00"/><stop offset="0.5748" stop-color="#ffc700"/><stop offset="0.5785" stop-color="#e6ff19"/><stop offset="0.5822" stop-color="#b6ff49"/><stop offset="0.5932" stop-color="#7fff80"/><stop offset="0.6043" stop-color="#14ffeb"/><stop offset="0.6080" stop-color="#00f8ff"/><stop offset="0.6227" stop-color="#0098ff"/><stop offset="0.6301" stop-color="#0078ff"/><stop offset="0.6374" stop-color="#0047ff"/><stop offset="0.6522" stop-color="#001dff"/><stop offset="0.6595" stop-color="#0004fc"/><stop offset="0.6817" stop-color="#0305e6"/><stop offset="0.8438" stop-color="#0408d6"/><stop offset="0.9985" stop-color="#0306e2"/></linearGradient><linearGradient id="h56" gradientUnits="objectBoundingBox" x1="0" y1="0" x2="1" y2="0"><stop offset="0.0000" stop-color="#0d18a7"/><stop offset="0.2616" stop-color="#0910b7"/><stop offset="0.3242" stop-color="#060bc9"/><stop offset="0.3427" stop-color="#0204ec"/><stop offset="0.3464" stop-color="#0008ff"/><stop offset="0.3574" stop-color="#0039ff"/><stop offset="0.3648" stop-color="#004dff"/><stop offset="0.3721" stop-color="#0089ff"/><stop offset="0.3795" stop-color="#00a8ff"/><stop offset="0.3906" stop-color="#01fffe"/><stop offset="0.3979" stop-color="#29ffd6"/><stop offset="0.4090" stop-color="#a0ff5f"/><stop offset="0.4200" stop-color="#d0ff2f"/><stop offset="0.4237" stop-color="#ffd700"/><stop offset="0.4274" stop-color="#ffa200"/><stop offset="0.4311" stop-color="#ff9c00"/><stop offset="0.4348" stop-color="#ffc500"/><stop offset="0.4385" stop-color="#f2ff0d"/><stop offset="0.4458" stop-color="#c7ff38"/><stop offset="0.4569" stop-color="#b0ff4f"/><stop offset="0.4679" stop-color="#78ff87"/><stop offset="0.5085" stop-color="#6dff92"/><stop offset="0.5343" stop-color="#78ff87"/><stop offset="0.5490" stop-color="#bdff42"/><stop offset="0.5564" stop-color="#c7ff38"/><stop offset="0.5637" stop-color="#f2ff0d"/><stop offset="0.5674" stop-color="#ffc500"/><stop offset="0.5711" stop-color="#ff9c00"/><stop offset="0.5748" stop-color="#ffa200"/><stop offset="0.5785" stop-color="#ffd700"/><stop offset="0.5822" stop-color="#d0ff2f"/><stop offset="0.5932" stop-color="#a0ff5f"/><stop offset="0.6043" stop-color="#29ffd6"/><stop offset="0.6116" stop-color="#01fffe"/><stop offset="0.6190" stop-color="#00c4ff"/><stop offset="0.6301" stop-color="#0091ff"/><stop offset="0.6374" stop-color="#0057ff"/><stop offset="0.6522" stop-color="#0027ff"/><stop offset="0.6595" stop-color="#0009ff"/><stop offset="0.6743" stop-color="#0203f0"/><stop offset="0.6853" stop-color="#0305e5"/><stop offset="0.8511" stop-color="#0408d6"/><stop offset="0.9985" stop-color="#0306e2"/></linearGradient><linearGradient id="h57" gradientUnits="objectBoundingBox" x1="0" y1="0" x2="1" y2="0"><stop offset="0.0000" stop-color="#0d18a7"/><stop offset="0.2616" stop-color="#0910b7"/><stop offset="0.3206" stop-color="#060cc7"/><stop offset="0.3353" stop-color="#0204ea"/><stop offset="0.3427" stop-color="#0102fa"/><stop offset="0.3574" stop-color="#0047ff"/><stop offset="0.3648" stop-color="#005dff"/><stop offset="0.3721" stop-color="#00a3ff"/><stop offset="0.3795" stop-color="#00bfff"/><stop offset="0.3869" stop-color="#03fffc"/><stop offset="0.3906" stop-color="#21ffde"/><stop offset="0.3979" stop-color="#3fffc0"/><stop offset="0.4090" stop-color="#c0ff3f"/><stop offset="0.4164" stop-color="#d9ff26"/><stop offset="0.4200" stop-color="#ffea00"/><stop offset="0.4237" stop-color="#ffaa00"/><stop offset="0.4274" stop-color="#ff9800"/><stop offset="0.4311" stop-color="#ffb500"/><stop offset="0.4348" stop-color="#fff000"/><stop offset="0.4385" stop-color="#f5ff0a"/><stop offset="0.4458" stop-color="#bdff42"/><stop offset="0.4569" stop-color="#9dff62"/><stop offset="0.4679" stop-color="#67ff98"/><stop offset="0.5343" stop-color="#67ff98"/><stop offset="0.5490" stop-color="#acff53"/><stop offset="0.5564" stop-color="#bdff42"/><stop offset="0.5637" stop-color="#f5ff0a"/><stop offset="0.5674" stop-color="#fff000"/><stop offset="0.5711" stop-color="#ffb500"/><stop offset="0.5748" stop-color="#ff9800"/><stop offset="0.5785" stop-color="#ffaa00"/><stop offset="0.5822" stop-color="#ffea00"/><stop offset="0.5859" stop-color="#d9ff26"/><stop offset="0.5932" stop-color="#c0ff3f"/><stop offset="0.6043" stop-color="#3fffc0"/><stop offset="0.6116" stop-color="#21ffde"/><stop offset="0.6153" stop-color="#03fffc"/><stop offset="0.6227" stop-color="#00bfff"/><stop offset="0.6301" stop-color="#00abff"/><stop offset="0.6374" stop-color="#0067ff"/><stop offset="0.6522" stop-color="#0031ff"/><stop offset="0.6595" stop-color="#0010ff"/><stop offset="0.6743" stop-color="#0103fb"/><stop offset="0.6817" stop-color="#0305e6"/><stop offset="0.8438" stop-color="#0408d6"/><stop offset="0.9985" stop-color="#0306e2"/></linearGradient><linearGradient id="h58" gradientUnits="objectBoundingBox" x1="0" y1="0" x2="1" y2="0"><stop offset="0.0000" stop-color="#0d18a7"/><stop offset="0.2616" stop-color="#0910b7"/><stop offset="0.3169" stop-color="#070cc6"/><stop offset="0.3353" stop-color="#0005ff"/><stop offset="0.3427" stop-color="#000fff"/><stop offset="0.3574" stop-color="#0059ff"/><stop offset="0.3648" stop-color="#0077ff"/><stop offset="0.3721" stop-color="#00b8ff"/><stop offset="0.3795" stop-color="#00d9ff"/><stop offset="0.3832" stop-color="#00faff"/><stop offset="0.3906" stop-color="#3cffc3"/><stop offset="0.3979" stop-color="#59ffa6"/><stop offset="0.4090" stop-color="#cfff30"/><stop offset="0.4127" stop-color="#ddff22"/><stop offset="0.4164" stop-color="#fffe00"/><stop offset="0.4200" stop-color="#ffb500"/><stop offset="0.4237" stop-color="#ff9700"/><stop offset="0.4274" stop-color="#ffa800"/><stop offset="0.4311" stop-color="#ffe600"/><stop offset="0.4348" stop-color="#fbff04"/><stop offset="0.4458" stop-color="#b5ff4a"/><stop offset="0.4606" stop-color="#8dff72"/><stop offset="0.4716" stop-color="#72ff8d"/><stop offset="0.5343" stop-color="#76ff89"/><stop offset="0.5564" stop-color="#b5ff4a"/><stop offset="0.5674" stop-color="#fbff04"/><stop offset="0.5711" stop-color="#ffe600"/><stop offset="0.5748" stop-color="#ffa800"/><stop offset="0.5785" stop-color="#ff9700"/><stop offset="0.5822" stop-color="#ffb500"/><stop offset="0.5859" stop-color="#fffe00"/><stop offset="0.5895" stop-color="#ddff22"/><stop offset="0.5932" stop-color="#cfff30"/><stop offset="0.6043" stop-color="#59ffa6"/><stop offset="0.6116" stop-color="#3cffc3"/><stop offset="0.6190" stop-color="#00faff"/><stop offset="0.6227" stop-color="#00d9ff"/><stop offset="0.6338" stop-color="#00a1ff"/><stop offset="0.6374" stop-color="#0080ff"/><stop offset="0.6522" stop-color="#0044ff"/><stop offset="0.6595" stop-color="#001dff"/><stop offset="0.6780" stop-color="#0103fa"/><stop offset="0.6853" stop-color="#0305e5"/><stop offset="0.8511" stop-color="#0408d6"/><stop offset="0.9985" stop-color="#0306e2"/></linearGradient><linearGradient id="h59" gradientUnits="objectBoundingBox" x1="0" y1="0" x2="1" y2="0"><stop offset="0.0000" stop-color="#0d18a7"/><stop offset="0.2616" stop-color="#0910b7"/><stop offset="0.3169" stop-color="#060bc9"/><stop offset="0.3279" stop-color="#0102f9"/><stop offset="0.3427" stop-color="#001dff"/><stop offset="0.3537" stop-color="#005eff"/><stop offset="0.3648" stop-color="#0090ff"/><stop offset="0.3721" stop-color="#00cdff"/><stop offset="0.3795" stop-color="#00f3ff"/><stop offset="0.3832" stop-color="#18ffe7"/><stop offset="0.3906" stop-color="#57ffa8"/><stop offset="0.3979" stop-color="#73ff8c"/><stop offset="0.4090" stop-color="#deff21"/><stop offset="0.4127" stop-color="#eaff15"/><stop offset="0.4164" stop-color="#ffc300"/><stop offset="0.4200" stop-color="#ff9900"/><stop offset="0.4237" stop-color="#ff9e00"/><stop offset="0.4311" stop-color="#f3ff0c"/><stop offset="0.4422" stop-color="#c0ff3f"/><stop offset="0.4495" stop-color="#a3ff5c"/><stop offset="0.4716" stop-color="#83ff7c"/><stop offset="0.5195" stop-color="#85ff7a"/><stop offset="0.5380" stop-color="#89ff76"/><stop offset="0.5564" stop-color="#acff53"/><stop offset="0.5674" stop-color="#e8ff17"/><stop offset="0.5711" stop-color="#f3ff0c"/><stop offset="0.5785" stop-color="#ff9e00"/><stop offset="0.5822" stop-color="#ff9900"/><stop offset="0.5859" stop-color="#ffc300"/><stop offset="0.5895" stop-color="#eaff15"/><stop offset="0.5932" stop-color="#deff21"/><stop offset="0.6043" stop-color="#73ff8c"/><stop offset="0.6116" stop-color="#57ffa8"/><stop offset="0.6190" stop-color="#18ffe7"/><stop offset="0.6227" stop-color="#00f3ff"/><stop offset="0.6338" stop-color="#00b9ff"/><stop offset="0.6411" stop-color="#0083ff"/><stop offset="0.6522" stop-color="#0057ff"/><stop offset="0.6595" stop-color="#002bff"/><stop offset="0.6780" stop-color="#0007ff"/><stop offset="0.6890" stop-color="#0305e5"/><stop offset="0.8438" stop-color="#0408d6"/><stop offset="0.9985" stop-color="#0306e2"/></linearGradient><linearGradient id="h60" gradientUnits="objectBoundingBox" x1="0" y1="0" x2="1" y2="0"><stop offset="0.0000" stop-color="#0d18a7"/><stop offset="0.2616" stop-color="#0910b7"/><stop offset="0.3132" stop-color="#060bca"/><stop offset="0.3206" stop-color="#0407db"/><stop offset="0.3279" stop-color="#0008ff"/><stop offset="0.3427" stop-color="#002bff"/><stop offset="0.3537" stop-color="#0070ff"/><stop offset="0.3648" stop-color="#00a9ff"/><stop offset="0.3721" stop-color="#00e2ff"/><stop offset="0.3758" stop-color="#00f3ff"/><stop offset="0.3795" stop-color="#0dfff2"/><stop offset="0.3869" stop-color="#5affa5"/><stop offset="0.3906" stop-color="#72ff8d"/><stop offset="0.3979" stop-color="#8dff72"/><stop offset="0.4090" stop-color="#ecff13"/><stop offset="0.4127" stop-color="#ffd300"/><stop offset="0.4164" stop-color="#ff9e00"/><stop offset="0.4200" stop-color="#ff9700"/><stop offset="0.4237" stop-color="#ffbf00"/><stop offset="0.4274" stop-color="#efff10"/><stop offset="0.4495" stop-color="#9cff63"/><stop offset="0.4679" stop-color="#94ff6b"/><stop offset="0.5122" stop-color="#9bff64"/><stop offset="0.5453" stop-color="#93ff6c"/><stop offset="0.5564" stop-color="#a4ff5b"/><stop offset="0.5748" stop-color="#efff10"/><stop offset="0.5785" stop-color="#ffbf00"/><stop offset="0.5822" stop-color="#ff9700"/><stop offset="0.5859" stop-color="#ff9e00"/><stop offset="0.5895" stop-color="#ffd300"/><stop offset="0.5932" stop-color="#ecff13"/><stop offset="0.6043" stop-color="#8dff72"/><stop offset="0.6116" stop-color="#72ff8d"/><stop offset="0.6153" stop-color="#5affa5"/><stop offset="0.6227" stop-color="#0dfff2"/><stop offset="0.6264" stop-color="#00f3ff"/><stop offset="0.6448" stop-color="#0088ff"/><stop offset="0.6522" stop-color="#006aff"/><stop offset="0.6595" stop-color="#0039ff"/><stop offset="0.6817" stop-color="#0103fc"/><stop offset="0.6964" stop-color="#0306e3"/><stop offset="0.8622" stop-color="#0408d6"/><stop offset="0.9985" stop-color="#0306e2"/></linearGradient><linearGradient id="h61" gradientUnits="objectBoundingBox" x1="0" y1="0" x2="1" y2="0"><stop offset="0.0000" stop-color="#0d18a7"/><stop offset="0.2616" stop-color="#0910b7"/><stop offset="0.3058" stop-color="#070cc5"/><stop offset="0.3206" stop-color="#0306e3"/><stop offset="0.3242" stop-color="#0103fa"/><stop offset="0.3353" stop-color="#0029ff"/><stop offset="0.3427" stop-color="#0039ff"/><stop offset="0.3500" stop-color="#0072ff"/><stop offset="0.3611" stop-color="#00a6ff"/><stop offset="0.3721" stop-color="#00f8ff"/><stop offset="0.3758" stop-color="#09fff6"/><stop offset="0.3832" stop-color="#50ffaf"/><stop offset="0.3869" stop-color="#77ff88"/><stop offset="0.3979" stop-color="#a7ff58"/><stop offset="0.4053" stop-color="#e3ff1c"/><stop offset="0.4090" stop-color="#ffe600"/><stop offset="0.4127" stop-color="#ffa700"/><stop offset="0.4164" stop-color="#ff9300"/><stop offset="0.4200" stop-color="#ffaf00"/><stop offset="0.4237" stop-color="#fff600"/><stop offset="0.4274" stop-color="#d8ff27"/><stop offset="0.4495" stop-color="#94ff6b"/><stop offset="0.4606" stop-color="#95ff6a"/><stop offset="0.4753" stop-color="#a6ff59"/><stop offset="0.5085" stop-color="#b1ff4e"/><stop offset="0.5380" stop-color="#9cff63"/><stop offset="0.5490" stop-color="#91ff6e"/><stop offset="0.5601" stop-color="#a9ff56"/><stop offset="0.5748" stop-color="#d8ff27"/><stop offset="0.5785" stop-color="#fff600"/><stop offset="0.5822" stop-color="#ffaf00"/><stop offset="0.5859" stop-color="#ff9300"/><stop offset="0.5895" stop-color="#ffa700"/><stop offset="0.5932" stop-color="#ffe600"/><stop offset="0.5969" stop-color="#e3ff1c"/><stop offset="0.6043" stop-color="#a7ff58"/><stop offset="0.6153" stop-color="#77ff88"/><stop offset="0.6227" stop-color="#27ffd8"/><stop offset="0.6264" stop-color="#09fff6"/><stop offset="0.6301" stop-color="#00f8ff"/><stop offset="0.6411" stop-color="#00afff"/><stop offset="0.6522" stop-color="#007dff"/><stop offset="0.6595" stop-color="#0046ff"/><stop offset="0.6743" stop-color="#001fff"/><stop offset="0.6853" stop-color="#0102fa"/><stop offset="0.7038" stop-color="#0306e1"/><stop offset="0.8732" stop-color="#0408d7"/><stop offset="0.9985" stop-color="#0306e2"/></linearGradient><linearGradient id="h62" gradientUnits="objectBoundingBox" x1="0" y1="0" x2="1" y2="0"><stop offset="0.0000" stop-color="#0d18a7"/><stop offset="0.2616" stop-color="#0910b7"/><stop offset="0.3021" stop-color="#070cc5"/><stop offset="0.3206" stop-color="#0204eb"/><stop offset="0.3242" stop-color="#0007ff"/><stop offset="0.3353" stop-color="#0034ff"/><stop offset="0.3427" stop-color="#0047ff"/><stop offset="0.3500" stop-color="#0085ff"/><stop offset="0.3611" stop-color="#00bcff"/><stop offset="0.3685" stop-color="#00fbff"/><stop offset="0.3758" stop-color="#1fffe0"/><stop offset="0.3869" stop-color="#94ff6b"/><stop offset="0.3906" stop-color="#a9ff56"/><stop offset="0.3979" stop-color="#c2ff3d"/><stop offset="0.4053" stop-color="#fffa00"/><stop offset="0.4090" stop-color="#ffb200"/><stop offset="0.4127" stop-color="#ff9300"/><stop offset="0.4164" stop-color="#ffa300"/><stop offset="0.4200" stop-color="#ffdf00"/><stop offset="0.4237" stop-color="#deff21"/><stop offset="0.4348" stop-color="#b0ff4f"/><stop offset="0.4495" stop-color="#8dff72"/><stop offset="0.4569" stop-color="#8dff72"/><stop offset="0.4716" stop-color="#b7ff48"/><stop offset="0.5085" stop-color="#c4ff3b"/><stop offset="0.5343" stop-color="#b2ff4d"/><stop offset="0.5453" stop-color="#8dff72"/><stop offset="0.5564" stop-color="#93ff6c"/><stop offset="0.5748" stop-color="#caff35"/><stop offset="0.5785" stop-color="#deff21"/><stop offset="0.5822" stop-color="#ffdf00"/><stop offset="0.5859" stop-color="#ffa300"/><stop offset="0.5895" stop-color="#ff9300"/><stop offset="0.5932" stop-color="#ffb200"/><stop offset="0.5969" stop-color="#fffa00"/><stop offset="0.6043" stop-color="#c2ff3d"/><stop offset="0.6153" stop-color="#94ff6b"/><stop offset="0.6264" stop-color="#1fffe0"/><stop offset="0.6338" stop-color="#00fbff"/><stop offset="0.6411" stop-color="#00bcff"/><stop offset="0.6522" stop-color="#0090ff"/><stop offset="0.6595" stop-color="#0054ff"/><stop offset="0.6743" stop-color="#0027ff"/><stop offset="0.6853" stop-color="#0005ff"/><stop offset="0.7074" stop-color="#0306e1"/><stop offset="0.8696" stop-color="#0408d7"/><stop offset="0.9985" stop-color="#0306e2"/></linearGradient><linearGradient id="h63" gradientUnits="objectBoundingBox" x1="0" y1="0" x2="1" y2="0"><stop offset="0.0000" stop-color="#0d18a7"/><stop offset="0.2616" stop-color="#0910b7"/><stop offset="0.2985" stop-color="#070dc3"/><stop offset="0.3206" stop-color="#0103f4"/><stop offset="0.3279" stop-color="#001fff"/><stop offset="0.3353" stop-color="#0040ff"/><stop offset="0.3427" stop-color="#0055ff"/><stop offset="0.3500" stop-color="#0099ff"/><stop offset="0.3574" stop-color="#00b6ff"/><stop offset="0.3648" stop-color="#00f5ff"/><stop offset="0.3721" stop-color="#23ffdc"/><stop offset="0.3758" stop-color="#34ffcb"/><stop offset="0.3869" stop-color="#b2ff4d"/><stop offset="0.3979" stop-color="#dcff23"/><stop offset="0.4016" stop-color="#f3ff0c"/><stop offset="0.4053" stop-color="#ffc000"/><stop offset="0.4090" stop-color="#ff9500"/><stop offset="0.4127" stop-color="#ff9900"/><stop offset="0.4200" stop-color="#f5ff0a"/><stop offset="0.4311" stop-color="#a7ff58"/><stop offset="0.4532" stop-color="#83ff7c"/><stop offset="0.4606" stop-color="#9bff64"/><stop offset="0.4679" stop-color="#c1ff3e"/><stop offset="0.5048" stop-color="#daff25"/><stop offset="0.5343" stop-color="#c1ff3e"/><stop offset="0.5453" stop-color="#8aff75"/><stop offset="0.5527" stop-color="#85ff7a"/><stop offset="0.5711" stop-color="#a7ff58"/><stop offset="0.5822" stop-color="#f5ff0a"/><stop offset="0.5895" stop-color="#ff9900"/><stop offset="0.5932" stop-color="#ff9500"/><stop offset="0.5969" stop-color="#ffc000"/><stop offset="0.6006" stop-color="#f3ff0c"/><stop offset="0.6080" stop-color="#cbff34"/><stop offset="0.6153" stop-color="#b2ff4d"/><stop offset="0.6264" stop-color="#34ffcb"/><stop offset="0.6338" stop-color="#15ffea"/><stop offset="0.6374" stop-color="#00f5ff"/><stop offset="0.6448" stop-color="#00b6ff"/><stop offset="0.6522" stop-color="#00a2ff"/><stop offset="0.6595" stop-color="#0061ff"/><stop offset="0.6706" stop-color="#0040ff"/><stop offset="0.6817" stop-color="#000fff"/><stop offset="0.6964" stop-color="#0102f9"/><stop offset="0.7074" stop-color="#0306e1"/><stop offset="0.8696" stop-color="#0408d7"/><stop offset="0.9985" stop-color="#0306e2"/></linearGradient><linearGradient id="h64" gradientUnits="objectBoundingBox" x1="0" y1="0" x2="1" y2="0"><stop offset="0.0000" stop-color="#0d18a7"/><stop offset="0.2616" stop-color="#0910b7"/><stop offset="0.2948" stop-color="#070ebf"/><stop offset="0.3206" stop-color="#0006ff"/><stop offset="0.3353" stop-color="#004fff"/><stop offset="0.3427" stop-color="#0067ff"/><stop offset="0.3500" stop-color="#00adff"/><stop offset="0.3574" stop-color="#00caff"/><stop offset="0.3611" stop-color="#00e9ff"/><stop offset="0.3648" stop-color="#0ffff0"/><stop offset="0.3685" stop-color="#2effd1"/><stop offset="0.3758" stop-color="#4cffb3"/><stop offset="0.3869" stop-color="#c8ff37"/><stop offset="0.3979" stop-color="#eeff11"/><stop offset="0.4016" stop-color="#ffd000"/><stop offset="0.4053" stop-color="#ff9a00"/><stop offset="0.4090" stop-color="#ff9200"/><stop offset="0.4127" stop-color="#ffb900"/><stop offset="0.4164" stop-color="#fff400"/><stop offset="0.4200" stop-color="#f0ff0f"/><stop offset="0.4311" stop-color="#9cff63"/><stop offset="0.4532" stop-color="#88ff77"/><stop offset="0.4606" stop-color="#a3ff5c"/><stop offset="0.4679" stop-color="#ccff33"/><stop offset="0.5048" stop-color="#e6ff19"/><stop offset="0.5343" stop-color="#ccff33"/><stop offset="0.5453" stop-color="#90ff6f"/><stop offset="0.5527" stop-color="#8aff75"/><stop offset="0.5711" stop-color="#9cff63"/><stop offset="0.5822" stop-color="#f0ff0f"/><stop offset="0.5859" stop-color="#fff400"/><stop offset="0.5895" stop-color="#ffb900"/><stop offset="0.5932" stop-color="#ff9200"/><stop offset="0.5969" stop-color="#ff9a00"/><stop offset="0.6006" stop-color="#ffd000"/><stop offset="0.6043" stop-color="#eeff11"/><stop offset="0.6153" stop-color="#c8ff37"/><stop offset="0.6264" stop-color="#4cffb3"/><stop offset="0.6338" stop-color="#2effd1"/><stop offset="0.6374" stop-color="#0ffff0"/><stop offset="0.6411" stop-color="#00e9ff"/><stop offset="0.6448" stop-color="#00caff"/><stop offset="0.6522" stop-color="#00b6ff"/><stop offset="0.6595" stop-color="#0073ff"/><stop offset="0.6743" stop-color="#0039ff"/><stop offset="0.6817" stop-color="#0017ff"/><stop offset="0.6964" stop-color="#0004fe"/><stop offset="0.7074" stop-color="#0306e1"/><stop offset="0.8696" stop-color="#0408d7"/><stop offset="0.9985" stop-color="#0306e2"/></linearGradient><linearGradient id="h65" gradientUnits="objectBoundingBox" x1="0" y1="0" x2="1" y2="0"><stop offset="0.0000" stop-color="#0d18a7"/><stop offset="0.2616" stop-color="#0910b7"/><stop offset="0.2948" stop-color="#070cc4"/><stop offset="0.3058" stop-color="#0306e1"/><stop offset="0.3132" stop-color="#0006ff"/><stop offset="0.3242" stop-color="#0022ff"/><stop offset="0.3353" stop-color="#0061ff"/><stop offset="0.3427" stop-color="#007dff"/><stop offset="0.3500" stop-color="#00c2ff"/><stop offset="0.3574" stop-color="#00dfff"/><stop offset="0.3611" stop-color="#01fffe"/><stop offset="0.3685" stop-color="#49ffb6"/><stop offset="0.3758" stop-color="#66ff99"/><stop offset="0.3869" stop-color="#d9ff26"/><stop offset="0.3943" stop-color="#efff10"/><stop offset="0.3979" stop-color="#ffe200"/><stop offset="0.4016" stop-color="#ffa300"/><stop offset="0.4053" stop-color="#ff8f00"/><stop offset="0.4090" stop-color="#ffaa00"/><stop offset="0.4127" stop-color="#ffef00"/><stop offset="0.4164" stop-color="#fbff04"/><stop offset="0.4311" stop-color="#9bff64"/><stop offset="0.4532" stop-color="#99ff66"/><stop offset="0.4606" stop-color="#afff50"/><stop offset="0.4679" stop-color="#d1ff2e"/><stop offset="0.5048" stop-color="#eaff15"/><stop offset="0.5343" stop-color="#d1ff2e"/><stop offset="0.5453" stop-color="#a0ff5f"/><stop offset="0.5674" stop-color="#96ff69"/><stop offset="0.5711" stop-color="#9bff64"/><stop offset="0.5859" stop-color="#fbff04"/><stop offset="0.5895" stop-color="#ffef00"/><stop offset="0.5932" stop-color="#ffaa00"/><stop offset="0.5969" stop-color="#ff8f00"/><stop offset="0.6006" stop-color="#ffa300"/><stop offset="0.6043" stop-color="#ffe200"/><stop offset="0.6080" stop-color="#efff10"/><stop offset="0.6153" stop-color="#d9ff26"/><stop offset="0.6264" stop-color="#66ff99"/><stop offset="0.6338" stop-color="#49ffb6"/><stop offset="0.6411" stop-color="#01fffe"/><stop offset="0.6448" stop-color="#00dfff"/><stop offset="0.6522" stop-color="#00c2ff"/><stop offset="0.6595" stop-color="#0087ff"/><stop offset="0.6706" stop-color="#005fff"/><stop offset="0.6817" stop-color="#0023ff"/><stop offset="0.7001" stop-color="#0102fa"/><stop offset="0.7111" stop-color="#0306e0"/><stop offset="0.8843" stop-color="#0408d7"/><stop offset="0.9985" stop-color="#0306e2"/></linearGradient><linearGradient id="h66" gradientUnits="objectBoundingBox" x1="0" y1="0" x2="1" y2="0"><stop offset="0.0000" stop-color="#0d18a7"/><stop offset="0.2616" stop-color="#0910b7"/><stop offset="0.2911" stop-color="#070dc2"/><stop offset="0.3058" stop-color="#0305e7"/><stop offset="0.3095" stop-color="#0004fc"/><stop offset="0.3242" stop-color="#002fff"/><stop offset="0.3316" stop-color="#0064ff"/><stop offset="0.3390" stop-color="#007cff"/><stop offset="0.3427" stop-color="#0092ff"/><stop offset="0.3500" stop-color="#00d7ff"/><stop offset="0.3574" stop-color="#00f4ff"/><stop offset="0.3611" stop-color="#18ffe7"/><stop offset="0.3685" stop-color="#63ff9c"/><stop offset="0.3758" stop-color="#80ff7f"/><stop offset="0.3869" stop-color="#eaff15"/><stop offset="0.3906" stop-color="#fbff04"/><stop offset="0.3943" stop-color="#fff700"/><stop offset="0.3979" stop-color="#ffae00"/><stop offset="0.4016" stop-color="#ff8e00"/><stop offset="0.4053" stop-color="#ff9d00"/><stop offset="0.4090" stop-color="#ffd800"/><stop offset="0.4127" stop-color="#f7ff08"/><stop offset="0.4200" stop-color="#d8ff27"/><stop offset="0.4311" stop-color="#99ff66"/><stop offset="0.4385" stop-color="#9fff60"/><stop offset="0.4495" stop-color="#abff54"/><stop offset="0.4569" stop-color="#afff50"/><stop offset="0.4716" stop-color="#ddff22"/><stop offset="0.5085" stop-color="#ecff13"/><stop offset="0.5343" stop-color="#d7ff28"/><stop offset="0.5453" stop-color="#afff50"/><stop offset="0.5637" stop-color="#9fff60"/><stop offset="0.5711" stop-color="#99ff66"/><stop offset="0.5859" stop-color="#ecff13"/><stop offset="0.5895" stop-color="#f7ff08"/><stop offset="0.5932" stop-color="#ffd800"/><stop offset="0.5969" stop-color="#ff9d00"/><stop offset="0.6006" stop-color="#ff8e00"/><stop offset="0.6043" stop-color="#ffae00"/><stop offset="0.6080" stop-color="#fff700"/><stop offset="0.6116" stop-color="#fbff04"/><stop offset="0.6153" stop-color="#eaff15"/><stop offset="0.6264" stop-color="#80ff7f"/><stop offset="0.6338" stop-color="#63ff9c"/><stop offset="0.6411" stop-color="#18ffe7"/><stop offset="0.6448" stop-color="#00f4ff"/><stop offset="0.6522" stop-color="#00d7ff"/><stop offset="0.6595" stop-color="#009cff"/><stop offset="0.6632" stop-color="#0087ff"/><stop offset="0.6706" stop-color="#0070ff"/><stop offset="0.6780" stop-color="#003eff"/><stop offset="0.7001" stop-color="#0004fd"/><stop offset="0.7148" stop-color="#0306df"/><stop offset="0.8843" stop-color="#0408d7"/><stop offset="0.9985" stop-color="#0306e2"/></linearGradient><linearGradient id="h67" gradientUnits="objectBoundingBox" x1="0" y1="0" x2="1" y2="0"><stop offset="0.0000" stop-color="#0d18a7"/><stop offset="0.2616" stop-color="#0910b7"/><stop offset="0.2874" stop-color="#070ec0"/><stop offset="0.3058" stop-color="#0204ed"/><stop offset="0.3095" stop-color="#0008ff"/><stop offset="0.3242" stop-color="#003cff"/><stop offset="0.3316" stop-color="#0075ff"/><stop offset="0.3390" stop-color="#008fff"/><stop offset="0.3500" stop-color="#00ecff"/><stop offset="0.3574" stop-color="#0afff5"/><stop offset="0.3685" stop-color="#7eff81"/><stop offset="0.3758" stop-color="#99ff66"/><stop offset="0.3869" stop-color="#fbff04"/><stop offset="0.3906" stop-color="#fff300"/><stop offset="0.3979" stop-color="#ff9100"/><stop offset="0.4016" stop-color="#ff9400"/><stop offset="0.4053" stop-color="#ffc400"/><stop offset="0.4090" stop-color="#ecff13"/><stop offset="0.4164" stop-color="#ddff22"/><stop offset="0.4311" stop-color="#98ff67"/><stop offset="0.4385" stop-color="#a4ff5b"/><stop offset="0.4495" stop-color="#bcff43"/><stop offset="0.4606" stop-color="#c8ff37"/><stop offset="0.4716" stop-color="#e2ff1d"/><stop offset="0.5085" stop-color="#efff10"/><stop offset="0.5343" stop-color="#ddff22"/><stop offset="0.5490" stop-color="#bbff44"/><stop offset="0.5601" stop-color="#b0ff4f"/><stop offset="0.5674" stop-color="#99ff66"/><stop offset="0.5711" stop-color="#98ff67"/><stop offset="0.5895" stop-color="#e7ff18"/><stop offset="0.5932" stop-color="#ecff13"/><stop offset="0.5969" stop-color="#ffc400"/><stop offset="0.6006" stop-color="#ff9400"/><stop offset="0.6043" stop-color="#ff9100"/><stop offset="0.6116" stop-color="#fff300"/><stop offset="0.6153" stop-color="#fbff04"/><stop offset="0.6264" stop-color="#99ff66"/><stop offset="0.6338" stop-color="#7eff81"/><stop offset="0.6448" stop-color="#0afff5"/><stop offset="0.6522" stop-color="#00ecff"/><stop offset="0.6632" stop-color="#009aff"/><stop offset="0.6706" stop-color="#0081ff"/><stop offset="0.6780" stop-color="#004aff"/><stop offset="0.7001" stop-color="#0006ff"/><stop offset="0.7185" stop-color="#0407de"/><stop offset="0.9027" stop-color="#0408d8"/><stop offset="0.9985" stop-color="#0306e2"/></linearGradient><linearGradient id="h68" gradientUnits="objectBoundingBox" x1="0" y1="0" x2="1" y2="0"><stop offset="0.0000" stop-color="#0d18a7"/><stop offset="0.2616" stop-color="#0910b7"/><stop offset="0.2874" stop-color="#070cc5"/><stop offset="0.3021" stop-color="#0306e3"/><stop offset="0.3058" stop-color="#0203f3"/><stop offset="0.3132" stop-color="#0021ff"/><stop offset="0.3242" stop-color="#0049ff"/><stop offset="0.3316" stop-color="#0087ff"/><stop offset="0.3390" stop-color="#00a2ff"/><stop offset="0.3500" stop-color="#02fffd"/><stop offset="0.3574" stop-color="#1fffe0"/><stop offset="0.3685" stop-color="#98ff67"/><stop offset="0.3758" stop-color="#b3ff4c"/><stop offset="0.3832" stop-color="#eeff11"/><stop offset="0.3869" stop-color="#fff300"/><stop offset="0.3906" stop-color="#ffcc00"/><stop offset="0.3943" stop-color="#ff9700"/><stop offset="0.3979" stop-color="#ff8e00"/><stop offset="0.4016" stop-color="#ffb300"/><stop offset="0.4053" stop-color="#feff01"/><stop offset="0.4090" stop-color="#deff21"/><stop offset="0.4200" stop-color="#c0ff3f"/><stop offset="0.4311" stop-color="#96ff69"/><stop offset="0.4385" stop-color="#a9ff56"/><stop offset="0.4495" stop-color="#cdff32"/><stop offset="0.4643" stop-color="#dcff23"/><stop offset="0.5011" stop-color="#f5ff0a"/><stop offset="0.5380" stop-color="#dcff23"/><stop offset="0.5564" stop-color="#c7ff38"/><stop offset="0.5674" stop-color="#9aff65"/><stop offset="0.5711" stop-color="#96ff69"/><stop offset="0.5895" stop-color="#d6ff29"/><stop offset="0.5932" stop-color="#deff21"/><stop offset="0.5969" stop-color="#feff01"/><stop offset="0.6006" stop-color="#ffb300"/><stop offset="0.6043" stop-color="#ff8e00"/><stop offset="0.6080" stop-color="#ff9700"/><stop offset="0.6116" stop-color="#ffcc00"/><stop offset="0.6153" stop-color="#fff300"/><stop offset="0.6190" stop-color="#eeff11"/><stop offset="0.6264" stop-color="#b3ff4c"/><stop offset="0.6338" stop-color="#98ff67"/><stop offset="0.6448" stop-color="#1fffe0"/><stop offset="0.6522" stop-color="#02fffd"/><stop offset="0.6595" stop-color="#00bdff"/><stop offset="0.6706" stop-color="#0093ff"/><stop offset="0.6780" stop-color="#0057ff"/><stop offset="0.7001" stop-color="#0008ff"/><stop offset="0.7111" stop-color="#0103f4"/><stop offset="0.7185" stop-color="#0306df"/><stop offset="0.8843" stop-color="#0408d7"/><stop offset="0.9985" stop-color="#0306e2"/></linearGradient><linearGradient id="h69" gradientUnits="objectBoundingBox" x1="0" y1="0" x2="1" y2="0"><stop offset="0.0000" stop-color="#0d18a7"/><stop offset="0.2616" stop-color="#0910b7"/><stop offset="0.2837" stop-color="#070dc2"/><stop offset="0.3021" stop-color="#0305e8"/><stop offset="0.3058" stop-color="#0102f9"/><stop offset="0.3169" stop-color="#003dff"/><stop offset="0.3242" stop-color="#0055ff"/><stop offset="0.3316" stop-color="#0099ff"/><stop offset="0.3390" stop-color="#00b6ff"/><stop offset="0.3464" stop-color="#00f7ff"/><stop offset="0.3574" stop-color="#34ffcb"/><stop offset="0.3685" stop-color="#b3ff4c"/><stop offset="0.3758" stop-color="#cdff32"/><stop offset="0.3832" stop-color="#fffd00"/><stop offset="0.3869" stop-color="#ffdf00"/><stop offset="0.3906" stop-color="#ff9f00"/><stop offset="0.3943" stop-color="#ff8a00"/><stop offset="0.3979" stop-color="#ffa400"/><stop offset="0.4016" stop-color="#ffe800"/><stop offset="0.4053" stop-color="#e6ff19"/><stop offset="0.4090" stop-color="#cfff30"/><stop offset="0.4311" stop-color="#95ff6a"/><stop offset="0.4385" stop-color="#aeff51"/><stop offset="0.4458" stop-color="#d6ff29"/><stop offset="0.5011" stop-color="#f8ff07"/><stop offset="0.5564" stop-color="#d6ff29"/><stop offset="0.5674" stop-color="#9cff63"/><stop offset="0.5711" stop-color="#95ff6a"/><stop offset="0.5932" stop-color="#cfff30"/><stop offset="0.5969" stop-color="#e6ff19"/><stop offset="0.6006" stop-color="#ffe800"/><stop offset="0.6043" stop-color="#ffa400"/><stop offset="0.6080" stop-color="#ff8a00"/><stop offset="0.6116" stop-color="#ff9f00"/><stop offset="0.6153" stop-color="#ffdf00"/><stop offset="0.6190" stop-color="#fffd00"/><stop offset="0.6264" stop-color="#cdff32"/><stop offset="0.6338" stop-color="#b3ff4c"/><stop offset="0.6448" stop-color="#34ffcb"/><stop offset="0.6559" stop-color="#00f7ff"/><stop offset="0.6632" stop-color="#00b6ff"/><stop offset="0.6706" stop-color="#00a4ff"/><stop offset="0.6780" stop-color="#0063ff"/><stop offset="0.6890" stop-color="#003aff"/><stop offset="0.6964" stop-color="#0012ff"/><stop offset="0.7111" stop-color="#0103fb"/><stop offset="0.7222" stop-color="#0407de"/><stop offset="0.9027" stop-color="#0408d8"/><stop offset="0.9985" stop-color="#0306e2"/></linearGradient><linearGradient id="h70" gradientUnits="objectBoundingBox" x1="0" y1="0" x2="1" y2="0"><stop offset="0.0000" stop-color="#0d18a7"/><stop offset="0.2616" stop-color="#0910b7"/><stop offset="0.2837" stop-color="#070cc4"/><stop offset="0.2985" stop-color="#0305e7"/><stop offset="0.3021" stop-color="#0204ea"/><stop offset="0.3058" stop-color="#0103fb"/><stop offset="0.3169" stop-color="#0043ff"/><stop offset="0.3242" stop-color="#005cff"/><stop offset="0.3316" stop-color="#00a2ff"/><stop offset="0.3390" stop-color="#00bfff"/><stop offset="0.3464" stop-color="#03fffc"/><stop offset="0.3500" stop-color="#21ffde"/><stop offset="0.3574" stop-color="#3fffc0"/><stop offset="0.3685" stop-color="#c0ff3f"/><stop offset="0.3795" stop-color="#f0ff0f"/><stop offset="0.3832" stop-color="#fff300"/><stop offset="0.3869" stop-color="#ffab00"/><stop offset="0.3906" stop-color="#ff8b00"/><stop offset="0.3943" stop-color="#ff9900"/><stop offset="0.3979" stop-color="#ffd200"/><stop offset="0.4016" stop-color="#fffc00"/><stop offset="0.4090" stop-color="#c7ff38"/><stop offset="0.4311" stop-color="#94ff6b"/><stop offset="0.4348" stop-color="#9cff63"/><stop offset="0.4458" stop-color="#ddff22"/><stop offset="0.4974" stop-color="#faff05"/><stop offset="0.5527" stop-color="#e5ff1a"/><stop offset="0.5601" stop-color="#c9ff36"/><stop offset="0.5674" stop-color="#9cff63"/><stop offset="0.5748" stop-color="#98ff67"/><stop offset="0.5932" stop-color="#c7ff38"/><stop offset="0.6006" stop-color="#fffc00"/><stop offset="0.6043" stop-color="#ffd200"/><stop offset="0.6080" stop-color="#ff9900"/><stop offset="0.6116" stop-color="#ff8b00"/><stop offset="0.6153" stop-color="#ffab00"/><stop offset="0.6190" stop-color="#fff300"/><stop offset="0.6264" stop-color="#daff25"/><stop offset="0.6338" stop-color="#c0ff3f"/><stop offset="0.6448" stop-color="#3fffc0"/><stop offset="0.6522" stop-color="#21ffde"/><stop offset="0.6559" stop-color="#03fffc"/><stop offset="0.6632" stop-color="#00bfff"/><stop offset="0.6706" stop-color="#00acff"/><stop offset="0.6780" stop-color="#0069ff"/><stop offset="0.6890" stop-color="#003eff"/><stop offset="0.6964" stop-color="#0014ff"/><stop offset="0.7148" stop-color="#0103f5"/><stop offset="0.7222" stop-color="#0407de"/><stop offset="0.9027" stop-color="#0408d8"/><stop offset="0.9985" stop-color="#0306e2"/></linearGradient><filter id="vblur" x="0" y="0" width="1" height="1"><feGaussianBlur stdDeviation="0.3 1.0"/></filter><clipPath id="eclip"><rect x="206.30" y="207.00" width="135.70" height="140.20"/></clipPath></defs>
<g clip-path="url(#eclip)"><g filter="url(#vblur)"><rect x="206.30" y="207.00" width="135.70" height="2.60" fill="url(#h0)"/><rect x="206.30" y="209.00" width="135.70" height="2.60" fill="url(#h1)"/><rect x="206.30" y="211.00" width="135.70" height="2.60" fill="url(#h2)"/><rect x="206.30" y="213.00" width="135.70" height="2.60" fill="url(#h3)"/><rect x="206.30" y="215.00" width="135.70" height="2.60" fill="url(#h4)"/><rect x="206.30" y="217.00" width="135.70" height="2.60" fill="url(#h5)"/><rect x="206.30" y="219.00" width="135.70" height="2.60" fill="url(#h6)"/><rect x="206.30" y="221.00" width="135.70" height="2.60" fill="url(#h7)"/><rect x="206.30" y="223.00" width="135.70" height="2.60" fill="url(#h8)"/><rect x="206.30" y="225.00" width="135.70" height="2.60" fill="url(#h9)"/><rect x="206.30" y="227.00" width="135.70" height="2.60" fill="url(#h10)"/><rect x="206.30" y="229.00" width="135.70" height="2.60" fill="url(#h11)"/><rect x="206.30" y="231.00" width="135.70" height="2.60" fill="url(#h12)"/><rect x="206.30" y="233.00" width="135.70" height="2.60" fill="url(#h13)"/><rect x="206.30" y="235.00" width="135.70" height="2.60" fill="url(#h14)"/><rect x="206.30" y="237.00" width="135.70" height="2.60" fill="url(#h15)"/><rect x="206.30" y="239.00" width="135.70" height="2.60" fill="url(#h16)"/><rect x="206.30" y="241.00" width="135.70" height="2.60" fill="url(#h17)"/><rect x="206.30" y="243.00" width="135.70" height="2.60" fill="url(#h18)"/><rect x="206.30" y="245.00" width="135.70" height="2.60" fill="url(#h19)"/><rect x="206.30" y="247.00" width="135.70" height="2.60" fill="url(#h20)"/><rect x="206.30" y="249.00" width="135.70" height="2.60" fill="url(#h21)"/><rect x="206.30" y="251.00" width="135.70" height="2.60" fill="url(#h22)"/><rect x="206.30" y="253.00" width="135.70" height="2.60" fill="url(#h23)"/><rect x="206.30" y="255.00" width="135.70" height="2.60" fill="url(#h24)"/><rect x="206.30" y="257.00" width="135.70" height="2.60" fill="url(#h25)"/><rect x="206.30" y="259.00" width="135.70" height="2.60" fill="url(#h26)"/><rect x="206.30" y="261.00" width="135.70" height="2.60" fill="url(#h27)"/><rect x="206.30" y="263.00" width="135.70" height="2.60" fill="url(#h28)"/><rect x="206.30" y="265.00" width="135.70" height="2.60" fill="url(#h29)"/><rect x="206.30" y="267.00" width="135.70" height="2.60" fill="url(#h30)"/><rect x="206.30" y="269.00" width="135.70" height="2.60" fill="url(#h31)"/><rect x="206.30" y="271.00" width="135.70" height="2.60" fill="url(#h32)"/><rect x="206.30" y="273.00" width="135.70" height="2.60" fill="url(#h33)"/><rect x="206.30" y="275.00" width="135.70" height="2.60" fill="url(#h34)"/><rect x="206.30" y="277.00" width="135.70" height="2.60" fill="url(#h35)"/><rect x="206.30" y="279.00" width="135.70" height="2.60" fill="url(#h36)"/><rect x="206.30" y="281.00" width="135.70" height="2.60" fill="url(#h37)"/><rect x="206.30" y="283.00" width="135.70" height="2.60" fill="url(#h38)"/><rect x="206.30" y="285.00" width="135.70" height="2.60" fill="url(#h39)"/><rect x="206.30" y="287.00" width="135.70" height="2.60" fill="url(#h40)"/><rect x="206.30" y="289.00" width="135.70" height="2.60" fill="url(#h41)"/><rect x="206.30" y="291.00" width="135.70" height="2.60" fill="url(#h42)"/><rect x="206.30" y="293.00" width="135.70" height="2.60" fill="url(#h43)"/><rect x="206.30" y="295.00" width="135.70" height="2.60" fill="url(#h44)"/><rect x="206.30" y="297.00" width="135.70" height="2.60" fill="url(#h45)"/><rect x="206.30" y="299.00" width="135.70" height="2.60" fill="url(#h46)"/><rect x="206.30" y="301.00" width="135.70" height="2.60" fill="url(#h47)"/><rect x="206.30" y="303.00" width="135.70" height="2.60" fill="url(#h48)"/><rect x="206.30" y="305.00" width="135.70" height="2.60" fill="url(#h49)"/><rect x="206.30" y="307.00" width="135.70" height="2.60" fill="url(#h50)"/><rect x="206.30" y="309.00" width="135.70" height="2.60" fill="url(#h51)"/><rect x="206.30" y="311.00" width="135.70" height="2.60" fill="url(#h52)"/><rect x="206.30" y="313.00" width="135.70" height="2.60" fill="url(#h53)"/><rect x="206.30" y="315.00" width="135.70" height="2.60" fill="url(#h54)"/><rect x="206.30" y="317.00" width="135.70" height="2.60" fill="url(#h55)"/><rect x="206.30" y="319.00" width="135.70" height="2.60" fill="url(#h56)"/><rect x="206.30" y="321.00" width="135.70" height="2.60" fill="url(#h57)"/><rect x="206.30" y="323.00" width="135.70" height="2.60" fill="url(#h58)"/><rect x="206.30" y="325.00" width="135.70" height="2.60" fill="url(#h59)"/><rect x="206.30" y="327.00" width="135.70" height="2.60" fill="url(#h60)"/><rect x="206.30" y="329.00" width="135.70" height="2.60" fill="url(#h61)"/><rect x="206.30" y="331.00" width="135.70" height="2.60" fill="url(#h62)"/><rect x="206.30" y="333.00" width="135.70" height="2.60" fill="url(#h63)"/><rect x="206.30" y="335.00" width="135.70" height="2.60" fill="url(#h64)"/><rect x="206.30" y="337.00" width="135.70" height="2.60" fill="url(#h65)"/><rect x="206.30" y="339.00" width="135.70" height="2.60" fill="url(#h66)"/><rect x="206.30" y="341.00" width="135.70" height="2.60" fill="url(#h67)"/><rect x="206.30" y="343.00" width="135.70" height="2.60" fill="url(#h68)"/><rect x="206.30" y="345.00" width="135.70" height="2.60" fill="url(#h69)"/><rect x="206.30" y="347.00" width="135.70" height="0.20" fill="url(#h70)"/></g></g>
<line x1="274.30" y1="207.00" x2="274.30" y2="347.20" stroke="#e8f0ff" stroke-width="0.8"/>
<path d="M262.30,207.00 L274.30,268.00 L289.05,347.20" fill="none" stroke="#1f9a4a" stroke-width="1.1" stroke-dasharray="3,2"/>
<path d="M286.30,207.00 L274.30,268.00 L259.55,347.20" fill="none" stroke="#1f9a4a" stroke-width="1.1" stroke-dasharray="3,2"/>
<path d="M265.55,347.20 L265.80,346.12 L266.05,345.07 L266.30,344.05 L266.55,343.06 L266.80,342.11 L267.05,341.18 L267.30,340.29 L267.55,339.43 L267.80,338.60 L268.05,337.80 L268.30,337.03 L268.55,336.29 L268.80,335.59 L269.05,334.91 L269.30,334.27 L269.55,333.66 L269.80,333.08 L270.05,332.53 L270.30,332.01 L270.55,331.53 L270.80,331.07 L271.05,330.65 L271.30,330.26 L271.55,329.90 L271.80,329.57 L272.05,329.27 L272.30,329.00 L272.55,328.77 L272.80,328.56 L273.05,328.39 L273.30,328.25 L273.55,328.14 L273.80,328.06 L274.05,328.02 L274.30,328.00 L274.55,328.02 L274.80,328.06 L275.05,328.14 L275.30,328.25 L275.55,328.39 L275.80,328.56 L276.05,328.77 L276.30,329.00 L276.55,329.27 L276.80,329.57 L277.05,329.90 L277.30,330.26 L277.55,330.65 L277.80,331.07 L278.05,331.53 L278.30,332.01 L278.55,332.53 L278.80,333.08 L279.05,333.66 L279.30,334.27 L279.55,334.91 L279.80,335.59 L280.05,336.29 L280.30,337.03 L280.55,337.80 L280.80,338.60 L281.05,339.43 L281.30,340.29 L281.55,341.18 L281.80,342.11 L282.05,343.06 L282.30,344.05 L282.55,345.07 L282.80,346.12 L283.05,347.20" fill="none" stroke="#b02828" stroke-width="0.9" stroke-dasharray="2.5,1.8"/>
<line x1="206.30" y1="220.00" x2="207.50" y2="220.00" stroke="#fff" stroke-width="0.6"/>
<text x="202.30" y="223.30" font-family="Liberation Sans, sans-serif" font-size="9.30" fill="#222" text-anchor="end" >6.1</text>
<line x1="206.30" y1="245.00" x2="207.50" y2="245.00" stroke="#fff" stroke-width="0.6"/>
<text x="202.30" y="248.30" font-family="Liberation Sans, sans-serif" font-size="9.30" fill="#222" text-anchor="end" >6</text>
<line x1="206.30" y1="270.00" x2="207.50" y2="270.00" stroke="#fff" stroke-width="0.6"/>
<text x="202.30" y="273.30" font-family="Liberation Sans, sans-serif" font-size="9.30" fill="#222" text-anchor="end" >5.9</text>
<line x1="206.30" y1="295.00" x2="207.50" y2="295.00" stroke="#fff" stroke-width="0.6"/>
<text x="202.30" y="298.30" font-family="Liberation Sans, sans-serif" font-size="9.30" fill="#222" text-anchor="end" >5.8</text>
<line x1="206.30" y1="320.00" x2="207.50" y2="320.00" stroke="#fff" stroke-width="0.6"/>
<text x="202.30" y="323.30" font-family="Liberation Sans, sans-serif" font-size="9.30" fill="#222" text-anchor="end" >5.7</text>
<line x1="206.30" y1="345.00" x2="207.50" y2="345.00" stroke="#fff" stroke-width="0.6"/>
<text x="202.30" y="348.30" font-family="Liberation Sans, sans-serif" font-size="9.30" fill="#222" text-anchor="end" >5.6</text>
<text x="206.30" y="359.50" font-family="Liberation Sans, sans-serif" font-size="9.30" fill="#222" text-anchor="middle" >–0.5</text>
<text x="274.30" y="359.50" font-family="Liberation Sans, sans-serif" font-size="9.30" fill="#222" text-anchor="middle" >0</text>
<text x="342.00" y="359.50" font-family="Liberation Sans, sans-serif" font-size="9.30" fill="#222" text-anchor="middle" >0.5</text>
<text x="274.30" y="374.5" font-family="Liberation Sans, sans-serif" font-size="9.3" fill="#222" text-anchor="middle"><tspan font-style="italic">k</tspan><tspan font-style="italic" font-size="6" dy="1.8">x</tspan><tspan dy="-1.8"> (π/3</tspan><tspan font-style="italic">a</tspan>)</text>
<text transform="translate(181.0,275.6) rotate(-90)" font-family="Liberation Sans, sans-serif" font-size="9.6" fill="#222" text-anchor="middle">F requency (kHz)</text>
<text x="335.80" y="258.20" font-family="Liberation Sans, sans-serif" font-size="9.00" fill="#fff" text-anchor="end" >0.3</text>
<line x1="338.6" y1="255" x2="342" y2="255" stroke="#fff" stroke-width="0.7"/>
<text x="336.00" y="312.90" font-family="Liberation Sans, sans-serif" font-size="9.00" fill="#fff" text-anchor="end" >0.29</text>
<line x1="338.6" y1="309.7" x2="342" y2="309.7" stroke="#fff" stroke-width="0.7"/>
<defs><linearGradient id="jetcb" x1="0" y1="0" x2="0" y2="1"><stop offset="0.000" stop-color="#800000"/><stop offset="0.050" stop-color="#b30000"/><stop offset="0.100" stop-color="#e50000"/><stop offset="0.150" stop-color="#ff1a00"/><stop offset="0.200" stop-color="#ff4c00"/><stop offset="0.250" stop-color="#ff8000"/><stop offset="0.300" stop-color="#ffb300"/><stop offset="0.350" stop-color="#ffe500"/><stop offset="0.400" stop-color="#e5ff1a"/><stop offset="0.450" stop-color="#b3ff4c"/><stop offset="0.500" stop-color="#80ff80"/><stop offset="0.550" stop-color="#4cffb3"/><stop offset="0.600" stop-color="#1affe5"/><stop offset="0.650" stop-color="#00e5ff"/><stop offset="0.700" stop-color="#00b3ff"/><stop offset="0.750" stop-color="#0080ff"/><stop offset="0.800" stop-color="#004cff"/><stop offset="0.850" stop-color="#001aff"/><stop offset="0.900" stop-color="#060bc9"/><stop offset="0.950" stop-color="#0e1aa4"/><stop offset="1.000" stop-color="#0e1aa4"/></linearGradient></defs>
<rect x="348.7" y="256.1" width="4.0" height="51.5" fill="url(#jetcb)"/>
<text x="344.40" y="253.60" font-family="Liberation Sans, sans-serif" font-size="9.00" fill="#222" text-anchor="start" >Max.</text>
<text x="345.60" y="315.40" font-family="Liberation Sans, sans-serif" font-size="9.00" fill="#222" text-anchor="start" >Min.</text>
<text x="307.50" y="240.20" font-family="Liberation Sans, sans-serif" font-size="10.00" fill="#2aa040" text-anchor="start" >Hinge</text>
<line x1="284.00" y1="249.50" x2="302.76" y2="242.41" stroke="#2aa040" stroke-width="0.80"/>
<path d="M306.50,241.00 L303.39,244.10 L302.12,240.73 Z" fill="#2aa040"/>
<text x="211.80" y="330.60" font-family="Liberation Sans, sans-serif" font-size="10.00" fill="#a8141e" text-anchor="start" >Surface</text>
<line x1="267.80" y1="336.30" x2="249.39" y2="331.92" stroke="#b01820" stroke-width="0.80"/>
<path d="M245.50,331.00 L249.81,330.17 L248.98,333.68 Z" fill="#b01820"/>
<defs><linearGradient id="fgrn" gradientUnits="userSpaceOnUse" x1="0" y1="35" x2="0" y2="140"><stop offset="0" stop-color="#00ff00"/><stop offset="1" stop-color="#00b814"/></linearGradient><linearGradient id="fmag" gradientUnits="userSpaceOnUse" x1="0" y1="45" x2="0" y2="145"><stop offset="0" stop-color="#ff00ff"/><stop offset="0.5" stop-color="#d800c8"/><stop offset="1" stop-color="#780070"/></linearGradient><clipPath id="fclip"><rect x="452.30" y="14.60" width="202.10" height="133.60"/></clipPath></defs>
<g clip-path="url(#fclip)">
<path d="M452.20,148.20 L452.20,99.82 L453.01,99.20 L453.82,99.24 L454.63,98.21 L455.44,98.22 L456.25,97.59 L457.05,96.83 L457.86,96.83 L458.67,95.90 L459.48,95.84 L460.29,95.02 L461.10,94.59 L461.91,94.47 L462.72,94.42 L463.53,93.26 L464.34,92.91 L465.15,92.85 L465.95,92.72 L466.76,91.90 L467.57,91.26 L468.38,91.39 L469.19,90.00 L470.00,90.36 L470.83,88.54 L471.67,87.14 L472.50,85.87 L473.33,84.81 L474.17,84.07 L475.00,82.18 L475.83,81.33 L476.67,80.14 L477.50,78.62 L478.33,77.55 L479.17,75.81 L480.00,74.56 L480.88,70.96 L481.75,67.68 L482.62,63.68 L483.50,59.81 L485.00,47.09 L486.00,44.70 L487.00,42.30 L487.93,42.56 L488.87,42.23 L489.80,41.54 L490.68,41.87 L491.57,41.83 L492.45,42.18 L493.33,42.03 L494.22,41.59 L495.10,42.28 L495.98,41.87 L496.87,42.62 L497.75,43.41 L498.63,43.25 L499.52,44.04 L500.40,44.04 L501.32,45.87 L502.24,47.16 L503.16,48.17 L504.08,49.68 L505.00,50.31 L505.83,51.86 L506.67,52.93 L507.50,54.08 L508.33,55.12 L509.17,56.67 L510.00,57.94 L510.80,58.47 L511.60,59.66 L512.40,60.06 L513.20,61.70 L514.00,62.65 L514.93,62.76 L515.87,62.36 L516.80,61.58 L517.60,61.39 L518.40,61.37 L519.20,60.42 L520.00,60.56 L520.80,59.97 L521.60,60.49 L522.40,61.01 L523.20,62.29 L524.00,62.23 L525.03,63.41 L526.07,64.62 L527.10,66.17 L528.17,63.28 L529.23,61.55 L530.30,59.55 L531.45,56.73 L532.60,53.52 L534.00,50.36 L535.00,48.11 L536.00,46.58 L537.00,44.86 L537.80,45.01 L538.60,44.72 L539.40,43.54 L540.20,43.20 L541.00,42.88 L541.80,42.51 L542.60,42.39 L543.40,42.13 L544.20,41.43 L545.00,40.80 L545.83,40.92 L546.67,40.57 L547.50,40.47 L548.33,40.55 L549.17,39.99 L550.00,39.52 L550.84,39.40 L551.68,39.24 L552.52,38.39 L553.36,39.02 L554.20,38.68 L555.04,38.55 L555.88,38.26 L556.72,37.63 L557.56,37.42 L558.40,36.90 L559.24,37.72 L560.07,37.43 L560.91,37.71 L561.75,38.14 L562.58,38.37 L563.42,38.83 L564.25,38.83 L565.09,39.05 L565.93,39.49 L566.76,39.72 L567.60,40.26 L568.45,40.26 L569.29,41.45 L570.14,41.52 L570.98,41.39 L571.83,41.83 L572.67,42.27 L573.52,42.62 L574.36,42.71 L575.21,43.78 L576.05,44.26 L576.90,44.07 L577.75,44.30 L578.59,44.12 L579.44,44.35 L580.28,44.80 L581.13,44.94 L581.98,45.72 L582.82,45.27 L583.67,45.35 L584.52,46.49 L585.36,46.28 L586.21,46.12 L587.05,46.73 L587.90,46.43 L588.73,47.32 L589.55,48.15 L590.38,48.43 L591.20,48.65 L592.02,48.60 L592.85,49.09 L593.67,49.28 L594.50,50.27 L595.40,50.70 L596.30,51.62 L597.20,51.84 L598.10,52.41 L599.00,53.67 L599.90,54.51 L600.80,55.05 L601.77,56.01 L602.75,57.02 L603.73,57.94 L604.70,58.43 L605.50,58.24 L606.30,57.60 L607.10,56.79 L607.90,56.31 L608.70,56.08 L609.73,55.29 L610.77,54.96 L611.80,54.46 L612.90,52.95 L614.00,52.44 L614.86,51.63 L615.71,50.74 L616.57,49.29 L617.43,48.29 L618.29,47.44 L619.14,46.55 L620.00,45.70 L620.83,45.71 L621.67,45.57 L622.50,45.09 L623.33,44.31 L624.17,44.07 L625.00,43.80 L625.83,42.67 L626.67,42.83 L627.50,42.66 L628.33,42.12 L629.17,41.67 L630.00,40.98 L630.83,40.51 L631.67,40.96 L632.50,40.33 L633.33,40.63 L634.17,40.64 L635.00,39.90 L635.83,39.73 L636.67,40.11 L637.50,39.72 L638.33,39.00 L639.17,38.79 L640.00,38.65 L640.86,39.55 L641.71,39.59 L642.57,39.07 L643.43,39.90 L644.29,40.19 L645.14,40.01 L646.00,39.85 L646.84,39.25 L647.68,38.03 L648.52,37.11 L649.36,37.27 L650.20,36.15 L651.04,35.23 L651.88,34.83 L652.72,33.53 L653.56,33.17 L654.40,32.00 L654.40,148.20 Z" fill="url(#fgrn)" fill-opacity="0.7"/>
<path d="M452.20,148.20 L452.20,27.23 L453.07,27.14 L453.94,27.71 L454.81,28.28 L455.69,28.75 L456.56,29.63 L457.43,29.83 L458.30,30.52 L459.20,30.53 L460.10,31.61 L461.00,31.35 L461.82,31.51 L462.64,31.69 L463.47,32.07 L464.29,31.64 L465.11,32.20 L465.93,31.83 L466.76,31.92 L467.58,31.97 L468.40,31.52 L469.32,31.86 L470.23,31.52 L471.15,31.25 L472.07,31.97 L472.98,31.26 L473.90,31.47 L474.82,31.66 L475.73,31.42 L476.65,31.13 L477.57,31.25 L478.48,31.22 L479.40,31.38 L480.33,31.14 L481.27,32.03 L482.20,32.15 L483.13,34.01 L484.07,36.34 L485.00,37.91 L485.88,39.29 L486.75,40.81 L487.62,42.29 L488.50,43.14 L489.33,46.25 L490.17,49.07 L491.00,52.01 L491.88,55.89 L492.75,59.35 L493.62,63.13 L494.50,66.78 L495.33,65.64 L496.17,63.80 L497.00,62.38 L498.00,60.44 L499.00,57.76 L500.00,56.06 L500.83,55.11 L501.67,53.67 L502.50,51.64 L503.33,51.09 L504.17,50.88 L505.00,49.97 L505.83,50.91 L506.67,51.51 L507.50,52.87 L508.33,53.75 L509.17,54.63 L510.00,54.65 L510.86,56.64 L511.71,58.02 L512.57,58.93 L513.43,61.10 L514.29,62.61 L515.14,63.29 L516.00,65.45 L516.91,65.91 L517.83,67.02 L518.74,68.53 L519.66,69.39 L520.57,69.73 L521.49,71.02 L522.40,72.12 L523.30,72.84 L524.20,73.60 L525.10,74.62 L526.00,75.92 L526.90,76.12 L527.80,77.55 L528.70,78.34 L529.60,78.82 L530.50,80.03 L531.40,81.22 L532.30,82.01 L533.20,82.46 L534.10,84.29 L535.00,84.99 L535.90,86.09 L536.80,86.13 L537.70,87.21 L538.60,87.90 L539.50,89.55 L540.40,89.96 L541.30,90.73 L542.10,92.07 L542.90,93.61 L543.70,94.57 L544.50,95.06 L545.30,96.00 L546.10,97.82 L547.04,99.67 L547.98,102.00 L548.92,103.59 L549.86,105.76 L550.80,108.59 L551.64,110.25 L552.48,111.81 L553.32,114.60 L554.16,116.21 L555.00,118.30 L555.80,119.70 L556.60,122.60 L557.40,123.93 L558.20,126.84 L559.00,128.55 L560.00,129.64 L561.00,131.05 L561.83,130.93 L562.67,129.77 L563.50,129.13 L564.33,129.03 L565.17,128.24 L566.00,127.61 L566.86,126.80 L567.71,125.84 L568.57,125.13 L569.43,124.38 L570.29,123.52 L571.14,123.12 L572.00,121.79 L572.86,121.29 L573.71,120.25 L574.57,119.70 L575.43,118.66 L576.29,118.18 L577.14,117.23 L578.00,117.23 L578.92,115.65 L579.84,113.89 L580.76,112.77 L581.68,111.83 L582.60,109.61 L583.48,107.72 L584.36,104.73 L585.24,102.20 L586.12,99.93 L587.00,96.89 L587.86,94.61 L588.72,92.39 L589.58,90.28 L590.44,87.24 L591.30,85.33 L592.22,83.32 L593.13,81.37 L594.05,79.25 L594.97,77.31 L595.88,75.14 L596.80,73.33 L597.60,72.25 L598.40,71.90 L599.20,70.39 L600.00,69.27 L600.80,68.17 L601.60,67.91 L602.40,66.91 L603.20,65.69 L604.00,64.28 L604.88,63.22 L605.75,62.24 L606.62,61.38 L607.50,60.06 L608.38,59.32 L609.25,58.11 L610.12,57.79 L611.00,56.77 L611.91,55.39 L612.83,54.13 L613.74,53.89 L614.66,52.28 L615.57,51.37 L616.49,50.06 L617.40,49.48 L618.33,46.57 L619.25,43.60 L620.17,40.30 L621.10,37.60 L622.02,34.80 L622.95,32.76 L623.88,30.29 L624.80,28.30 L625.72,26.79 L626.65,25.62 L627.58,24.75 L628.50,23.53 L629.42,23.66 L630.35,23.38 L631.28,23.38 L632.20,23.06 L633.12,24.49 L634.05,26.03 L634.98,26.91 L635.90,28.23 L636.72,29.80 L637.54,29.89 L638.36,31.38 L639.18,32.22 L640.00,32.54 L640.90,34.59 L641.80,35.89 L642.70,36.88 L643.60,38.23 L644.48,37.51 L645.36,36.04 L646.24,35.62 L647.12,34.80 L648.00,34.33 L648.91,33.59 L649.83,32.90 L650.74,31.94 L651.66,31.54 L652.57,30.61 L653.49,29.91 L654.40,29.00 L654.40,148.20 Z" fill="#ff0000" fill-opacity="0.7"/>
<path d="M452.20,148.20 L452.20,59.41 L453.07,58.75 L453.93,58.75 L454.80,59.03 L455.67,58.24 L456.53,59.63 L457.40,58.80 L458.27,58.73 L459.13,58.50 L460.00,58.40 L460.83,57.48 L461.67,55.91 L462.50,57.15 L463.33,56.55 L464.17,55.51 L465.00,55.08 L465.94,54.41 L466.88,52.17 L467.82,52.70 L468.76,50.69 L469.70,49.36 L470.50,49.25 L471.30,49.74 L472.10,48.05 L472.90,48.69 L473.70,48.68 L474.50,47.09 L475.53,47.37 L476.57,48.12 L477.60,49.10 L478.67,50.05 L479.73,50.49 L480.80,51.31 L481.74,51.35 L482.68,52.78 L483.62,54.30 L484.56,56.66 L485.50,56.97 L486.30,58.87 L487.10,58.96 L487.90,60.38 L488.70,62.16 L489.50,64.36 L490.30,65.72 L491.27,67.06 L492.25,67.59 L493.23,69.46 L494.20,70.72 L495.00,72.56 L495.80,73.63 L496.60,77.17 L498.20,81.94 L499.35,83.30 L500.50,82.86 L501.30,79.72 L502.10,79.57 L502.90,79.24 L503.70,78.45 L504.50,76.19 L505.43,74.34 L506.35,72.76 L507.27,72.93 L508.20,69.86 L509.23,70.18 L510.27,68.71 L511.30,69.05 L512.37,69.20 L513.43,66.59 L514.50,67.30 L515.53,67.92 L516.57,70.05 L517.60,70.95 L518.67,70.98 L519.73,73.51 L520.80,73.67 L521.74,74.23 L522.68,75.77 L523.62,78.42 L524.56,79.91 L525.50,81.16 L526.30,82.38 L527.10,84.41 L527.90,85.92 L528.70,88.65 L529.73,88.37 L530.77,91.58 L531.80,93.35 L532.60,93.36 L533.40,96.74 L534.20,97.87 L535.40,99.83 L536.60,100.04 L537.54,101.18 L538.48,102.18 L539.42,104.48 L540.36,104.54 L541.30,104.99 L542.10,106.32 L542.90,107.16 L543.70,107.83 L544.50,109.12 L545.36,111.86 L546.21,111.79 L547.07,114.34 L547.93,113.96 L548.79,115.13 L549.64,116.80 L550.50,117.22 L551.42,118.82 L552.35,121.30 L553.28,122.35 L554.20,123.39 L555.15,124.31 L556.10,126.26 L557.05,127.64 L558.00,128.11 L558.83,129.23 L559.65,128.51 L560.47,130.76 L561.30,130.89 L562.20,127.22 L563.10,122.65 L564.00,117.53 L564.90,113.43 L565.80,111.79 L566.70,106.46 L567.60,103.64 L568.46,102.49 L569.33,101.53 L570.19,101.63 L571.05,101.29 L571.92,98.85 L572.78,98.86 L573.65,97.22 L574.51,96.92 L575.37,95.69 L576.24,94.33 L577.10,93.46 L577.96,92.98 L578.83,93.95 L579.69,92.48 L580.55,91.29 L581.42,92.23 L582.28,91.86 L583.15,90.08 L584.01,88.83 L584.87,88.37 L585.74,87.57 L586.60,87.55 L587.80,85.80 L589.00,84.93 L589.98,83.59 L590.95,82.90 L591.92,82.23 L592.90,80.55 L593.88,78.43 L594.85,77.06 L595.82,75.93 L596.80,74.23 L597.60,74.03 L598.40,73.31 L599.20,73.67 L600.00,75.07 L600.80,73.11 L601.60,73.82 L602.40,73.99 L603.34,74.18 L604.28,72.44 L605.22,72.24 L606.16,71.87 L607.10,71.88 L608.17,70.95 L609.23,71.03 L610.30,69.77 L611.22,68.07 L612.15,64.45 L613.08,62.72 L614.00,62.46 L614.86,62.30 L615.71,60.80 L616.57,60.48 L617.43,58.61 L618.29,58.90 L619.14,59.51 L620.00,58.72 L620.83,58.28 L621.67,58.04 L622.50,55.95 L623.33,55.14 L624.17,54.74 L625.00,55.05 L625.83,54.90 L626.67,54.97 L627.50,53.99 L628.33,53.32 L629.17,53.08 L630.00,51.91 L630.83,51.70 L631.67,50.15 L632.50,51.37 L633.33,49.75 L634.17,50.84 L635.00,49.82 L635.83,48.65 L636.67,47.85 L637.50,47.70 L638.33,48.13 L639.17,47.85 L640.00,46.15 L640.85,45.70 L641.69,46.35 L642.54,46.12 L643.39,45.34 L644.24,44.63 L645.08,45.10 L645.93,43.45 L646.78,43.74 L647.62,43.74 L648.47,44.48 L649.32,43.44 L650.16,43.61 L651.01,42.36 L651.86,41.48 L652.71,41.15 L653.55,42.37 L654.40,41.00 L654.40,148.20 Z" fill="url(#fmag)" fill-opacity="0.74"/>
<path d="M452.20,148.20 L452.20,27.10 L453.07,27.16 L453.93,27.32 L454.80,28.25 L455.67,28.87 L456.53,29.07 L457.40,29.36 L458.30,31.84 L459.20,34.18 L460.10,35.55 L461.00,37.43 L461.93,40.80 L462.87,43.95 L463.80,47.28 L464.65,49.25 L465.50,52.30 L466.34,53.64 L467.18,54.80 L468.02,55.91 L468.86,58.07 L469.70,58.81 L470.50,60.37 L471.30,60.83 L472.10,61.87 L472.90,63.46 L473.70,64.04 L474.50,65.75 L475.44,66.88 L476.38,68.15 L477.32,69.76 L478.26,71.54 L479.20,73.37 L480.27,76.25 L481.33,78.05 L482.40,80.89 L483.20,81.96 L484.00,83.97 L485.03,81.81 L486.07,80.39 L487.10,79.06 L488.30,80.64 L489.50,82.40 L490.33,85.38 L491.17,88.23 L492.00,91.50 L492.83,95.10 L493.67,98.16 L494.50,101.69 L495.35,106.84 L496.20,111.05 L497.10,106.03 L498.00,102.36 L498.83,100.68 L499.67,99.27 L500.50,97.83 L501.37,98.50 L502.23,99.17 L503.10,100.28 L503.93,103.18 L504.77,106.62 L505.60,108.62 L506.47,112.90 L507.33,115.57 L508.20,119.16 L509.07,121.92 L509.93,124.22 L510.80,126.13 L511.65,127.02 L512.50,128.72 L513.35,129.90 L514.20,131.72 L515.05,127.99 L515.90,125.16 L516.77,127.13 L517.63,127.70 L518.50,129.51 L519.35,131.19 L520.20,132.42 L521.05,132.97 L521.90,134.23 L522.75,135.34 L523.60,137.27 L524.45,137.68 L525.30,139.25 L526.16,139.74 L527.02,139.52 L527.88,139.79 L528.74,140.82 L529.60,140.82 L530.45,140.89 L531.30,141.77 L532.15,141.79 L533.00,142.18 L533.88,141.69 L534.75,142.23 L535.62,142.18 L536.50,141.68 L537.38,141.78 L538.25,140.65 L539.12,140.65 L540.00,140.68 L540.96,140.66 L541.92,140.15 L542.88,139.09 L543.84,138.45 L544.80,138.13 L545.67,138.03 L546.55,138.30 L547.42,137.40 L548.30,137.85 L549.17,137.63 L550.05,137.55 L550.92,137.34 L551.80,137.01 L552.62,136.56 L553.43,136.39 L554.25,136.26 L555.07,136.52 L555.88,135.65 L556.70,135.60 L557.58,136.08 L558.45,135.50 L559.33,135.24 L560.20,135.13 L561.08,135.58 L561.95,135.28 L562.83,135.86 L563.70,135.68 L564.54,135.31 L565.39,134.11 L566.23,133.45 L567.07,132.98 L567.91,132.91 L568.76,132.64 L569.60,131.90 L570.44,131.21 L571.29,130.91 L572.13,130.63 L572.97,130.21 L573.81,129.81 L574.66,129.43 L575.50,128.76 L576.39,127.33 L577.27,127.17 L578.16,125.73 L579.05,125.12 L579.94,124.04 L580.83,123.51 L581.71,122.09 L582.60,121.25 L583.49,119.77 L584.38,118.20 L585.26,117.46 L586.15,115.68 L587.04,113.95 L587.93,112.55 L588.81,111.67 L589.70,109.71 L590.77,106.20 L591.83,103.54 L592.90,100.15 L593.70,97.59 L594.50,93.80 L595.65,90.62 L596.80,87.42 L597.60,86.82 L598.40,86.27 L599.20,84.78 L600.00,84.41 L600.80,83.62 L601.60,84.99 L602.40,87.07 L603.20,87.98 L604.70,97.83 L605.80,115.87 L607.10,97.77 L607.90,89.45 L608.70,81.36 L610.30,72.38 L611.80,64.65 L612.60,61.17 L613.40,59.03 L614.20,56.42 L615.27,53.48 L616.33,51.10 L617.40,48.34 L618.33,49.33 L619.25,50.30 L620.17,51.57 L621.10,52.55 L622.02,52.40 L622.93,52.51 L623.85,53.13 L624.77,53.78 L625.68,53.59 L626.60,54.01 L627.52,53.00 L628.45,52.70 L629.38,51.55 L630.30,50.16 L631.22,46.95 L632.15,44.00 L633.08,40.90 L634.00,37.74 L634.92,34.89 L635.85,32.66 L636.78,30.90 L637.70,28.31 L638.62,28.03 L639.53,27.91 L640.45,28.40 L641.37,27.61 L642.28,27.72 L643.20,27.36 L644.13,27.12 L645.07,27.26 L646.00,27.10 L646.93,26.16 L647.87,25.70 L648.80,25.93 L649.72,24.84 L650.64,24.09 L651.56,24.42 L652.48,23.38 L653.40,23.22 L654.40,22.50 L654.40,148.20 Z" fill="#0661c0" fill-opacity="0.9"/>
<path d="M452.20,27.10 L453.07,27.16 L453.93,27.32 L454.80,28.25 L455.67,28.87 L456.53,29.07 L457.40,29.36 L458.30,31.84 L459.20,34.18 L460.10,35.55 L461.00,37.43 L461.93,40.80 L462.87,43.95 L463.80,47.28 L464.65,49.25 L465.50,52.30 L466.34,53.64 L467.18,54.80 L468.02,55.91 L468.86,58.07 L469.70,58.81 L470.50,60.37 L471.30,60.83 L472.10,61.87 L472.90,63.46 L473.70,64.04 L474.50,65.75 L475.44,66.88 L476.38,68.15 L477.32,69.76 L478.26,71.54 L479.20,73.37 L480.27,76.25 L481.33,78.05 L482.40,80.89 L483.20,81.96 L484.00,83.97 L485.03,81.81 L486.07,80.39 L487.10,79.06 L488.30,80.64 L489.50,82.40 L490.33,85.38 L491.17,88.23 L492.00,91.50 L492.83,95.10 L493.67,98.16 L494.50,101.69 L495.35,106.84 L496.20,111.05 L497.10,106.03 L498.00,102.36 L498.83,100.68 L499.67,99.27 L500.50,97.83 L501.37,98.50 L502.23,99.17 L503.10,100.28 L503.93,103.18 L504.77,106.62 L505.60,108.62 L506.47,112.90 L507.33,115.57 L508.20,119.16 L509.07,121.92 L509.93,124.22 L510.80,126.13 L511.65,127.02 L512.50,128.72 L513.35,129.90 L514.20,131.72 L515.05,127.99 L515.90,125.16 L516.77,127.13 L517.63,127.70 L518.50,129.51 L519.35,131.19 L520.20,132.42 L521.05,132.97 L521.90,134.23 L522.75,135.34 L523.60,137.27 L524.45,137.68 L525.30,139.25 L526.16,139.74 L527.02,139.52 L527.88,139.79 L528.74,140.82 L529.60,140.82 L530.45,140.89 L531.30,141.77 L532.15,141.79 L533.00,142.18 L533.88,141.69 L534.75,142.23 L535.62,142.18 L536.50,141.68 L537.38,141.78 L538.25,140.65 L539.12,140.65 L540.00,140.68 L540.96,140.66 L541.92,140.15 L542.88,139.09 L543.84,138.45 L544.80,138.13 L545.67,138.03 L546.55,138.30 L547.42,137.40 L548.30,137.85 L549.17,137.63 L550.05,137.55 L550.92,137.34 L551.80,137.01 L552.62,136.56 L553.43,136.39 L554.25,136.26 L555.07,136.52 L555.88,135.65 L556.70,135.60 L557.58,136.08 L558.45,135.50 L559.33,135.24 L560.20,135.13 L561.08,135.58 L561.95,135.28 L562.83,135.86 L563.70,135.68 L564.54,135.31 L565.39,134.11 L566.23,133.45 L567.07,132.98 L567.91,132.91 L568.76,132.64 L569.60,131.90 L570.44,131.21 L571.29,130.91 L572.13,130.63 L572.97,130.21 L573.81,129.81 L574.66,129.43 L575.50,128.76 L576.39,127.33 L577.27,127.17 L578.16,125.73 L579.05,125.12 L579.94,124.04 L580.83,123.51 L581.71,122.09 L582.60,121.25 L583.49,119.77 L584.38,118.20 L585.26,117.46 L586.15,115.68 L587.04,113.95 L587.93,112.55 L588.81,111.67 L589.70,109.71 L590.77,106.20 L591.83,103.54 L592.90,100.15 L593.70,97.59 L594.50,93.80 L595.65,90.62 L596.80,87.42 L597.60,86.82 L598.40,86.27 L599.20,84.78 L600.00,84.41 L600.80,83.62 L601.60,84.99 L602.40,87.07 L603.20,87.98 L604.70,97.83 L605.80,115.87 L607.10,97.77 L607.90,89.45 L608.70,81.36 L610.30,72.38 L611.80,64.65 L612.60,61.17 L613.40,59.03 L614.20,56.42 L615.27,53.48 L616.33,51.10 L617.40,48.34 L618.33,49.33 L619.25,50.30 L620.17,51.57 L621.10,52.55 L622.02,52.40 L622.93,52.51 L623.85,53.13 L624.77,53.78 L625.68,53.59 L626.60,54.01 L627.52,53.00 L628.45,52.70 L629.38,51.55 L630.30,50.16 L631.22,46.95 L632.15,44.00 L633.08,40.90 L634.00,37.74 L634.92,34.89 L635.85,32.66 L636.78,30.90 L637.70,28.31 L638.62,28.03 L639.53,27.91 L640.45,28.40 L641.37,27.61 L642.28,27.72 L643.20,27.36 L644.13,27.12 L645.07,27.26 L646.00,27.10 L646.93,26.16 L647.87,25.70 L648.80,25.93 L649.72,24.84 L650.64,24.09 L651.56,24.42 L652.48,23.38 L653.40,23.22 L654.40,22.50" fill="none" stroke="#1a1a40" stroke-width="0.5" stroke-opacity="0.8"/>
</g>
<path d="M452.30,14.60 L654.40,14.60 L654.40,148.20 L452.30,148.20 Z" fill="none" stroke="#222" stroke-width="0.7"/>
<line x1="449.80" y1="14.60" x2="452.30" y2="14.60" stroke="#222" stroke-width="0.7"/>
<line x1="450.80" y1="27.20" x2="452.30" y2="27.20" stroke="#222" stroke-width="0.6"/>
<text x="447.80" y="18.00" font-family="Liberation Sans, sans-serif" font-size="9.60" fill="#222" text-anchor="end" >0</text>
<line x1="449.80" y1="39.83" x2="452.30" y2="39.83" stroke="#222" stroke-width="0.7"/>
<line x1="450.80" y1="52.43" x2="452.30" y2="52.43" stroke="#222" stroke-width="0.6"/>
<text x="447.80" y="43.23" font-family="Liberation Sans, sans-serif" font-size="9.60" fill="#222" text-anchor="end" >–10</text>
<line x1="449.80" y1="65.06" x2="452.30" y2="65.06" stroke="#222" stroke-width="0.7"/>
<line x1="450.80" y1="77.66" x2="452.30" y2="77.66" stroke="#222" stroke-width="0.6"/>
<text x="447.80" y="68.46" font-family="Liberation Sans, sans-serif" font-size="9.60" fill="#222" text-anchor="end" >–20</text>
<line x1="449.80" y1="90.29" x2="452.30" y2="90.29" stroke="#222" stroke-width="0.7"/>
<line x1="450.80" y1="102.89" x2="452.30" y2="102.89" stroke="#222" stroke-width="0.6"/>
<text x="447.80" y="93.69" font-family="Liberation Sans, sans-serif" font-size="9.60" fill="#222" text-anchor="end" >–30</text>
<line x1="449.80" y1="115.52" x2="452.30" y2="115.52" stroke="#222" stroke-width="0.7"/>
<line x1="450.80" y1="128.12" x2="452.30" y2="128.12" stroke="#222" stroke-width="0.6"/>
<text x="447.80" y="118.92" font-family="Liberation Sans, sans-serif" font-size="9.60" fill="#222" text-anchor="end" >–40</text>
<line x1="449.80" y1="140.75" x2="452.30" y2="140.75" stroke="#222" stroke-width="0.7"/>
<text x="447.80" y="144.15" font-family="Liberation Sans, sans-serif" font-size="9.60" fill="#222" text-anchor="end" >–50</text>
<line x1="453.20" y1="148.20" x2="453.20" y2="150.70" stroke="#222" stroke-width="0.7"/>
<line x1="475.40" y1="148.20" x2="475.40" y2="149.70" stroke="#222" stroke-width="0.6"/>
<text x="453.20" y="161.30" font-family="Liberation Sans, sans-serif" font-size="9.60" fill="#222" text-anchor="middle" >4.8</text>
<line x1="497.55" y1="148.20" x2="497.55" y2="150.70" stroke="#222" stroke-width="0.7"/>
<line x1="519.75" y1="148.20" x2="519.75" y2="149.70" stroke="#222" stroke-width="0.6"/>
<text x="497.55" y="161.30" font-family="Liberation Sans, sans-serif" font-size="9.60" fill="#222" text-anchor="middle" >5.2</text>
<line x1="541.90" y1="148.20" x2="541.90" y2="150.70" stroke="#222" stroke-width="0.7"/>
<line x1="564.10" y1="148.20" x2="564.10" y2="149.70" stroke="#222" stroke-width="0.6"/>
<text x="541.90" y="161.30" font-family="Liberation Sans, sans-serif" font-size="9.60" fill="#222" text-anchor="middle" >5.6</text>
<line x1="586.25" y1="148.20" x2="586.25" y2="150.70" stroke="#222" stroke-width="0.7"/>
<line x1="608.45" y1="148.20" x2="608.45" y2="149.70" stroke="#222" stroke-width="0.6"/>
<text x="586.25" y="161.30" font-family="Liberation Sans, sans-serif" font-size="9.60" fill="#222" text-anchor="middle" >6</text>
<line x1="630.60" y1="148.20" x2="630.60" y2="150.70" stroke="#222" stroke-width="0.7"/>
<line x1="652.80" y1="148.20" x2="652.80" y2="149.70" stroke="#222" stroke-width="0.6"/>
<text x="630.60" y="161.30" font-family="Liberation Sans, sans-serif" font-size="9.60" fill="#222" text-anchor="middle" >6.4</text>
<text x="559.00" y="172.80" font-family="Liberation Sans, sans-serif" font-size="9.60" fill="#222" text-anchor="middle" >Frequency (kHz)</text>
<text transform="translate(422.8,81.7) rotate(-90)" font-family="Liberation Sans, sans-serif" font-size="9.8" fill="#222" text-anchor="middle">Transmission (dB)</text>
<rect x="534.2" y="12.4" width="58.6" height="37.7" fill="none"/>
<path d="M534.2,150.1 L534.2,12.4 L592.8,12.4 L592.8,150.1 Z" fill="none" stroke="#111" stroke-width="1.25" stroke-dasharray="3.6,2.4"/>
<text x="604.50" y="24.00" font-family="Liberation Sans, sans-serif" font-size="9.50" fill="#111" text-anchor="start" >Nontrivial</text>
<text x="557.30" y="65.30" font-family="Liberation Sans, sans-serif" font-size="9.50" fill="#111" text-anchor="start" >Top</text>
<text x="506.30" y="109.50" font-family="Liberation Sans, sans-serif" font-size="9.50" fill="#111" text-anchor="start" >Trivial</text>
<text x="606.70" y="129.80" font-family="Liberation Sans, sans-serif" font-size="9.50" fill="#111" text-anchor="start" >Bottom</text>
<path d="M384.90,219.80 Q389.26,220.25 393.36,218.71 Q397.71,219.16 401.81,217.62 Q406.17,218.07 410.27,216.53 Q414.62,216.98 418.72,215.44 Q423.08,215.89 427.18,214.36 Q431.53,214.80 435.63,213.27 Q439.99,213.71 444.09,212.18 Q448.44,212.63 452.54,211.09 Q456.90,211.54 461.00,210.00 Q464.20,212.72 468.29,213.64 Q471.48,216.36 475.57,217.29 Q478.77,220.00 482.86,220.93 Q486.05,223.64 490.14,224.57 Q493.34,227.29 497.43,228.21 Q500.62,230.93 504.71,231.86 Q507.91,234.57 512.00,235.50 L431.50,247.10 L384.90,219.80 Z" fill="#242236"/>
<g fill="#121120" stroke="#3c3a56" stroke-width="0.4"><ellipse cx="389.87" cy="221.01" rx="1.9" ry="1.2"/><ellipse cx="395.04" cy="224.04" rx="1.9" ry="1.2"/><ellipse cx="400.22" cy="227.08" rx="1.9" ry="1.2"/><ellipse cx="405.40" cy="230.11" rx="1.9" ry="1.2"/><ellipse cx="410.58" cy="233.14" rx="1.9" ry="1.2"/><ellipse cx="415.76" cy="236.18" rx="1.9" ry="1.2"/><ellipse cx="420.93" cy="239.21" rx="1.9" ry="1.2"/><ellipse cx="426.11" cy="242.24" rx="1.9" ry="1.2"/><ellipse cx="431.29" cy="245.28" rx="1.9" ry="1.2"/><ellipse cx="394.62" cy="220.40" rx="1.9" ry="1.2"/><ellipse cx="399.80" cy="223.43" rx="1.9" ry="1.2"/><ellipse cx="404.98" cy="226.46" rx="1.9" ry="1.2"/><ellipse cx="410.16" cy="229.50" rx="1.9" ry="1.2"/><ellipse cx="415.33" cy="232.53" rx="1.9" ry="1.2"/><ellipse cx="420.51" cy="235.56" rx="1.9" ry="1.2"/><ellipse cx="425.69" cy="238.60" rx="1.9" ry="1.2"/><ellipse cx="430.87" cy="241.63" rx="1.9" ry="1.2"/><ellipse cx="436.05" cy="244.66" rx="1.9" ry="1.2"/><ellipse cx="399.38" cy="219.79" rx="1.9" ry="1.2"/><ellipse cx="404.56" cy="222.82" rx="1.9" ry="1.2"/><ellipse cx="409.74" cy="225.85" rx="1.9" ry="1.2"/><ellipse cx="414.91" cy="228.89" rx="1.9" ry="1.2"/><ellipse cx="420.09" cy="231.92" rx="1.9" ry="1.2"/><ellipse cx="425.27" cy="234.95" rx="1.9" ry="1.2"/><ellipse cx="430.45" cy="237.99" rx="1.9" ry="1.2"/><ellipse cx="435.62" cy="241.02" rx="1.9" ry="1.2"/><ellipse cx="440.80" cy="244.05" rx="1.9" ry="1.2"/><ellipse cx="404.14" cy="219.17" rx="1.9" ry="1.2"/><ellipse cx="409.31" cy="222.21" rx="1.9" ry="1.2"/><ellipse cx="414.49" cy="225.24" rx="1.9" ry="1.2"/><ellipse cx="419.67" cy="228.27" rx="1.9" ry="1.2"/><ellipse cx="424.85" cy="231.31" rx="1.9" ry="1.2"/><ellipse cx="430.02" cy="234.34" rx="1.9" ry="1.2"/><ellipse cx="435.20" cy="237.37" rx="1.9" ry="1.2"/><ellipse cx="440.38" cy="240.41" rx="1.9" ry="1.2"/><ellipse cx="445.56" cy="243.44" rx="1.9" ry="1.2"/><ellipse cx="408.89" cy="218.56" rx="1.9" ry="1.2"/><ellipse cx="414.07" cy="221.59" rx="1.9" ry="1.2"/><ellipse cx="419.25" cy="224.63" rx="1.9" ry="1.2"/><ellipse cx="424.43" cy="227.66" rx="1.9" ry="1.2"/><ellipse cx="429.60" cy="230.69" rx="1.9" ry="1.2"/><ellipse cx="434.78" cy="233.73" rx="1.9" ry="1.2"/><ellipse cx="439.96" cy="236.76" rx="1.9" ry="1.2"/><ellipse cx="445.14" cy="239.79" rx="1.9" ry="1.2"/><ellipse cx="450.31" cy="242.83" rx="1.9" ry="1.2"/><ellipse cx="413.65" cy="217.95" rx="1.9" ry="1.2"/><ellipse cx="418.83" cy="220.98" rx="1.9" ry="1.2"/><ellipse cx="424.00" cy="224.01" rx="1.9" ry="1.2"/><ellipse cx="429.18" cy="227.05" rx="1.9" ry="1.2"/><ellipse cx="434.36" cy="230.08" rx="1.9" ry="1.2"/><ellipse cx="439.54" cy="233.11" rx="1.9" ry="1.2"/><ellipse cx="444.71" cy="236.15" rx="1.9" ry="1.2"/><ellipse cx="449.89" cy="239.18" rx="1.9" ry="1.2"/><ellipse cx="455.07" cy="242.21" rx="1.9" ry="1.2"/><ellipse cx="418.40" cy="217.34" rx="1.9" ry="1.2"/><ellipse cx="423.58" cy="220.37" rx="1.9" ry="1.2"/><ellipse cx="428.76" cy="223.40" rx="1.9" ry="1.2"/><ellipse cx="433.94" cy="226.44" rx="1.9" ry="1.2"/><ellipse cx="439.12" cy="229.47" rx="1.9" ry="1.2"/><ellipse cx="444.29" cy="232.50" rx="1.9" ry="1.2"/><ellipse cx="449.47" cy="235.54" rx="1.9" ry="1.2"/><ellipse cx="454.65" cy="238.57" rx="1.9" ry="1.2"/><ellipse cx="459.83" cy="241.60" rx="1.9" ry="1.2"/><ellipse cx="423.16" cy="216.72" rx="1.9" ry="1.2"/><ellipse cx="428.34" cy="219.76" rx="1.9" ry="1.2"/><ellipse cx="433.52" cy="222.79" rx="1.9" ry="1.2"/><ellipse cx="438.69" cy="225.82" rx="1.9" ry="1.2"/><ellipse cx="443.87" cy="228.86" rx="1.9" ry="1.2"/><ellipse cx="449.05" cy="231.89" rx="1.9" ry="1.2"/><ellipse cx="454.23" cy="234.92" rx="1.9" ry="1.2"/><ellipse cx="459.41" cy="237.96" rx="1.9" ry="1.2"/><ellipse cx="464.58" cy="240.99" rx="1.9" ry="1.2"/><ellipse cx="427.92" cy="216.11" rx="1.9" ry="1.2"/><ellipse cx="433.09" cy="219.14" rx="1.9" ry="1.2"/><ellipse cx="438.27" cy="222.18" rx="1.9" ry="1.2"/><ellipse cx="443.45" cy="225.21" rx="1.9" ry="1.2"/><ellipse cx="448.63" cy="228.24" rx="1.9" ry="1.2"/><ellipse cx="453.81" cy="231.28" rx="1.9" ry="1.2"/><ellipse cx="458.98" cy="234.31" rx="1.9" ry="1.2"/><ellipse cx="464.16" cy="237.34" rx="1.9" ry="1.2"/><ellipse cx="469.34" cy="240.38" rx="1.9" ry="1.2"/><ellipse cx="432.67" cy="215.50" rx="1.9" ry="1.2"/><ellipse cx="437.85" cy="218.53" rx="1.9" ry="1.2"/><ellipse cx="443.03" cy="221.56" rx="1.9" ry="1.2"/><ellipse cx="448.21" cy="224.60" rx="1.9" ry="1.2"/><ellipse cx="453.38" cy="227.63" rx="1.9" ry="1.2"/><ellipse cx="458.56" cy="230.66" rx="1.9" ry="1.2"/><ellipse cx="463.74" cy="233.70" rx="1.9" ry="1.2"/><ellipse cx="468.92" cy="236.73" rx="1.9" ry="1.2"/><ellipse cx="474.10" cy="239.76" rx="1.9" ry="1.2"/><ellipse cx="437.43" cy="214.89" rx="1.9" ry="1.2"/><ellipse cx="442.61" cy="217.92" rx="1.9" ry="1.2"/><ellipse cx="447.79" cy="220.95" rx="1.9" ry="1.2"/><ellipse cx="452.96" cy="223.99" rx="1.9" ry="1.2"/><ellipse cx="458.14" cy="227.02" rx="1.9" ry="1.2"/><ellipse cx="463.32" cy="230.05" rx="1.9" ry="1.2"/><ellipse cx="468.50" cy="233.09" rx="1.9" ry="1.2"/><ellipse cx="473.67" cy="236.12" rx="1.9" ry="1.2"/><ellipse cx="478.85" cy="239.15" rx="1.9" ry="1.2"/><ellipse cx="442.19" cy="214.27" rx="1.9" ry="1.2"/><ellipse cx="447.36" cy="217.31" rx="1.9" ry="1.2"/><ellipse cx="452.54" cy="220.34" rx="1.9" ry="1.2"/><ellipse cx="457.72" cy="223.37" rx="1.9" ry="1.2"/><ellipse cx="462.90" cy="226.41" rx="1.9" ry="1.2"/><ellipse cx="468.07" cy="229.44" rx="1.9" ry="1.2"/><ellipse cx="473.25" cy="232.47" rx="1.9" ry="1.2"/><ellipse cx="478.43" cy="235.51" rx="1.9" ry="1.2"/><ellipse cx="483.61" cy="238.54" rx="1.9" ry="1.2"/><ellipse cx="446.94" cy="213.66" rx="1.9" ry="1.2"/><ellipse cx="452.12" cy="216.69" rx="1.9" ry="1.2"/><ellipse cx="457.30" cy="219.73" rx="1.9" ry="1.2"/><ellipse cx="462.48" cy="222.76" rx="1.9" ry="1.2"/><ellipse cx="467.65" cy="225.79" rx="1.9" ry="1.2"/><ellipse cx="472.83" cy="228.83" rx="1.9" ry="1.2"/><ellipse cx="478.01" cy="231.86" rx="1.9" ry="1.2"/><ellipse cx="483.19" cy="234.89" rx="1.9" ry="1.2"/><ellipse cx="488.36" cy="237.93" rx="1.9" ry="1.2"/><ellipse cx="451.70" cy="213.05" rx="1.9" ry="1.2"/><ellipse cx="456.88" cy="216.08" rx="1.9" ry="1.2"/><ellipse cx="462.05" cy="219.11" rx="1.9" ry="1.2"/><ellipse cx="467.23" cy="222.15" rx="1.9" ry="1.2"/><ellipse cx="472.41" cy="225.18" rx="1.9" ry="1.2"/><ellipse cx="477.59" cy="228.21" rx="1.9" ry="1.2"/><ellipse cx="482.76" cy="231.25" rx="1.9" ry="1.2"/><ellipse cx="487.94" cy="234.28" rx="1.9" ry="1.2"/><ellipse cx="493.12" cy="237.31" rx="1.9" ry="1.2"/><ellipse cx="456.45" cy="212.44" rx="1.9" ry="1.2"/><ellipse cx="461.63" cy="215.47" rx="1.9" ry="1.2"/><ellipse cx="466.81" cy="218.50" rx="1.9" ry="1.2"/><ellipse cx="471.99" cy="221.54" rx="1.9" ry="1.2"/><ellipse cx="477.17" cy="224.57" rx="1.9" ry="1.2"/><ellipse cx="482.34" cy="227.60" rx="1.9" ry="1.2"/><ellipse cx="487.52" cy="230.64" rx="1.9" ry="1.2"/><ellipse cx="492.70" cy="233.67" rx="1.9" ry="1.2"/><ellipse cx="497.88" cy="236.70" rx="1.9" ry="1.2"/><ellipse cx="461.21" cy="211.82" rx="1.9" ry="1.2"/><ellipse cx="466.39" cy="214.86" rx="1.9" ry="1.2"/><ellipse cx="471.57" cy="217.89" rx="1.9" ry="1.2"/><ellipse cx="476.74" cy="220.92" rx="1.9" ry="1.2"/><ellipse cx="481.92" cy="223.96" rx="1.9" ry="1.2"/><ellipse cx="487.10" cy="226.99" rx="1.9" ry="1.2"/><ellipse cx="492.28" cy="230.02" rx="1.9" ry="1.2"/><ellipse cx="497.46" cy="233.06" rx="1.9" ry="1.2"/><ellipse cx="502.63" cy="236.09" rx="1.9" ry="1.2"/></g>
<path d="M431.50,247.10 L512.00,235.50 Q510.92,238.68 511.84,241.90 Q510.76,245.08 511.68,248.30 Q510.60,251.48 511.52,254.70 Q510.44,257.88 511.36,261.10 Q510.28,264.28 511.20,267.50 Q506.60,267.12 502.43,269.10 Q497.83,268.72 493.67,270.70 Q489.07,270.32 484.90,272.30 Q480.30,271.92 476.13,273.90 Q471.53,273.52 467.37,275.50 Q462.77,275.12 458.60,277.10 Q454.00,276.72 449.83,278.70 Q445.23,278.32 441.07,280.30 Q436.47,279.92 432.30,281.90 Z" fill="#0d0c18"/>
<path d="M431.66,254.06 L512.16,242.46 M431.82,261.02 L512.32,249.42 M431.98,267.98 L512.48,256.38 M432.14,274.94 L512.64,263.34" stroke="#3a3a52" stroke-width="0.5" stroke-dasharray="1.2,0.8" fill="none"/>
<g fill="#b0b0c0" fill-opacity="0.80"><circle cx="436.61" cy="249.85" r="0.55"/><circle cx="436.77" cy="256.81" r="0.55"/><circle cx="436.93" cy="263.77" r="0.55"/><circle cx="437.09" cy="270.74" r="0.55"/><circle cx="437.25" cy="277.69" r="0.55"/><circle cx="446.67" cy="248.40" r="0.55"/><circle cx="446.83" cy="255.36" r="0.55"/><circle cx="446.99" cy="262.32" r="0.55"/><circle cx="447.15" cy="269.28" r="0.55"/><circle cx="447.31" cy="276.24" r="0.55"/><circle cx="456.74" cy="246.95" r="0.55"/><circle cx="456.90" cy="253.91" r="0.55"/><circle cx="457.06" cy="260.88" r="0.55"/><circle cx="457.22" cy="267.83" r="0.55"/><circle cx="457.38" cy="274.79" r="0.55"/><circle cx="466.80" cy="245.50" r="0.55"/><circle cx="466.96" cy="252.47" r="0.55"/><circle cx="467.12" cy="259.43" r="0.55"/><circle cx="467.28" cy="266.38" r="0.55"/><circle cx="467.44" cy="273.34" r="0.55"/><circle cx="476.86" cy="244.05" r="0.55"/><circle cx="477.02" cy="251.01" r="0.55"/><circle cx="477.18" cy="257.97" r="0.55"/><circle cx="477.34" cy="264.93" r="0.55"/><circle cx="477.50" cy="271.89" r="0.55"/><circle cx="486.92" cy="242.60" r="0.55"/><circle cx="487.08" cy="249.56" r="0.55"/><circle cx="487.24" cy="256.52" r="0.55"/><circle cx="487.40" cy="263.49" r="0.55"/><circle cx="487.56" cy="270.44" r="0.55"/><circle cx="496.99" cy="241.16" r="0.55"/><circle cx="497.15" cy="248.12" r="0.55"/><circle cx="497.31" cy="255.07" r="0.55"/><circle cx="497.47" cy="262.03" r="0.55"/><circle cx="497.63" cy="269.00" r="0.55"/><circle cx="507.05" cy="239.70" r="0.55"/><circle cx="507.21" cy="246.66" r="0.55"/><circle cx="507.37" cy="253.62" r="0.55"/><circle cx="507.53" cy="260.58" r="0.55"/><circle cx="507.69" cy="267.54" r="0.55"/></g>
<g fill="#60607a" fill-opacity="0.60"><circle cx="431.50" cy="247.10" r="0.45"/><circle cx="431.66" cy="254.06" r="0.45"/><circle cx="431.82" cy="261.02" r="0.45"/><circle cx="431.98" cy="267.98" r="0.45"/><circle cx="432.14" cy="274.94" r="0.45"/><circle cx="441.56" cy="245.65" r="0.45"/><circle cx="441.72" cy="252.61" r="0.45"/><circle cx="441.88" cy="259.57" r="0.45"/><circle cx="442.04" cy="266.53" r="0.45"/><circle cx="442.20" cy="273.49" r="0.45"/><circle cx="451.62" cy="244.20" r="0.45"/><circle cx="451.79" cy="251.16" r="0.45"/><circle cx="451.94" cy="258.12" r="0.45"/><circle cx="452.11" cy="265.08" r="0.45"/><circle cx="452.26" cy="272.04" r="0.45"/><circle cx="461.69" cy="242.75" r="0.45"/><circle cx="461.85" cy="249.71" r="0.45"/><circle cx="462.01" cy="256.67" r="0.45"/><circle cx="462.17" cy="263.63" r="0.45"/><circle cx="462.33" cy="270.59" r="0.45"/><circle cx="471.75" cy="241.30" r="0.45"/><circle cx="471.91" cy="248.26" r="0.45"/><circle cx="472.07" cy="255.22" r="0.45"/><circle cx="472.23" cy="262.18" r="0.45"/><circle cx="472.39" cy="269.14" r="0.45"/><circle cx="481.81" cy="239.85" r="0.45"/><circle cx="481.97" cy="246.81" r="0.45"/><circle cx="482.13" cy="253.77" r="0.45"/><circle cx="482.29" cy="260.73" r="0.45"/><circle cx="482.45" cy="267.69" r="0.45"/><circle cx="491.88" cy="238.40" r="0.45"/><circle cx="492.04" cy="245.36" r="0.45"/><circle cx="492.19" cy="252.32" r="0.45"/><circle cx="492.36" cy="259.28" r="0.45"/><circle cx="492.51" cy="266.24" r="0.45"/><circle cx="501.94" cy="236.95" r="0.45"/><circle cx="502.10" cy="243.91" r="0.45"/><circle cx="502.26" cy="250.87" r="0.45"/><circle cx="502.42" cy="257.83" r="0.45"/><circle cx="502.58" cy="264.79" r="0.45"/></g>
<path d="M384.90,219.80 L431.50,247.10 L432.30,281.90 L385.50,252.40 Z" fill="#0f0e1a"/>
<path d="M387.81,222.51 L388.43,253.24 M390.72,224.21 L391.35,255.09 M393.64,225.92 L394.27,256.93 M396.55,227.62 L397.20,258.77 M399.46,229.33 L400.12,260.62 M402.38,231.04 L403.05,262.46 M405.29,232.74 L405.98,264.31 M408.20,234.45 L408.90,266.15 M411.11,236.16 L411.82,267.99 M414.02,237.86 L414.75,269.84 M416.94,239.57 L417.68,271.68 M419.85,241.28 L420.60,273.52 M422.76,242.98 L423.52,275.37 M425.68,244.69 L426.45,277.21 M428.59,246.39 L429.38,279.06" stroke="#6a6a84" stroke-width="0.45" stroke-dasharray="1.0,0.7" fill="none"/>
<line x1="407.7" y1="235.6" x2="407.7" y2="266.1" stroke="#d02020" stroke-width="0.7" stroke-dasharray="1.2,1"/>
<path d="M384.90,219.80 L431.50,247.10 L432.30,281.90 L385.50,252.40 Z" fill="none" stroke="#5e96d8" stroke-width="1.2"/>
<defs><filter id="gblur" x="-0.2" y="-0.2" width="1.4" height="1.4"><feGaussianBlur stdDeviation="0.45"/></filter><filter id="gblur2" x="-0.2" y="-0.2" width="1.4" height="1.4"><feGaussianBlur stdDeviation="0.3"/></filter></defs>
<defs><clipPath id="topface"><path d="M384.90,219.80 L461.00,210.00 L512.00,235.50 L431.50,247.10 Z"/></clipPath></defs>
<g clip-path="url(#topface)"><g stroke-width="1.1" fill="none" filter="url(#gblur2)"><path d="M410.58,231.24 l0,3.8 M408.98,233.14 l3.2,0" stroke="#6f20c8" stroke-opacity="0.74"/><path d="M415.76,234.28 l0,3.8 M414.16,236.18 l3.2,0" stroke="#8f26cd" stroke-opacity="0.85"/><path d="M420.93,237.31 l0,3.8 M419.33,239.21 l3.2,0" stroke="#7221cb" stroke-opacity="0.75"/><path d="M415.33,230.63 l0,3.8 M413.73,232.53 l3.2,0" stroke="#7221cb" stroke-opacity="0.75"/><path d="M420.51,233.66 l0,3.8 M418.91,235.56 l3.2,0" stroke="#9026cc" stroke-opacity="0.85"/><path d="M425.69,236.70 l0,3.8 M424.09,238.60 l3.2,0" stroke="#7021c8" stroke-opacity="0.74"/><path d="M420.09,230.02 l0,3.8 M418.49,231.92 l3.2,0" stroke="#7622cf" stroke-opacity="0.77"/><path d="M425.27,233.05 l0,3.8 M423.67,234.95 l3.2,0" stroke="#9126cc" stroke-opacity="0.86"/><path d="M430.45,236.09 l0,3.8 M428.85,237.99 l3.2,0" stroke="#6f20c7" stroke-opacity="0.73"/><path d="M424.85,229.41 l0,3.8 M423.25,231.31 l3.2,0" stroke="#7c23d1" stroke-opacity="0.80"/><path d="M430.02,232.44 l0,3.8 M428.42,234.34 l3.2,0" stroke="#9426cb" stroke-opacity="0.86"/><path d="M435.20,235.47 l0,3.8 M433.60,237.37 l3.2,0" stroke="#6e20c6" stroke-opacity="0.73"/><path d="M429.60,228.79 l0,3.8 M428.00,230.69 l3.2,0" stroke="#8725cf" stroke-opacity="0.83"/><path d="M434.78,231.83 l0,3.8 M433.18,233.73 l3.2,0" stroke="#9827ca" stroke-opacity="0.88"/><path d="M439.96,234.86 l0,3.8 M438.36,236.76 l3.2,0" stroke="#6e20c6" stroke-opacity="0.73"/><path d="M429.18,225.15 l0,3.8 M427.58,227.05 l3.2,0" stroke="#661ebc" stroke-opacity="0.68"/><path d="M434.36,228.18 l0,3.8 M432.76,230.08 l3.2,0" stroke="#9326cc" stroke-opacity="0.86"/><path d="M439.54,231.21 l0,3.8 M437.94,233.11 l3.2,0" stroke="#9f28c9" stroke-opacity="0.89"/><path d="M444.71,234.25 l0,3.8 M443.11,236.15 l3.2,0" stroke="#7020c8" stroke-opacity="0.74"/><path d="M433.94,224.54 l0,3.8 M432.34,226.44 l3.2,0" stroke="#6d20c5" stroke-opacity="0.72"/><path d="M439.12,227.57 l0,3.8 M437.52,229.47 l3.2,0" stroke="#a228c8" stroke-opacity="0.90"/><path d="M444.29,230.60 l0,3.8 M442.69,232.50 l3.2,0" stroke="#a729c7" stroke-opacity="0.92"/><path d="M449.47,233.64 l0,3.8 M447.87,235.54 l3.2,0" stroke="#7221cb" stroke-opacity="0.75"/><path d="M438.69,223.92 l0,3.8 M437.09,225.82 l3.2,0" stroke="#7622cf" stroke-opacity="0.77"/><path d="M443.87,226.96 l0,3.8 M442.27,228.86 l3.2,0" stroke="#b32ac4" stroke-opacity="0.95"/><path d="M449.05,229.99 l0,3.8 M447.45,231.89 l3.2,0" stroke="#b22ac4" stroke-opacity="0.95"/><path d="M454.23,233.02 l0,3.8 M452.63,234.92 l3.2,0" stroke="#7522ce" stroke-opacity="0.77"/><path d="M443.45,223.31 l0,3.8 M441.85,225.21 l3.2,0" stroke="#8925ce" stroke-opacity="0.83"/><path d="M448.63,226.34 l0,3.8 M447.03,228.24 l3.2,0" stroke="#c62cc0" stroke-opacity="1.00"/><path d="M453.81,229.38 l0,3.8 M452.21,231.28 l3.2,0" stroke="#bf2bc1" stroke-opacity="0.98"/><path d="M458.98,232.41 l0,3.8 M457.38,234.31 l3.2,0" stroke="#7b23d1" stroke-opacity="0.79"/><path d="M443.03,219.66 l0,3.8 M441.43,221.56 l3.2,0" stroke="#671ebd" stroke-opacity="0.69"/><path d="M448.21,222.70 l0,3.8 M446.61,224.60 l3.2,0" stroke="#a128c8" stroke-opacity="0.90"/><path d="M453.38,225.73 l0,3.8 M451.78,227.63 l3.2,0" stroke="#d43ea3" stroke-opacity="1.00"/><path d="M458.56,228.76 l0,3.8 M456.96,230.66 l3.2,0" stroke="#ce2fbb" stroke-opacity="1.00"/><path d="M463.74,231.80 l0,3.8 M462.14,233.70 l3.2,0" stroke="#8625cf" stroke-opacity="0.83"/><path d="M447.79,219.05 l0,3.8 M446.19,220.95 l3.2,0" stroke="#7221cb" stroke-opacity="0.75"/><path d="M452.96,222.09 l0,3.8 M451.36,223.99 l3.2,0" stroke="#be2bc2" stroke-opacity="0.98"/><path d="M458.14,225.12 l0,3.8 M456.54,227.02 l3.2,0" stroke="#e05878" stroke-opacity="1.00"/><path d="M463.32,228.15 l0,3.8 M461.72,230.05 l3.2,0" stroke="#d7439a" stroke-opacity="1.00"/><path d="M468.50,231.19 l0,3.8 M466.90,233.09 l3.2,0" stroke="#9426cb" stroke-opacity="0.87"/><path d="M473.67,234.22 l0,3.8 M472.07,236.12 l3.2,0" stroke="#621cb7" stroke-opacity="0.66"/><path d="M452.54,218.44 l0,3.8 M450.94,220.34 l3.2,0" stroke="#8725cf" stroke-opacity="0.83"/><path d="M457.72,221.47 l0,3.8 M456.12,223.37 l3.2,0" stroke="#d540a0" stroke-opacity="1.00"/><path d="M462.90,224.51 l0,3.8 M461.30,226.41 l3.2,0" stroke="#ee7747" stroke-opacity="1.00"/><path d="M468.07,227.54 l0,3.8 M466.47,229.44 l3.2,0" stroke="#e15b75" stroke-opacity="1.00"/><path d="M473.25,230.57 l0,3.8 M471.65,232.47 l3.2,0" stroke="#a628c7" stroke-opacity="0.91"/><path d="M478.43,233.61 l0,3.8 M476.83,235.51 l3.2,0" stroke="#671ebe" stroke-opacity="0.69"/><path d="M452.12,214.79 l0,3.8 M450.52,216.69 l3.2,0" stroke="#681ebf" stroke-opacity="0.69"/><path d="M457.30,217.83 l0,3.8 M455.70,219.73 l3.2,0" stroke="#a829c7" stroke-opacity="0.92"/><path d="M462.48,220.86 l0,3.8 M460.88,222.76 l3.2,0" stroke="#e76661" stroke-opacity="1.00"/><path d="M467.65,223.89 l0,3.8 M466.05,225.79 l3.2,0" stroke="#f7a150" stroke-opacity="1.00"/><path d="M472.83,226.93 l0,3.8 M471.23,228.83 l3.2,0" stroke="#ed7549" stroke-opacity="1.00"/><path d="M478.01,229.96 l0,3.8 M476.41,231.86 l3.2,0" stroke="#ba2bc2" stroke-opacity="0.97"/><path d="M483.19,232.99 l0,3.8 M481.59,234.89 l3.2,0" stroke="#6e20c6" stroke-opacity="0.73"/><path d="M456.88,214.18 l0,3.8 M455.28,216.08 l3.2,0" stroke="#7522cf" stroke-opacity="0.77"/><path d="M462.05,217.21 l0,3.8 M460.45,219.11 l3.2,0" stroke="#ce2ebc" stroke-opacity="1.00"/><path d="M467.23,220.25 l0,3.8 M465.63,222.15 l3.2,0" stroke="#f69742" stroke-opacity="1.00"/><path d="M472.41,223.28 l0,3.8 M470.81,225.18 l3.2,0" stroke="#fdda9b" stroke-opacity="1.00"/><path d="M477.59,226.31 l0,3.8 M475.99,228.21 l3.2,0" stroke="#f79b47" stroke-opacity="1.00"/><path d="M482.76,229.35 l0,3.8 M481.16,231.25 l3.2,0" stroke="#cf32b6" stroke-opacity="1.00"/><path d="M487.94,232.38 l0,3.8 M486.34,234.28 l3.2,0" stroke="#7723d0" stroke-opacity="0.78"/><path d="M456.45,210.54 l0,3.8 M454.85,212.44 l3.2,0" stroke="#621db8" stroke-opacity="0.66"/><path d="M461.63,213.57 l0,3.8 M460.03,215.47 l3.2,0" stroke="#9526cb" stroke-opacity="0.87"/><path d="M466.81,216.60 l0,3.8 M465.21,218.50 l3.2,0" stroke="#e25d71" stroke-opacity="1.00"/><path d="M471.99,219.64 l0,3.8 M470.39,221.54 l3.2,0" stroke="#fddfa1" stroke-opacity="1.00"/><path d="M477.17,222.67 l0,3.8 M475.57,224.57 l3.2,0" stroke="#fff5be" stroke-opacity="1.00"/><path d="M482.34,225.70 l0,3.8 M480.74,227.60 l3.2,0" stroke="#fcd08d" stroke-opacity="1.00"/><path d="M487.52,228.74 l0,3.8 M485.92,230.64 l3.2,0" stroke="#dc4f87" stroke-opacity="1.00"/><path d="M492.70,231.77 l0,3.8 M491.10,233.67 l3.2,0" stroke="#8a25ce" stroke-opacity="0.84"/><path d="M461.21,209.92 l0,3.8 M459.61,211.82 l3.2,0" stroke="#7020c8" stroke-opacity="0.74"/><path d="M466.39,212.96 l0,3.8 M464.79,214.86 l3.2,0" stroke="#be2bc2" stroke-opacity="0.98"/><path d="M471.57,215.99 l0,3.8 M469.97,217.89 l3.2,0" stroke="#f69742" stroke-opacity="1.00"/><path d="M476.74,219.02 l0,3.8 M475.14,220.92 l3.2,0" stroke="#fff5be" stroke-opacity="1.00"/><path d="M481.92,222.06 l0,3.8 M480.32,223.96 l3.2,0" stroke="#fff5be" stroke-opacity="1.00"/><path d="M487.10,225.09 l0,3.8 M485.50,226.99 l3.2,0" stroke="#fff5be" stroke-opacity="1.00"/><path d="M492.28,228.12 l0,3.8 M490.68,230.02 l3.2,0" stroke="#eb7051" stroke-opacity="1.00"/><path d="M497.46,231.16 l0,3.8 M495.86,233.06 l3.2,0" stroke="#a228c8" stroke-opacity="0.90"/><path d="M502.63,234.19 l0,3.8 M501.03,236.09 l3.2,0" stroke="#671ebd" stroke-opacity="0.69"/></g></g>
<line x1="417.33" y1="232.27" x2="480.50" y2="224.14" stroke="#30b050" stroke-width="0.6" stroke-dasharray="1.2,1.6" stroke-opacity="0.8"/>
<defs><filter id="gblur3" x="-0.5" y="-0.8" width="2" height="2.6"><feGaussianBlur stdDeviation="1.3"/></filter></defs>
<g clip-path="url(#topface)"><ellipse cx="482" cy="224" rx="8" ry="3.4" fill="#e8702a" fill-opacity="0.6" filter="url(#gblur3)"/><ellipse cx="484" cy="223.2" rx="4" ry="1.6" fill="#fff0b8" fill-opacity="0.8" filter="url(#gblur3)"/></g>
<g fill="#3c3a5a" fill-opacity="0.70"><circle cx="384.90" cy="219.80" r="0.50"/><circle cx="390.72" cy="223.21" r="0.50"/><circle cx="396.55" cy="226.62" r="0.50"/><circle cx="402.38" cy="230.04" r="0.50"/><circle cx="408.20" cy="233.45" r="0.50"/><circle cx="414.02" cy="236.86" r="0.50"/><circle cx="419.85" cy="240.28" r="0.50"/><circle cx="425.68" cy="243.69" r="0.50"/><circle cx="390.34" cy="219.10" r="0.50"/><circle cx="396.16" cy="222.51" r="0.50"/><circle cx="401.99" cy="225.93" r="0.50"/><circle cx="407.81" cy="229.34" r="0.50"/><circle cx="413.64" cy="232.75" r="0.50"/><circle cx="419.46" cy="236.16" r="0.50"/><circle cx="425.29" cy="239.58" r="0.50"/><circle cx="431.11" cy="242.99" r="0.50"/><circle cx="395.77" cy="218.40" r="0.50"/><circle cx="401.60" cy="221.81" r="0.50"/><circle cx="407.42" cy="225.22" r="0.50"/><circle cx="413.25" cy="228.64" r="0.50"/><circle cx="419.07" cy="232.05" r="0.50"/><circle cx="424.90" cy="235.46" r="0.50"/><circle cx="430.72" cy="238.88" r="0.50"/><circle cx="436.55" cy="242.29" r="0.50"/><circle cx="401.21" cy="217.70" r="0.50"/><circle cx="407.03" cy="221.11" r="0.50"/><circle cx="412.86" cy="224.53" r="0.50"/><circle cx="418.68" cy="227.94" r="0.50"/><circle cx="424.51" cy="231.35" r="0.50"/><circle cx="430.33" cy="234.76" r="0.50"/><circle cx="436.16" cy="238.18" r="0.50"/><circle cx="441.98" cy="241.59" r="0.50"/><circle cx="406.64" cy="217.00" r="0.50"/><circle cx="412.47" cy="220.41" r="0.50"/><circle cx="418.29" cy="223.82" r="0.50"/><circle cx="424.12" cy="227.24" r="0.50"/><circle cx="429.94" cy="230.65" r="0.50"/><circle cx="435.77" cy="234.06" r="0.50"/><circle cx="441.59" cy="237.47" r="0.50"/><circle cx="447.42" cy="240.89" r="0.50"/><circle cx="412.08" cy="216.30" r="0.50"/><circle cx="417.90" cy="219.71" r="0.50"/><circle cx="423.73" cy="223.12" r="0.50"/><circle cx="429.55" cy="226.54" r="0.50"/><circle cx="435.38" cy="229.95" r="0.50"/><circle cx="441.20" cy="233.36" r="0.50"/><circle cx="447.03" cy="236.78" r="0.50"/><circle cx="452.85" cy="240.19" r="0.50"/><circle cx="417.51" cy="215.60" r="0.50"/><circle cx="423.34" cy="219.01" r="0.50"/><circle cx="429.16" cy="222.42" r="0.50"/><circle cx="434.99" cy="225.84" r="0.50"/><circle cx="440.81" cy="229.25" r="0.50"/><circle cx="446.64" cy="232.66" r="0.50"/><circle cx="452.46" cy="236.07" r="0.50"/><circle cx="458.29" cy="239.49" r="0.50"/><circle cx="422.95" cy="214.90" r="0.50"/><circle cx="428.77" cy="218.31" r="0.50"/><circle cx="434.60" cy="221.72" r="0.50"/><circle cx="440.43" cy="225.14" r="0.50"/><circle cx="446.25" cy="228.55" r="0.50"/><circle cx="452.07" cy="231.96" r="0.50"/><circle cx="457.90" cy="235.38" r="0.50"/><circle cx="463.73" cy="238.79" r="0.50"/><circle cx="428.39" cy="214.20" r="0.50"/><circle cx="434.21" cy="217.61" r="0.50"/><circle cx="440.04" cy="221.03" r="0.50"/><circle cx="445.86" cy="224.44" r="0.50"/><circle cx="451.69" cy="227.85" r="0.50"/><circle cx="457.51" cy="231.26" r="0.50"/><circle cx="463.34" cy="234.68" r="0.50"/><circle cx="469.16" cy="238.09" r="0.50"/><circle cx="433.82" cy="213.50" r="0.50"/><circle cx="439.65" cy="216.91" r="0.50"/><circle cx="445.47" cy="220.32" r="0.50"/><circle cx="451.30" cy="223.74" r="0.50"/><circle cx="457.12" cy="227.15" r="0.50"/><circle cx="462.95" cy="230.56" r="0.50"/><circle cx="468.77" cy="233.97" r="0.50"/><circle cx="474.60" cy="237.39" r="0.50"/><circle cx="439.26" cy="212.80" r="0.50"/><circle cx="445.08" cy="216.21" r="0.50"/><circle cx="450.91" cy="219.62" r="0.50"/><circle cx="456.73" cy="223.04" r="0.50"/><circle cx="462.56" cy="226.45" r="0.50"/><circle cx="468.38" cy="229.86" r="0.50"/><circle cx="474.21" cy="233.28" r="0.50"/><circle cx="480.03" cy="236.69" r="0.50"/><circle cx="444.69" cy="212.10" r="0.50"/><circle cx="450.52" cy="215.51" r="0.50"/><circle cx="456.34" cy="218.92" r="0.50"/><circle cx="462.17" cy="222.34" r="0.50"/><circle cx="467.99" cy="225.75" r="0.50"/><circle cx="473.82" cy="229.16" r="0.50"/><circle cx="479.64" cy="232.57" r="0.50"/><circle cx="485.47" cy="235.99" r="0.50"/><circle cx="450.13" cy="211.40" r="0.50"/><circle cx="455.95" cy="214.81" r="0.50"/><circle cx="461.78" cy="218.22" r="0.50"/><circle cx="467.60" cy="221.64" r="0.50"/><circle cx="473.43" cy="225.05" r="0.50"/><circle cx="479.25" cy="228.46" r="0.50"/><circle cx="485.08" cy="231.88" r="0.50"/><circle cx="490.90" cy="235.29" r="0.50"/><circle cx="455.56" cy="210.70" r="0.50"/><circle cx="461.39" cy="214.11" r="0.50"/><circle cx="467.21" cy="217.52" r="0.50"/><circle cx="473.04" cy="220.94" r="0.50"/><circle cx="478.86" cy="224.35" r="0.50"/><circle cx="484.69" cy="227.76" r="0.50"/><circle cx="490.51" cy="231.17" r="0.50"/><circle cx="496.34" cy="234.59" r="0.50"/></g>
<text x="446.7" y="241.6" font-family="Liberation Sans, sans-serif" font-size="8.2" fill="#e8e8f0" text-anchor="middle">Top</text>
<path d="M488.40,220.50 L494.86,216.32 L493.65,218.42 L505.31,216.71 L505.69,219.29 L494.03,220.99 L495.79,222.65 Z" fill="#1fae3c"/>
<line x1="431.60" y1="278.50" x2="431.60" y2="267.90" stroke="#f6f6f6" stroke-width="1.0"/>
<path d="M431.60,264.30 L433.30,267.90 L429.90,267.90 Z" fill="#f6f6f6"/>
<line x1="431.60" y1="278.50" x2="439.27" y2="276.92" stroke="#f6f6f6" stroke-width="1.0"/>
<path d="M442.80,276.20 L439.62,278.59 L438.93,275.26 Z" fill="#f6f6f6"/>
<line x1="431.60" y1="278.50" x2="422.99" y2="272.71" stroke="#f6f6f6" stroke-width="1.0"/>
<path d="M420.00,270.70 L423.94,271.30 L422.04,274.12 Z" fill="#f6f6f6"/>
<text x="436.20" y="262.80" font-family="Liberation Sans, sans-serif" font-size="8.2" font-style="italic" fill="#f6f6f6" text-anchor="middle">z</text>
<text x="449.60" y="276.20" font-family="Liberation Sans, sans-serif" font-size="8.2" font-style="italic" fill="#f6f6f6" text-anchor="middle">x</text>
<text x="421.00" y="268.00" font-family="Liberation Sans, sans-serif" font-size="8.2" font-style="italic" fill="#f6f6f6" text-anchor="middle">y</text>
<path d="M431.90,287.40 L504.10,297.80 Q505.34,301.16 504.58,304.66 Q505.82,308.02 505.06,311.52 Q506.30,314.88 505.54,318.38 Q506.78,321.74 506.02,325.24 Q507.26,328.60 506.50,332.10 L431.40,321.00 Z" fill="#18161f"/>
<g fill="#2c2b3c"><path d="M432.96,288.90 L439.10,289.78 L438.64,320.70 L432.50,319.81 Z" /><path d="M441.99,290.20 L448.12,291.08 L447.66,322.00 L441.53,321.11 Z" /><path d="M451.01,291.50 L457.15,292.38 L456.69,323.30 L450.55,322.41 Z" /><path d="M460.04,292.80 L466.18,293.68 L465.71,324.60 L459.58,323.71 Z" /><path d="M469.06,294.10 L475.20,294.98 L474.74,325.90 L468.60,325.01 Z" /><path d="M478.09,295.40 L484.23,296.28 L483.76,327.20 L477.63,326.31 Z" /><path d="M487.11,296.70 L493.25,297.58 L492.79,328.50 L486.65,327.61 Z" /><path d="M496.14,298.00 L502.28,298.88 L501.81,329.80 L495.68,328.91 Z" /></g>
<g stroke="#8c8aa0" stroke-width="0.55" fill="none" stroke-opacity="0.85"><path d="M433.83,289.98 q1.0,-1.2 2.0,0 t2.0,0"/><path d="M433.78,293.34 q1.0,-1.2 2.0,0 t2.0,0"/><path d="M433.73,296.70 q1.0,-1.2 2.0,0 t2.0,0"/><path d="M433.68,300.06 q1.0,-1.2 2.0,0 t2.0,0"/><path d="M433.63,303.42 q1.0,-1.2 2.0,0 t2.0,0"/><path d="M433.58,306.78 q1.0,-1.2 2.0,0 t2.0,0"/><path d="M433.53,310.14 q1.0,-1.2 2.0,0 t2.0,0"/><path d="M433.48,313.50 q1.0,-1.2 2.0,0 t2.0,0"/><path d="M433.43,316.86 q1.0,-1.2 2.0,0 t2.0,0"/><path d="M433.38,320.22 q1.0,-1.2 2.0,0 t2.0,0"/><path d="M442.85,291.28 q1.0,-1.2 2.0,0 t2.0,0"/><path d="M442.80,294.64 q1.0,-1.2 2.0,0 t2.0,0"/><path d="M442.75,298.00 q1.0,-1.2 2.0,0 t2.0,0"/><path d="M442.70,301.36 q1.0,-1.2 2.0,0 t2.0,0"/><path d="M442.65,304.72 q1.0,-1.2 2.0,0 t2.0,0"/><path d="M442.60,308.08 q1.0,-1.2 2.0,0 t2.0,0"/><path d="M442.55,311.44 q1.0,-1.2 2.0,0 t2.0,0"/><path d="M442.50,314.80 q1.0,-1.2 2.0,0 t2.0,0"/><path d="M442.45,318.16 q1.0,-1.2 2.0,0 t2.0,0"/><path d="M442.40,321.52 q1.0,-1.2 2.0,0 t2.0,0"/><path d="M451.88,292.58 q1.0,-1.2 2.0,0 t2.0,0"/><path d="M451.83,295.94 q1.0,-1.2 2.0,0 t2.0,0"/><path d="M451.78,299.30 q1.0,-1.2 2.0,0 t2.0,0"/><path d="M451.73,302.66 q1.0,-1.2 2.0,0 t2.0,0"/><path d="M451.68,306.02 q1.0,-1.2 2.0,0 t2.0,0"/><path d="M451.63,309.38 q1.0,-1.2 2.0,0 t2.0,0"/><path d="M451.58,312.74 q1.0,-1.2 2.0,0 t2.0,0"/><path d="M451.53,316.10 q1.0,-1.2 2.0,0 t2.0,0"/><path d="M451.48,319.46 q1.0,-1.2 2.0,0 t2.0,0"/><path d="M451.43,322.82 q1.0,-1.2 2.0,0 t2.0,0"/><path d="M460.90,293.88 q1.0,-1.2 2.0,0 t2.0,0"/><path d="M460.85,297.24 q1.0,-1.2 2.0,0 t2.0,0"/><path d="M460.80,300.60 q1.0,-1.2 2.0,0 t2.0,0"/><path d="M460.75,303.96 q1.0,-1.2 2.0,0 t2.0,0"/><path d="M460.70,307.32 q1.0,-1.2 2.0,0 t2.0,0"/><path d="M460.65,310.68 q1.0,-1.2 2.0,0 t2.0,0"/><path d="M460.60,314.04 q1.0,-1.2 2.0,0 t2.0,0"/><path d="M460.55,317.40 q1.0,-1.2 2.0,0 t2.0,0"/><path d="M460.50,320.76 q1.0,-1.2 2.0,0 t2.0,0"/><path d="M460.45,324.12 q1.0,-1.2 2.0,0 t2.0,0"/><path d="M469.93,295.18 q1.0,-1.2 2.0,0 t2.0,0"/><path d="M469.88,298.54 q1.0,-1.2 2.0,0 t2.0,0"/><path d="M469.83,301.90 q1.0,-1.2 2.0,0 t2.0,0"/><path d="M469.78,305.26 q1.0,-1.2 2.0,0 t2.0,0"/><path d="M469.73,308.62 q1.0,-1.2 2.0,0 t2.0,0"/><path d="M469.68,311.98 q1.0,-1.2 2.0,0 t2.0,0"/><path d="M469.63,315.34 q1.0,-1.2 2.0,0 t2.0,0"/><path d="M469.58,318.70 q1.0,-1.2 2.0,0 t2.0,0"/><path d="M469.53,322.06 q1.0,-1.2 2.0,0 t2.0,0"/><path d="M469.48,325.42 q1.0,-1.2 2.0,0 t2.0,0"/><path d="M478.95,296.48 q1.0,-1.2 2.0,0 t2.0,0"/><path d="M478.90,299.84 q1.0,-1.2 2.0,0 t2.0,0"/><path d="M478.85,303.20 q1.0,-1.2 2.0,0 t2.0,0"/><path d="M478.80,306.56 q1.0,-1.2 2.0,0 t2.0,0"/><path d="M478.75,309.92 q1.0,-1.2 2.0,0 t2.0,0"/><path d="M478.70,313.28 q1.0,-1.2 2.0,0 t2.0,0"/><path d="M478.65,316.64 q1.0,-1.2 2.0,0 t2.0,0"/><path d="M478.60,320.00 q1.0,-1.2 2.0,0 t2.0,0"/><path d="M478.55,323.36 q1.0,-1.2 2.0,0 t2.0,0"/><path d="M478.50,326.72 q1.0,-1.2 2.0,0 t2.0,0"/><path d="M487.98,297.78 q1.0,-1.2 2.0,0 t2.0,0"/><path d="M487.93,301.14 q1.0,-1.2 2.0,0 t2.0,0"/><path d="M487.88,304.50 q1.0,-1.2 2.0,0 t2.0,0"/><path d="M487.83,307.86 q1.0,-1.2 2.0,0 t2.0,0"/><path d="M487.78,311.22 q1.0,-1.2 2.0,0 t2.0,0"/><path d="M487.73,314.58 q1.0,-1.2 2.0,0 t2.0,0"/><path d="M487.68,317.94 q1.0,-1.2 2.0,0 t2.0,0"/><path d="M487.63,321.30 q1.0,-1.2 2.0,0 t2.0,0"/><path d="M487.58,324.66 q1.0,-1.2 2.0,0 t2.0,0"/><path d="M487.53,328.02 q1.0,-1.2 2.0,0 t2.0,0"/><path d="M497.00,299.08 q1.0,-1.2 2.0,0 t2.0,0"/><path d="M496.95,302.44 q1.0,-1.2 2.0,0 t2.0,0"/><path d="M496.90,305.80 q1.0,-1.2 2.0,0 t2.0,0"/><path d="M496.85,309.16 q1.0,-1.2 2.0,0 t2.0,0"/><path d="M496.80,312.52 q1.0,-1.2 2.0,0 t2.0,0"/><path d="M496.75,315.88 q1.0,-1.2 2.0,0 t2.0,0"/><path d="M496.70,319.24 q1.0,-1.2 2.0,0 t2.0,0"/><path d="M496.65,322.60 q1.0,-1.2 2.0,0 t2.0,0"/><path d="M496.60,325.96 q1.0,-1.2 2.0,0 t2.0,0"/><path d="M496.55,329.32 q1.0,-1.2 2.0,0 t2.0,0"/></g>
<path d="M380.20,315.80 L431.90,287.40 L431.40,321.00 L380.20,347.10 Z" fill="#100f1a"/>
<path d="M383.43,315.03 L383.40,344.47 M386.66,313.25 L386.60,342.84 M389.89,311.48 L389.80,341.21 M393.12,309.70 L393.00,339.58 M396.36,307.93 L396.20,337.94 M399.59,306.15 L399.40,336.31 M402.82,304.38 L402.60,334.68 M406.05,302.60 L405.80,333.05 M409.28,300.82 L409.00,331.42 M412.51,299.05 L412.20,329.79 M415.74,297.27 L415.40,328.16 M418.97,295.50 L418.60,326.52 M422.21,293.72 L421.80,324.89 M425.44,291.95 L425.00,323.26 M428.67,290.17 L428.20,321.63" stroke="#4a4a60" stroke-width="0.3" stroke-dasharray="0.8,0.9" fill="none"/>
<line x1="404.6" y1="302.8" x2="404.6" y2="334.8" stroke="#d02020" stroke-width="0.7" stroke-dasharray="1.2,1"/>
<path d="M380.20,315.80 L431.90,287.40 L431.40,321.00 L380.20,347.10 Z" fill="none" stroke="#5e96d8" stroke-width="1.2"/>
<path d="M380.20,347.10 L431.40,321.00 L506.50,332.10 Q503.27,334.75 499.19,335.59 Q495.96,338.23 491.87,339.07 Q488.64,341.72 484.56,342.56 Q481.33,345.20 477.24,346.04 Q474.02,348.69 469.93,349.53 Q466.70,352.17 462.61,353.01 Q459.39,355.66 455.30,356.50 Q451.40,357.22 447.79,355.56 Q443.89,356.28 440.28,354.62 Q436.38,355.34 432.77,353.68 Q428.87,354.40 425.26,352.74 Q421.36,353.46 417.75,351.80 Q413.85,352.52 410.24,350.86 Q406.34,351.58 402.73,349.92 Q398.83,350.64 395.22,348.98 Q391.32,349.70 387.71,348.04 Q383.81,348.76 380.20,347.10 Z" fill="#16141f"/>
<g fill="#4a4860" fill-opacity="0.70"><circle cx="386.09" cy="346.48" r="0.45"/><circle cx="393.60" cy="347.42" r="0.45"/><circle cx="401.11" cy="348.36" r="0.45"/><circle cx="408.62" cy="349.30" r="0.45"/><circle cx="416.13" cy="350.24" r="0.45"/><circle cx="423.64" cy="351.18" r="0.45"/><circle cx="431.15" cy="352.12" r="0.45"/><circle cx="438.66" cy="353.06" r="0.45"/><circle cx="446.17" cy="354.00" r="0.45"/><circle cx="453.68" cy="354.94" r="0.45"/><circle cx="390.35" cy="344.31" r="0.45"/><circle cx="397.86" cy="345.25" r="0.45"/><circle cx="405.38" cy="346.19" r="0.45"/><circle cx="412.88" cy="347.13" r="0.45"/><circle cx="420.39" cy="348.07" r="0.45"/><circle cx="427.90" cy="349.01" r="0.45"/><circle cx="435.41" cy="349.95" r="0.45"/><circle cx="442.92" cy="350.89" r="0.45"/><circle cx="450.44" cy="351.83" r="0.45"/><circle cx="457.94" cy="352.77" r="0.45"/><circle cx="394.62" cy="342.13" r="0.45"/><circle cx="402.13" cy="343.07" r="0.45"/><circle cx="409.64" cy="344.01" r="0.45"/><circle cx="417.15" cy="344.95" r="0.45"/><circle cx="424.66" cy="345.89" r="0.45"/><circle cx="432.17" cy="346.83" r="0.45"/><circle cx="439.68" cy="347.77" r="0.45"/><circle cx="447.19" cy="348.71" r="0.45"/><circle cx="454.70" cy="349.65" r="0.45"/><circle cx="462.21" cy="350.59" r="0.45"/><circle cx="398.89" cy="339.96" r="0.45"/><circle cx="406.40" cy="340.90" r="0.45"/><circle cx="413.91" cy="341.84" r="0.45"/><circle cx="421.42" cy="342.78" r="0.45"/><circle cx="428.93" cy="343.72" r="0.45"/><circle cx="436.44" cy="344.66" r="0.45"/><circle cx="443.95" cy="345.60" r="0.45"/><circle cx="451.46" cy="346.54" r="0.45"/><circle cx="458.97" cy="347.48" r="0.45"/><circle cx="466.48" cy="348.42" r="0.45"/><circle cx="403.15" cy="337.78" r="0.45"/><circle cx="410.66" cy="338.72" r="0.45"/><circle cx="418.17" cy="339.66" r="0.45"/><circle cx="425.69" cy="340.60" r="0.45"/><circle cx="433.19" cy="341.54" r="0.45"/><circle cx="440.70" cy="342.48" r="0.45"/><circle cx="448.21" cy="343.42" r="0.45"/><circle cx="455.73" cy="344.36" r="0.45"/><circle cx="463.24" cy="345.30" r="0.45"/><circle cx="470.75" cy="346.24" r="0.45"/><circle cx="407.42" cy="335.61" r="0.45"/><circle cx="414.93" cy="336.55" r="0.45"/><circle cx="422.44" cy="337.49" r="0.45"/><circle cx="429.95" cy="338.43" r="0.45"/><circle cx="437.46" cy="339.37" r="0.45"/><circle cx="444.97" cy="340.31" r="0.45"/><circle cx="452.48" cy="341.25" r="0.45"/><circle cx="459.99" cy="342.19" r="0.45"/><circle cx="467.50" cy="343.13" r="0.45"/><circle cx="475.01" cy="344.07" r="0.45"/><circle cx="411.69" cy="333.43" r="0.45"/><circle cx="419.20" cy="334.37" r="0.45"/><circle cx="426.71" cy="335.31" r="0.45"/><circle cx="434.22" cy="336.25" r="0.45"/><circle cx="441.73" cy="337.19" r="0.45"/><circle cx="449.24" cy="338.13" r="0.45"/><circle cx="456.75" cy="339.07" r="0.45"/><circle cx="464.26" cy="340.01" r="0.45"/><circle cx="471.77" cy="340.95" r="0.45"/><circle cx="479.28" cy="341.89" r="0.45"/><circle cx="415.95" cy="331.26" r="0.45"/><circle cx="423.46" cy="332.20" r="0.45"/><circle cx="430.98" cy="333.14" r="0.45"/><circle cx="438.49" cy="334.08" r="0.45"/><circle cx="446.00" cy="335.02" r="0.45"/><circle cx="453.50" cy="335.96" r="0.45"/><circle cx="461.01" cy="336.90" r="0.45"/><circle cx="468.52" cy="337.84" r="0.45"/><circle cx="476.04" cy="338.78" r="0.45"/><circle cx="483.55" cy="339.72" r="0.45"/><circle cx="420.22" cy="329.08" r="0.45"/><circle cx="427.73" cy="330.02" r="0.45"/><circle cx="435.24" cy="330.96" r="0.45"/><circle cx="442.75" cy="331.90" r="0.45"/><circle cx="450.26" cy="332.84" r="0.45"/><circle cx="457.77" cy="333.78" r="0.45"/><circle cx="465.28" cy="334.72" r="0.45"/><circle cx="472.79" cy="335.66" r="0.45"/><circle cx="480.30" cy="336.60" r="0.45"/><circle cx="487.81" cy="337.54" r="0.45"/><circle cx="424.49" cy="326.91" r="0.45"/><circle cx="432.00" cy="327.85" r="0.45"/><circle cx="439.51" cy="328.79" r="0.45"/><circle cx="447.02" cy="329.73" r="0.45"/><circle cx="454.53" cy="330.67" r="0.45"/><circle cx="462.04" cy="331.61" r="0.45"/><circle cx="469.55" cy="332.55" r="0.45"/><circle cx="477.06" cy="333.49" r="0.45"/><circle cx="484.57" cy="334.43" r="0.45"/><circle cx="492.08" cy="335.37" r="0.45"/><circle cx="428.75" cy="324.73" r="0.45"/><circle cx="436.26" cy="325.67" r="0.45"/><circle cx="443.77" cy="326.61" r="0.45"/><circle cx="451.29" cy="327.55" r="0.45"/><circle cx="458.80" cy="328.49" r="0.45"/><circle cx="466.31" cy="329.43" r="0.45"/><circle cx="473.81" cy="330.37" r="0.45"/><circle cx="481.33" cy="331.31" r="0.45"/><circle cx="488.84" cy="332.25" r="0.45"/><circle cx="496.35" cy="333.19" r="0.45"/><circle cx="433.02" cy="322.56" r="0.45"/><circle cx="440.53" cy="323.50" r="0.45"/><circle cx="448.04" cy="324.44" r="0.45"/><circle cx="455.55" cy="325.38" r="0.45"/><circle cx="463.06" cy="326.32" r="0.45"/><circle cx="470.57" cy="327.26" r="0.45"/><circle cx="478.08" cy="328.20" r="0.45"/><circle cx="485.59" cy="329.14" r="0.45"/><circle cx="493.10" cy="330.08" r="0.45"/><circle cx="500.61" cy="331.02" r="0.45"/></g>
<line x1="405" y1="334.0" x2="458" y2="343.5" stroke="#2fa040" stroke-width="0.8" stroke-dasharray="1.6,1.2"/>
<g filter="url(#gblur)" transform="rotate(20 469 346)"><ellipse cx="469" cy="346" rx="10" ry="2.6" fill="#7a2090" fill-opacity="0.8"/><ellipse cx="470" cy="346" rx="7" ry="1.8" fill="#e86a28" fill-opacity="0.9"/><ellipse cx="471" cy="346" rx="3.5" ry="1.2" fill="#fff0b0" fill-opacity="0.95"/></g>
<text transform="translate(451.5,337.6) rotate(8)" font-family="Liberation Sans, sans-serif" font-size="8.4" fill="#e8e8f0" text-anchor="middle">Bottom</text>
<path d="M478.50,347.50 L485.92,345.46 L484.14,347.10 L497.21,349.22 L496.79,351.78 L483.72,349.66 L484.90,351.78 Z" fill="#1fae3c"/>
<line x1="431.60" y1="321.30" x2="431.60" y2="313.10" stroke="#f6f6f6" stroke-width="1.0"/>
<path d="M431.60,309.50 L433.30,313.10 L429.90,313.10 Z" fill="#f6f6f6"/>
<line x1="431.60" y1="321.30" x2="442.02" y2="322.27" stroke="#f6f6f6" stroke-width="1.0"/>
<path d="M445.60,322.60 L441.86,323.96 L442.17,320.57 Z" fill="#f6f6f6"/>
<line x1="431.60" y1="321.30" x2="424.83" y2="324.62" stroke="#f6f6f6" stroke-width="1.0"/>
<path d="M421.60,326.20 L424.08,323.09 L425.58,326.14 Z" fill="#f6f6f6"/>
<text x="436.70" y="309.30" font-family="Liberation Sans, sans-serif" font-size="8.2" font-style="italic" fill="#f6f6f6" text-anchor="middle">z</text>
<text x="449.60" y="322.20" font-family="Liberation Sans, sans-serif" font-size="8.2" font-style="italic" fill="#f6f6f6" text-anchor="middle">x</text>
<text x="419.70" y="322.70" font-family="Liberation Sans, sans-serif" font-size="8.2" font-style="italic" fill="#f6f6f6" text-anchor="middle">y</text>
<defs><filter id="hblur" x="-0.3" y="-0.5" width="1.6" height="2"><feGaussianBlur stdDeviation="0.9 0.6"/></filter></defs>
<defs><clipPath id="hc0"><rect x="557.50" y="204.20" width="104.50" height="48.70"/></clipPath></defs>
<rect x="557.50" y="204.20" width="104.50" height="48.70" fill="#0c0108"/>
<g clip-path="url(#hc0)"><g filter="url(#hblur)">
<rect x="559.50" y="203.70" width="96.50" height="2.6" fill="#5a1080" fill-opacity="0.9"/>
<ellipse cx="579.90" cy="204.20" rx="7.70" ry="5.79" fill="#6a1890" fill-opacity="0.95"/>
<ellipse cx="579.90" cy="204.20" rx="4.72" ry="3.56" fill="#c02a78"/>
<ellipse cx="579.90" cy="204.20" rx="3.32" ry="2.48" fill="#f07828"/>
<ellipse cx="579.90" cy="204.20" rx="1.82" ry="1.64" fill="#fcd850"/>
<ellipse cx="579.90" cy="217.20" rx="3.68" ry="3.2" fill="#3a0a50" fill-opacity="0.35"/>
<ellipse cx="601.60" cy="204.20" rx="14.75" ry="7.00" fill="#6a1890" fill-opacity="0.95"/>
<ellipse cx="601.60" cy="204.20" rx="10.12" ry="4.40" fill="#c02a78"/>
<ellipse cx="601.60" cy="204.20" rx="7.55" ry="3.10" fill="#f07828"/>
<ellipse cx="601.60" cy="204.20" rx="4.88" ry="2.10" fill="#fcd850"/>
<ellipse cx="601.60" cy="204.20" rx="2.62" ry="1.30" fill="#fffbd8"/>
<ellipse cx="601.60" cy="217.20" rx="6.50" ry="3.2" fill="#3a0a50" fill-opacity="0.35"/>
<ellipse cx="624.50" cy="204.20" rx="12.50" ry="6.17" fill="#6a1890" fill-opacity="0.95"/>
<ellipse cx="624.50" cy="204.20" rx="8.40" ry="3.83" fill="#c02a78"/>
<ellipse cx="624.50" cy="204.20" rx="6.20" ry="2.68" fill="#f07828"/>
<ellipse cx="624.50" cy="204.20" rx="3.90" ry="1.78" fill="#fcd850"/>
<ellipse cx="624.50" cy="217.20" rx="5.60" ry="3.2" fill="#3a0a50" fill-opacity="0.35"/>
</g></g>
<line x1="608.4" y1="204.20" x2="608.4" y2="252.90" stroke="#c01818" stroke-width="0.7" stroke-dasharray="1.6,1.2"/>
<rect x="557.50" y="204.20" width="104.50" height="48.70" fill="none" stroke="#7aa6d8" stroke-width="1.0"/>
<text x="658.80" y="250.10" font-family="Liberation Sans, sans-serif" font-size="8.40" fill="#f0f0f0" text-anchor="end" >5.79 kHz</text>
<text x="554.30" y="210.50" font-family="Liberation Sans, sans-serif" font-size="9.00" fill="#222" text-anchor="end" >16</text>
<text x="554.30" y="231.80" font-family="Liberation Sans, sans-serif" font-size="9.00" fill="#222" text-anchor="end" >8</text>
<text x="554.30" y="254.40" font-family="Liberation Sans, sans-serif" font-size="9.00" fill="#222" text-anchor="end" >0</text>
<text transform="translate(536.8,228.55) rotate(-90)" font-family="Liberation Sans, sans-serif" font-size="9.0" fill="#222" text-anchor="middle"><tspan font-style="italic">z</tspan> (cm)</text>
<defs><clipPath id="hc1"><rect x="557.50" y="255.30" width="104.50" height="48.30"/></clipPath></defs>
<rect x="557.50" y="255.30" width="104.50" height="48.30" fill="#0c0108"/>
<g clip-path="url(#hc1)"><g filter="url(#hblur)">
<rect x="559.50" y="254.80" width="96.50" height="2.6" fill="#5a1080" fill-opacity="0.9"/>
<ellipse cx="579.90" cy="255.30" rx="7.70" ry="5.79" fill="#6a1890" fill-opacity="0.95"/>
<ellipse cx="579.90" cy="255.30" rx="4.72" ry="3.56" fill="#c02a78"/>
<ellipse cx="579.90" cy="255.30" rx="3.32" ry="2.48" fill="#f07828"/>
<ellipse cx="579.90" cy="255.30" rx="1.82" ry="1.64" fill="#fcd850"/>
<ellipse cx="579.90" cy="268.30" rx="3.68" ry="3.2" fill="#3a0a50" fill-opacity="0.35"/>
<ellipse cx="602.50" cy="255.30" rx="17.00" ry="7.00" fill="#6a1890" fill-opacity="0.95"/>
<ellipse cx="602.50" cy="255.30" rx="11.85" ry="4.40" fill="#c02a78"/>
<ellipse cx="602.50" cy="255.30" rx="8.90" ry="3.10" fill="#f07828"/>
<ellipse cx="602.50" cy="255.30" rx="5.85" ry="2.10" fill="#fcd850"/>
<ellipse cx="602.50" cy="255.30" rx="3.15" ry="1.30" fill="#fffbd8"/>
<ellipse cx="602.50" cy="268.30" rx="7.40" ry="3.2" fill="#3a0a50" fill-opacity="0.35"/>
<ellipse cx="625.50" cy="255.30" rx="14.00" ry="6.01" fill="#6a1890" fill-opacity="0.95"/>
<ellipse cx="625.50" cy="255.30" rx="9.55" ry="3.72" fill="#c02a78"/>
<ellipse cx="625.50" cy="255.30" rx="7.10" ry="2.60" fill="#f07828"/>
<ellipse cx="625.50" cy="255.30" rx="4.55" ry="1.72" fill="#fcd850"/>
<ellipse cx="625.50" cy="268.30" rx="6.20" ry="3.2" fill="#3a0a50" fill-opacity="0.35"/>
</g></g>
<line x1="608.4" y1="255.30" x2="608.4" y2="303.60" stroke="#c01818" stroke-width="0.7" stroke-dasharray="1.6,1.2"/>
<rect x="557.50" y="255.30" width="104.50" height="48.30" fill="none" stroke="#7aa6d8" stroke-width="1.0"/>
<text x="658.80" y="300.80" font-family="Liberation Sans, sans-serif" font-size="8.40" fill="#f0f0f0" text-anchor="end" >5.81 kHz</text>
<text x="554.30" y="261.60" font-family="Liberation Sans, sans-serif" font-size="9.00" fill="#222" text-anchor="end" >16</text>
<text x="554.30" y="282.90" font-family="Liberation Sans, sans-serif" font-size="9.00" fill="#222" text-anchor="end" >8</text>
<text x="554.30" y="305.10" font-family="Liberation Sans, sans-serif" font-size="9.00" fill="#222" text-anchor="end" >0</text>
<text transform="translate(536.8,279.45) rotate(-90)" font-family="Liberation Sans, sans-serif" font-size="9.0" fill="#222" text-anchor="middle"><tspan font-style="italic">z</tspan> (cm)</text>
<defs><clipPath id="hc2"><rect x="557.50" y="306.20" width="104.50" height="48.60"/></clipPath></defs>
<rect x="557.50" y="306.20" width="104.50" height="48.60" fill="#0c0108"/>
<g clip-path="url(#hc2)"><g filter="url(#hblur)">
<rect x="559.50" y="305.70" width="96.50" height="2.6" fill="#5a1080" fill-opacity="0.9"/>
<ellipse cx="579.90" cy="306.20" rx="6.50" ry="4.80" fill="#6a1890" fill-opacity="0.95"/>
<ellipse cx="579.90" cy="306.20" rx="3.80" ry="2.88" fill="#c02a78"/>
<ellipse cx="579.90" cy="306.20" rx="2.60" ry="1.98" fill="#f07828"/>
<ellipse cx="579.90" cy="319.20" rx="3.20" ry="3.2" fill="#3a0a50" fill-opacity="0.35"/>
<ellipse cx="608.50" cy="306.20" rx="11.00" ry="7.00" fill="#6a1890" fill-opacity="0.95"/>
<ellipse cx="608.50" cy="306.20" rx="7.25" ry="4.40" fill="#c02a78"/>
<ellipse cx="608.50" cy="306.20" rx="5.30" ry="3.10" fill="#f07828"/>
<ellipse cx="608.50" cy="306.20" rx="3.25" ry="2.10" fill="#fcd850"/>
<ellipse cx="608.50" cy="306.20" rx="1.75" ry="1.30" fill="#fffbd8"/>
<ellipse cx="608.50" cy="319.20" rx="5.00" ry="3.2" fill="#3a0a50" fill-opacity="0.35"/>
<ellipse cx="632.00" cy="306.20" rx="21.50" ry="3.04" fill="#6a1890" fill-opacity="0.95"/>
<ellipse cx="632.00" cy="306.20" rx="15.30" ry="1.66" fill="#c02a78"/>
<ellipse cx="632.00" cy="306.20" rx="11.60" ry="1.08" fill="#f07828"/>
<ellipse cx="632.00" cy="319.20" rx="9.20" ry="3.2" fill="#3a0a50" fill-opacity="0.35"/>
</g></g>
<line x1="608.4" y1="306.20" x2="608.4" y2="354.80" stroke="#c01818" stroke-width="0.7" stroke-dasharray="1.6,1.2"/>
<rect x="557.50" y="306.20" width="104.50" height="48.60" fill="none" stroke="#7aa6d8" stroke-width="1.0"/>
<text x="658.80" y="352.00" font-family="Liberation Sans, sans-serif" font-size="8.40" fill="#f0f0f0" text-anchor="end" >5.83 kHz</text>
<text x="554.30" y="312.50" font-family="Liberation Sans, sans-serif" font-size="9.00" fill="#222" text-anchor="end" >16</text>
<text x="554.30" y="333.80" font-family="Liberation Sans, sans-serif" font-size="9.00" fill="#222" text-anchor="end" >8</text>
<text x="554.30" y="356.30" font-family="Liberation Sans, sans-serif" font-size="9.00" fill="#222" text-anchor="end" >0</text>
<text transform="translate(536.8,330.50) rotate(-90)" font-family="Liberation Sans, sans-serif" font-size="9.0" fill="#222" text-anchor="middle"><tspan font-style="italic">z</tspan> (cm)</text>
<text x="557.50" y="366.80" font-family="Liberation Sans, sans-serif" font-size="9.00" fill="#222" text-anchor="middle" >–20</text>
<text x="608.60" y="366.80" font-family="Liberation Sans, sans-serif" font-size="9.00" fill="#222" text-anchor="middle" >0</text>
<text x="662.00" y="366.80" font-family="Liberation Sans, sans-serif" font-size="9.00" fill="#222" text-anchor="middle" >20</text>
<text x="608.6" y="378.2" font-family="Liberation Sans, sans-serif" font-size="9.0" fill="#222" text-anchor="middle"><tspan font-style="italic">y</tspan> (cm)</text>
<defs><linearGradient id="infcb" x1="0" y1="0" x2="0" y2="1"><stop offset="0.000" stop-color="#fcffa4"/><stop offset="0.050" stop-color="#f9eb75"/><stop offset="0.100" stop-color="#f6d746"/><stop offset="0.150" stop-color="#f9be28"/><stop offset="0.200" stop-color="#fca50a"/><stop offset="0.250" stop-color="#f88e12"/><stop offset="0.300" stop-color="#f3761b"/><stop offset="0.350" stop-color="#e8642a"/><stop offset="0.400" stop-color="#dd513a"/><stop offset="0.450" stop-color="#cd4447"/><stop offset="0.500" stop-color="#bc3754"/><stop offset="0.550" stop-color="#a72e5e"/><stop offset="0.600" stop-color="#932667"/><stop offset="0.650" stop-color="#7e1e6a"/><stop offset="0.700" stop-color="#6a176e"/><stop offset="0.750" stop-color="#56106b"/><stop offset="0.800" stop-color="#420a68"/><stop offset="0.850" stop-color="#2c0a50"/><stop offset="0.900" stop-color="#160b39"/><stop offset="0.950" stop-color="#0b061f"/><stop offset="1.000" stop-color="#000004"/></linearGradient></defs>
<rect x="668.8" y="253.0" width="3.8" height="50.2" fill="url(#infcb)"/>
<text x="664.50" y="250.50" font-family="Liberation Sans, sans-serif" font-size="9.00" fill="#222" text-anchor="start" >Max.</text>
<text x="665.30" y="312.00" font-family="Liberation Sans, sans-serif" font-size="9.00" fill="#222" text-anchor="start" >Min.</text>
<text x="675.5" y="283.5" font-family="Liberation Sans, sans-serif" font-size="9.0" fill="#222">|<tspan font-style="italic">P</tspan>|</text>
</svg></body></html>
